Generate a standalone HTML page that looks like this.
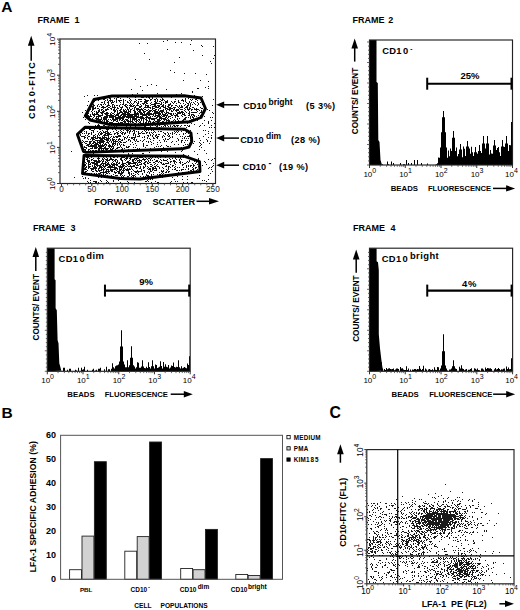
<!DOCTYPE html><html><head><meta charset="utf-8"><style>html,body{margin:0;padding:0;background:#fff;}svg{display:block;}</style></head><body>
<svg width="520" height="610" viewBox="0 0 520 610" font-family="&apos;Liberation Sans&apos;, sans-serif">
<rect width="520" height="610" fill="#fff"/>
<text x="1.3" y="12.4" font-size="15.5" font-weight="bold" text-anchor="start" fill="#000" >A</text>
<text x="1.4" y="418.1" font-size="15.5" font-weight="bold" text-anchor="start" fill="#000" >B</text>
<text x="329.6" y="418.4" font-size="15.8" font-weight="bold" text-anchor="start" fill="#000" >C</text>
<text x="37.6" y="23.2" font-size="9" font-weight="bold" text-anchor="start" fill="#000" >FRAME</text>
<text x="74.5" y="23.2" font-size="9" font-weight="bold" text-anchor="start" fill="#000" >1</text>
<path d="M167 40h1v1h-1zM191 40h1v1h-1zM163 41h1v1h-1zM175 42h1v1h-1zM181 42h1v1h-1zM139 43h1v1h-1zM147 43h1v1h-1zM190 44h1v1h-1zM201 45h1v1h-1zM202 46h1v1h-1zM213 46h1v1h-1zM167 49h1v1h-1zM193 50h1v1h-1zM144 53h1v1h-1zM202 55h1v1h-1zM214 55h1v1h-1zM179 57h1v1h-1zM213 58h1v1h-1zM149 59h1v1h-1zM210 61h1v1h-1zM174 62h1v1h-1zM211 63h1v1h-1zM170 70h1v1h-1zM174 72h1v1h-1zM184 73h1v1h-1zM195 73h1v1h-1zM206 74h1v1h-1zM135 79h1v1h-1zM183 80h1v1h-1zM200 80h1v1h-1zM208 81h1v1h-1zM151 84h1v1h-1zM147 85h1v1h-1zM156 85h1v1h-1zM140 86h1v1h-1zM208 86h1v1h-1zM205 87h1v1h-1zM197 88h1v1h-1zM198 88h1v1h-1zM208 88h1v1h-1zM131 89h1v1h-1zM166 89h1v1h-1zM142 90h1v1h-1zM192 91h1v1h-1zM192 92h1v1h-1zM137 93h1v1h-1zM157 93h1v1h-1zM181 93h1v1h-1zM132 94h1v1h-1zM176 94h1v1h-1zM87 95h1v1h-1zM94 95h1v1h-1zM97 95h1v1h-1zM108 95h1v1h-1zM153 95h1v1h-1zM177 95h1v1h-1zM179 95h1v1h-1zM186 95h1v1h-1zM194 95h1v1h-1zM84 96h1v1h-1zM119 96h1v1h-1zM131 96h1v1h-1zM139 96h1v1h-1zM141 96h1v1h-1zM142 96h1v1h-1zM145 96h1v1h-1zM147 96h1v1h-1zM149 96h1v1h-1zM150 96h1v1h-1zM153 96h1v1h-1zM158 96h1v1h-1zM170 96h1v1h-1zM171 96h1v1h-1zM172 96h1v1h-1zM179 96h1v1h-1zM182 96h1v1h-1zM184 96h1v1h-1zM185 96h1v1h-1zM188 96h1v1h-1zM193 96h1v1h-1zM202 96h1v1h-1zM117 97h1v1h-1zM118 97h1v1h-1zM127 97h1v1h-1zM135 97h1v1h-1zM141 97h1v1h-1zM142 97h1v1h-1zM143 97h1v1h-1zM146 97h1v1h-1zM148 97h1v1h-1zM149 97h1v1h-1zM152 97h1v1h-1zM161 97h1v1h-1zM171 97h1v1h-1zM189 97h1v1h-1zM194 97h1v1h-1zM201 97h1v1h-1zM94 98h1v1h-1zM105 98h1v1h-1zM109 98h1v1h-1zM110 98h1v1h-1zM114 98h1v1h-1zM116 98h1v1h-1zM120 98h1v1h-1zM129 98h1v1h-1zM149 98h1v1h-1zM152 98h1v1h-1zM156 98h1v1h-1zM162 98h1v1h-1zM185 98h1v1h-1zM188 98h1v1h-1zM196 98h1v1h-1zM200 98h1v1h-1zM97 99h1v1h-1zM103 99h1v1h-1zM104 99h1v1h-1zM107 99h1v1h-1zM110 99h1v1h-1zM116 99h1v1h-1zM123 99h1v1h-1zM130 99h1v1h-1zM135 99h1v1h-1zM138 99h1v1h-1zM139 99h1v1h-1zM140 99h1v1h-1zM141 99h1v1h-1zM144 99h1v1h-1zM145 99h1v1h-1zM150 99h1v1h-1zM151 99h1v1h-1zM154 99h1v1h-1zM155 99h1v1h-1zM157 99h1v1h-1zM160 99h1v1h-1zM162 99h1v1h-1zM163 99h1v1h-1zM175 99h1v1h-1zM182 99h1v1h-1zM185 99h1v1h-1zM190 99h1v1h-1zM192 99h1v1h-1zM195 99h1v1h-1zM196 99h1v1h-1zM213 99h1v1h-1zM95 100h1v1h-1zM98 100h1v1h-1zM105 100h1v1h-1zM107 100h1v1h-1zM109 100h1v1h-1zM110 100h1v1h-1zM111 100h1v1h-1zM112 100h1v1h-1zM116 100h1v1h-1zM118 100h1v1h-1zM119 100h1v1h-1zM120 100h1v1h-1zM121 100h1v1h-1zM123 100h1v1h-1zM125 100h1v1h-1zM129 100h1v1h-1zM131 100h1v1h-1zM136 100h1v1h-1zM145 100h1v1h-1zM146 100h1v1h-1zM147 100h1v1h-1zM148 100h1v1h-1zM150 100h1v1h-1zM155 100h1v1h-1zM157 100h1v1h-1zM161 100h1v1h-1zM162 100h1v1h-1zM164 100h1v1h-1zM167 100h1v1h-1zM178 100h1v1h-1zM181 100h1v1h-1zM182 100h1v1h-1zM183 100h1v1h-1zM185 100h1v1h-1zM191 100h1v1h-1zM197 100h1v1h-1zM88 101h1v1h-1zM94 101h1v1h-1zM104 101h1v1h-1zM108 101h1v1h-1zM110 101h1v1h-1zM112 101h1v1h-1zM114 101h1v1h-1zM116 101h1v1h-1zM119 101h1v1h-1zM123 101h1v1h-1zM127 101h1v1h-1zM130 101h1v1h-1zM134 101h1v1h-1zM135 101h1v1h-1zM138 101h1v1h-1zM140 101h1v1h-1zM141 101h1v1h-1zM144 101h1v1h-1zM145 101h1v1h-1zM146 101h1v1h-1zM147 101h1v1h-1zM154 101h1v1h-1zM155 101h1v1h-1zM157 101h1v1h-1zM159 101h1v1h-1zM160 101h1v1h-1zM165 101h1v1h-1zM166 101h1v1h-1zM167 101h1v1h-1zM171 101h1v1h-1zM174 101h1v1h-1zM175 101h1v1h-1zM178 101h1v1h-1zM183 101h1v1h-1zM185 101h1v1h-1zM189 101h1v1h-1zM195 101h1v1h-1zM101 102h1v1h-1zM102 102h1v1h-1zM104 102h1v1h-1zM107 102h1v1h-1zM108 102h1v1h-1zM111 102h1v1h-1zM112 102h1v1h-1zM113 102h1v1h-1zM116 102h1v1h-1zM120 102h1v1h-1zM123 102h1v1h-1zM127 102h1v1h-1zM128 102h1v1h-1zM130 102h1v1h-1zM134 102h1v1h-1zM136 102h1v1h-1zM138 102h1v1h-1zM144 102h1v1h-1zM145 102h1v1h-1zM146 102h1v1h-1zM151 102h1v1h-1zM155 102h1v1h-1zM156 102h1v1h-1zM161 102h1v1h-1zM163 102h1v1h-1zM165 102h1v1h-1zM166 102h1v1h-1zM167 102h1v1h-1zM172 102h1v1h-1zM174 102h1v1h-1zM178 102h1v1h-1zM179 102h1v1h-1zM186 102h1v1h-1zM189 102h1v1h-1zM191 102h1v1h-1zM193 102h1v1h-1zM197 102h1v1h-1zM200 102h1v1h-1zM202 102h1v1h-1zM92 103h1v1h-1zM104 103h1v1h-1zM108 103h1v1h-1zM111 103h1v1h-1zM123 103h1v1h-1zM129 103h1v1h-1zM131 103h1v1h-1zM133 103h1v1h-1zM137 103h1v1h-1zM138 103h1v1h-1zM142 103h1v1h-1zM143 103h1v1h-1zM144 103h1v1h-1zM146 103h1v1h-1zM147 103h1v1h-1zM150 103h1v1h-1zM154 103h1v1h-1zM155 103h1v1h-1zM156 103h1v1h-1zM157 103h1v1h-1zM158 103h1v1h-1zM159 103h1v1h-1zM161 103h1v1h-1zM165 103h1v1h-1zM170 103h1v1h-1zM173 103h1v1h-1zM176 103h1v1h-1zM180 103h1v1h-1zM183 103h1v1h-1zM187 103h1v1h-1zM188 103h1v1h-1zM190 103h1v1h-1zM194 103h1v1h-1zM198 103h1v1h-1zM93 104h1v1h-1zM98 104h1v1h-1zM100 104h1v1h-1zM101 104h1v1h-1zM103 104h1v1h-1zM105 104h1v1h-1zM108 104h1v1h-1zM112 104h1v1h-1zM113 104h1v1h-1zM120 104h1v1h-1zM122 104h1v1h-1zM123 104h1v1h-1zM125 104h1v1h-1zM126 104h1v1h-1zM130 104h1v1h-1zM132 104h1v1h-1zM137 104h1v1h-1zM140 104h1v1h-1zM143 104h1v1h-1zM145 104h1v1h-1zM151 104h1v1h-1zM152 104h1v1h-1zM153 104h1v1h-1zM154 104h1v1h-1zM155 104h1v1h-1zM160 104h1v1h-1zM161 104h1v1h-1zM163 104h1v1h-1zM168 104h1v1h-1zM169 104h1v1h-1zM170 104h1v1h-1zM185 104h1v1h-1zM188 104h1v1h-1zM190 104h1v1h-1zM192 104h1v1h-1zM195 104h1v1h-1zM198 104h1v1h-1zM202 104h1v1h-1zM203 104h1v1h-1zM87 105h1v1h-1zM91 105h1v1h-1zM93 105h1v1h-1zM94 105h1v1h-1zM97 105h1v1h-1zM101 105h1v1h-1zM107 105h1v1h-1zM108 105h1v1h-1zM109 105h1v1h-1zM112 105h1v1h-1zM114 105h1v1h-1zM116 105h1v1h-1zM117 105h1v1h-1zM119 105h1v1h-1zM124 105h1v1h-1zM125 105h1v1h-1zM127 105h1v1h-1zM129 105h1v1h-1zM130 105h1v1h-1zM131 105h1v1h-1zM133 105h1v1h-1zM134 105h1v1h-1zM136 105h1v1h-1zM137 105h1v1h-1zM138 105h1v1h-1zM141 105h1v1h-1zM145 105h1v1h-1zM146 105h1v1h-1zM147 105h1v1h-1zM148 105h1v1h-1zM150 105h1v1h-1zM154 105h1v1h-1zM155 105h1v1h-1zM157 105h1v1h-1zM158 105h1v1h-1zM159 105h1v1h-1zM162 105h1v1h-1zM163 105h1v1h-1zM165 105h1v1h-1zM168 105h1v1h-1zM169 105h1v1h-1zM171 105h1v1h-1zM172 105h1v1h-1zM175 105h1v1h-1zM176 105h1v1h-1zM179 105h1v1h-1zM181 105h1v1h-1zM184 105h1v1h-1zM187 105h1v1h-1zM188 105h1v1h-1zM190 105h1v1h-1zM197 105h1v1h-1zM212 105h1v1h-1zM91 106h1v1h-1zM92 106h1v1h-1zM93 106h1v1h-1zM97 106h1v1h-1zM99 106h1v1h-1zM102 106h1v1h-1zM103 106h1v1h-1zM106 106h1v1h-1zM107 106h1v1h-1zM110 106h1v1h-1zM112 106h1v1h-1zM114 106h1v1h-1zM119 106h1v1h-1zM122 106h1v1h-1zM125 106h1v1h-1zM126 106h1v1h-1zM130 106h1v1h-1zM131 106h1v1h-1zM132 106h1v1h-1zM133 106h1v1h-1zM135 106h1v1h-1zM139 106h1v1h-1zM140 106h1v1h-1zM141 106h1v1h-1zM145 106h1v1h-1zM147 106h1v1h-1zM148 106h1v1h-1zM152 106h1v1h-1zM153 106h1v1h-1zM154 106h1v1h-1zM155 106h1v1h-1zM156 106h1v1h-1zM158 106h1v1h-1zM159 106h1v1h-1zM161 106h1v1h-1zM162 106h1v1h-1zM163 106h1v1h-1zM165 106h1v1h-1zM167 106h1v1h-1zM168 106h1v1h-1zM171 106h1v1h-1zM177 106h1v1h-1zM179 106h1v1h-1zM181 106h1v1h-1zM182 106h1v1h-1zM186 106h1v1h-1zM187 106h1v1h-1zM190 106h1v1h-1zM90 107h1v1h-1zM92 107h1v1h-1zM93 107h1v1h-1zM95 107h1v1h-1zM101 107h1v1h-1zM102 107h1v1h-1zM103 107h1v1h-1zM104 107h1v1h-1zM105 107h1v1h-1zM108 107h1v1h-1zM109 107h1v1h-1zM112 107h1v1h-1zM113 107h1v1h-1zM114 107h1v1h-1zM115 107h1v1h-1zM117 107h1v1h-1zM120 107h1v1h-1zM121 107h1v1h-1zM122 107h1v1h-1zM126 107h1v1h-1zM127 107h1v1h-1zM129 107h1v1h-1zM134 107h1v1h-1zM135 107h1v1h-1zM139 107h1v1h-1zM140 107h1v1h-1zM144 107h1v1h-1zM145 107h1v1h-1zM146 107h1v1h-1zM147 107h1v1h-1zM148 107h1v1h-1zM149 107h1v1h-1zM150 107h1v1h-1zM152 107h1v1h-1zM155 107h1v1h-1zM156 107h1v1h-1zM157 107h1v1h-1zM158 107h1v1h-1zM160 107h1v1h-1zM163 107h1v1h-1zM164 107h1v1h-1zM165 107h1v1h-1zM168 107h1v1h-1zM169 107h1v1h-1zM170 107h1v1h-1zM173 107h1v1h-1zM174 107h1v1h-1zM175 107h1v1h-1zM178 107h1v1h-1zM180 107h1v1h-1zM181 107h1v1h-1zM182 107h1v1h-1zM185 107h1v1h-1zM186 107h1v1h-1zM187 107h1v1h-1zM189 107h1v1h-1zM192 107h1v1h-1zM193 107h1v1h-1zM200 107h1v1h-1zM204 107h1v1h-1zM92 108h1v1h-1zM93 108h1v1h-1zM94 108h1v1h-1zM95 108h1v1h-1zM97 108h1v1h-1zM98 108h1v1h-1zM103 108h1v1h-1zM107 108h1v1h-1zM110 108h1v1h-1zM111 108h1v1h-1zM114 108h1v1h-1zM117 108h1v1h-1zM118 108h1v1h-1zM121 108h1v1h-1zM127 108h1v1h-1zM129 108h1v1h-1zM132 108h1v1h-1zM134 108h1v1h-1zM136 108h1v1h-1zM137 108h1v1h-1zM138 108h1v1h-1zM141 108h1v1h-1zM143 108h1v1h-1zM150 108h1v1h-1zM152 108h1v1h-1zM153 108h1v1h-1zM154 108h1v1h-1zM159 108h1v1h-1zM160 108h1v1h-1zM165 108h1v1h-1zM166 108h1v1h-1zM167 108h1v1h-1zM169 108h1v1h-1zM170 108h1v1h-1zM171 108h1v1h-1zM172 108h1v1h-1zM174 108h1v1h-1zM179 108h1v1h-1zM184 108h1v1h-1zM187 108h1v1h-1zM189 108h1v1h-1zM190 108h1v1h-1zM194 108h1v1h-1zM196 108h1v1h-1zM201 108h1v1h-1zM202 108h1v1h-1zM90 109h1v1h-1zM92 109h1v1h-1zM93 109h1v1h-1zM99 109h1v1h-1zM101 109h1v1h-1zM102 109h1v1h-1zM105 109h1v1h-1zM106 109h1v1h-1zM107 109h1v1h-1zM108 109h1v1h-1zM111 109h1v1h-1zM113 109h1v1h-1zM114 109h1v1h-1zM116 109h1v1h-1zM120 109h1v1h-1zM121 109h1v1h-1zM123 109h1v1h-1zM125 109h1v1h-1zM127 109h1v1h-1zM128 109h1v1h-1zM130 109h1v1h-1zM131 109h1v1h-1zM134 109h1v1h-1zM136 109h1v1h-1zM137 109h1v1h-1zM138 109h1v1h-1zM139 109h1v1h-1zM140 109h1v1h-1zM141 109h1v1h-1zM142 109h1v1h-1zM144 109h1v1h-1zM145 109h1v1h-1zM148 109h1v1h-1zM152 109h1v1h-1zM155 109h1v1h-1zM156 109h1v1h-1zM158 109h1v1h-1zM163 109h1v1h-1zM165 109h1v1h-1zM167 109h1v1h-1zM168 109h1v1h-1zM169 109h1v1h-1zM170 109h1v1h-1zM173 109h1v1h-1zM174 109h1v1h-1zM176 109h1v1h-1zM177 109h1v1h-1zM178 109h1v1h-1zM180 109h1v1h-1zM181 109h1v1h-1zM182 109h1v1h-1zM185 109h1v1h-1zM187 109h1v1h-1zM188 109h1v1h-1zM189 109h1v1h-1zM191 109h1v1h-1zM192 109h1v1h-1zM194 109h1v1h-1zM195 109h1v1h-1zM196 109h1v1h-1zM197 109h1v1h-1zM198 109h1v1h-1zM207 109h1v1h-1zM85 110h1v1h-1zM92 110h1v1h-1zM98 110h1v1h-1zM99 110h1v1h-1zM101 110h1v1h-1zM103 110h1v1h-1zM105 110h1v1h-1zM106 110h1v1h-1zM113 110h1v1h-1zM114 110h1v1h-1zM115 110h1v1h-1zM117 110h1v1h-1zM119 110h1v1h-1zM120 110h1v1h-1zM123 110h1v1h-1zM124 110h1v1h-1zM126 110h1v1h-1zM128 110h1v1h-1zM130 110h1v1h-1zM133 110h1v1h-1zM134 110h1v1h-1zM137 110h1v1h-1zM139 110h1v1h-1zM140 110h1v1h-1zM142 110h1v1h-1zM143 110h1v1h-1zM146 110h1v1h-1zM147 110h1v1h-1zM149 110h1v1h-1zM150 110h1v1h-1zM151 110h1v1h-1zM153 110h1v1h-1zM154 110h1v1h-1zM155 110h1v1h-1zM158 110h1v1h-1zM160 110h1v1h-1zM161 110h1v1h-1zM162 110h1v1h-1zM163 110h1v1h-1zM166 110h1v1h-1zM169 110h1v1h-1zM171 110h1v1h-1zM173 110h1v1h-1zM175 110h1v1h-1zM176 110h1v1h-1zM177 110h1v1h-1zM178 110h1v1h-1zM184 110h1v1h-1zM188 110h1v1h-1zM191 110h1v1h-1zM196 110h1v1h-1zM199 110h1v1h-1zM201 110h1v1h-1zM209 110h1v1h-1zM91 111h1v1h-1zM94 111h1v1h-1zM96 111h1v1h-1zM98 111h1v1h-1zM99 111h1v1h-1zM102 111h1v1h-1zM103 111h1v1h-1zM104 111h1v1h-1zM114 111h1v1h-1zM115 111h1v1h-1zM117 111h1v1h-1zM120 111h1v1h-1zM121 111h1v1h-1zM123 111h1v1h-1zM124 111h1v1h-1zM125 111h1v1h-1zM126 111h1v1h-1zM128 111h1v1h-1zM129 111h1v1h-1zM130 111h1v1h-1zM134 111h1v1h-1zM135 111h1v1h-1zM138 111h1v1h-1zM139 111h1v1h-1zM140 111h1v1h-1zM143 111h1v1h-1zM144 111h1v1h-1zM145 111h1v1h-1zM148 111h1v1h-1zM149 111h1v1h-1zM150 111h1v1h-1zM152 111h1v1h-1zM154 111h1v1h-1zM155 111h1v1h-1zM156 111h1v1h-1zM157 111h1v1h-1zM159 111h1v1h-1zM160 111h1v1h-1zM161 111h1v1h-1zM162 111h1v1h-1zM163 111h1v1h-1zM166 111h1v1h-1zM171 111h1v1h-1zM172 111h1v1h-1zM176 111h1v1h-1zM179 111h1v1h-1zM181 111h1v1h-1zM182 111h1v1h-1zM185 111h1v1h-1zM189 111h1v1h-1zM197 111h1v1h-1zM201 111h1v1h-1zM203 111h1v1h-1zM82 112h1v1h-1zM87 112h1v1h-1zM92 112h1v1h-1zM96 112h1v1h-1zM97 112h1v1h-1zM98 112h1v1h-1zM100 112h1v1h-1zM101 112h1v1h-1zM102 112h1v1h-1zM103 112h1v1h-1zM106 112h1v1h-1zM107 112h1v1h-1zM111 112h1v1h-1zM114 112h1v1h-1zM117 112h1v1h-1zM119 112h1v1h-1zM120 112h1v1h-1zM121 112h1v1h-1zM122 112h1v1h-1zM124 112h1v1h-1zM125 112h1v1h-1zM126 112h1v1h-1zM127 112h1v1h-1zM128 112h1v1h-1zM130 112h1v1h-1zM134 112h1v1h-1zM135 112h1v1h-1zM137 112h1v1h-1zM139 112h1v1h-1zM140 112h1v1h-1zM141 112h1v1h-1zM143 112h1v1h-1zM144 112h1v1h-1zM147 112h1v1h-1zM148 112h1v1h-1zM149 112h1v1h-1zM154 112h1v1h-1zM155 112h1v1h-1zM156 112h1v1h-1zM157 112h1v1h-1zM158 112h1v1h-1zM159 112h1v1h-1zM161 112h1v1h-1zM162 112h1v1h-1zM164 112h1v1h-1zM166 112h1v1h-1zM167 112h1v1h-1zM168 112h1v1h-1zM177 112h1v1h-1zM178 112h1v1h-1zM179 112h1v1h-1zM180 112h1v1h-1zM181 112h1v1h-1zM182 112h1v1h-1zM183 112h1v1h-1zM186 112h1v1h-1zM189 112h1v1h-1zM191 112h1v1h-1zM192 112h1v1h-1zM193 112h1v1h-1zM194 112h1v1h-1zM195 112h1v1h-1zM196 112h1v1h-1zM200 112h1v1h-1zM201 112h1v1h-1zM212 112h1v1h-1zM87 113h1v1h-1zM88 113h1v1h-1zM92 113h1v1h-1zM94 113h1v1h-1zM96 113h1v1h-1zM97 113h1v1h-1zM101 113h1v1h-1zM102 113h1v1h-1zM104 113h1v1h-1zM105 113h1v1h-1zM106 113h1v1h-1zM107 113h1v1h-1zM108 113h1v1h-1zM110 113h1v1h-1zM112 113h1v1h-1zM113 113h1v1h-1zM117 113h1v1h-1zM118 113h1v1h-1zM119 113h1v1h-1zM122 113h1v1h-1zM123 113h1v1h-1zM124 113h1v1h-1zM125 113h1v1h-1zM127 113h1v1h-1zM128 113h1v1h-1zM129 113h1v1h-1zM134 113h1v1h-1zM135 113h1v1h-1zM136 113h1v1h-1zM137 113h1v1h-1zM138 113h1v1h-1zM140 113h1v1h-1zM141 113h1v1h-1zM142 113h1v1h-1zM144 113h1v1h-1zM146 113h1v1h-1zM147 113h1v1h-1zM148 113h1v1h-1zM149 113h1v1h-1zM150 113h1v1h-1zM151 113h1v1h-1zM153 113h1v1h-1zM154 113h1v1h-1zM155 113h1v1h-1zM156 113h1v1h-1zM157 113h1v1h-1zM158 113h1v1h-1zM159 113h1v1h-1zM160 113h1v1h-1zM162 113h1v1h-1zM165 113h1v1h-1zM166 113h1v1h-1zM168 113h1v1h-1zM169 113h1v1h-1zM170 113h1v1h-1zM171 113h1v1h-1zM173 113h1v1h-1zM175 113h1v1h-1zM177 113h1v1h-1zM178 113h1v1h-1zM179 113h1v1h-1zM180 113h1v1h-1zM182 113h1v1h-1zM184 113h1v1h-1zM188 113h1v1h-1zM189 113h1v1h-1zM199 113h1v1h-1zM213 113h1v1h-1zM87 114h1v1h-1zM90 114h1v1h-1zM92 114h1v1h-1zM93 114h1v1h-1zM94 114h1v1h-1zM95 114h1v1h-1zM96 114h1v1h-1zM97 114h1v1h-1zM98 114h1v1h-1zM102 114h1v1h-1zM105 114h1v1h-1zM106 114h1v1h-1zM107 114h1v1h-1zM110 114h1v1h-1zM111 114h1v1h-1zM114 114h1v1h-1zM116 114h1v1h-1zM117 114h1v1h-1zM118 114h1v1h-1zM121 114h1v1h-1zM122 114h1v1h-1zM123 114h1v1h-1zM124 114h1v1h-1zM125 114h1v1h-1zM126 114h1v1h-1zM127 114h1v1h-1zM128 114h1v1h-1zM129 114h1v1h-1zM130 114h1v1h-1zM131 114h1v1h-1zM132 114h1v1h-1zM133 114h1v1h-1zM134 114h1v1h-1zM135 114h1v1h-1zM136 114h1v1h-1zM137 114h1v1h-1zM138 114h1v1h-1zM140 114h1v1h-1zM141 114h1v1h-1zM142 114h1v1h-1zM143 114h1v1h-1zM144 114h1v1h-1zM145 114h1v1h-1zM146 114h1v1h-1zM147 114h1v1h-1zM148 114h1v1h-1zM149 114h1v1h-1zM150 114h1v1h-1zM151 114h1v1h-1zM152 114h1v1h-1zM153 114h1v1h-1zM155 114h1v1h-1zM158 114h1v1h-1zM159 114h1v1h-1zM160 114h1v1h-1zM162 114h1v1h-1zM163 114h1v1h-1zM164 114h1v1h-1zM165 114h1v1h-1zM167 114h1v1h-1zM170 114h1v1h-1zM171 114h1v1h-1zM173 114h1v1h-1zM176 114h1v1h-1zM177 114h1v1h-1zM182 114h1v1h-1zM183 114h1v1h-1zM184 114h1v1h-1zM189 114h1v1h-1zM191 114h1v1h-1zM192 114h1v1h-1zM193 114h1v1h-1zM86 115h1v1h-1zM87 115h1v1h-1zM88 115h1v1h-1zM90 115h1v1h-1zM93 115h1v1h-1zM94 115h1v1h-1zM98 115h1v1h-1zM99 115h1v1h-1zM100 115h1v1h-1zM101 115h1v1h-1zM102 115h1v1h-1zM106 115h1v1h-1zM107 115h1v1h-1zM108 115h1v1h-1zM109 115h1v1h-1zM110 115h1v1h-1zM111 115h1v1h-1zM112 115h1v1h-1zM113 115h1v1h-1zM115 115h1v1h-1zM116 115h1v1h-1zM117 115h1v1h-1zM118 115h1v1h-1zM120 115h1v1h-1zM121 115h1v1h-1zM123 115h1v1h-1zM124 115h1v1h-1zM125 115h1v1h-1zM127 115h1v1h-1zM128 115h1v1h-1zM129 115h1v1h-1zM130 115h1v1h-1zM131 115h1v1h-1zM132 115h1v1h-1zM134 115h1v1h-1zM135 115h1v1h-1zM136 115h1v1h-1zM138 115h1v1h-1zM142 115h1v1h-1zM143 115h1v1h-1zM144 115h1v1h-1zM145 115h1v1h-1zM146 115h1v1h-1zM148 115h1v1h-1zM149 115h1v1h-1zM153 115h1v1h-1zM155 115h1v1h-1zM156 115h1v1h-1zM157 115h1v1h-1zM158 115h1v1h-1zM159 115h1v1h-1zM161 115h1v1h-1zM163 115h1v1h-1zM164 115h1v1h-1zM165 115h1v1h-1zM166 115h1v1h-1zM167 115h1v1h-1zM171 115h1v1h-1zM172 115h1v1h-1zM174 115h1v1h-1zM175 115h1v1h-1zM176 115h1v1h-1zM177 115h1v1h-1zM181 115h1v1h-1zM184 115h1v1h-1zM185 115h1v1h-1zM188 115h1v1h-1zM189 115h1v1h-1zM191 115h1v1h-1zM193 115h1v1h-1zM194 115h1v1h-1zM198 115h1v1h-1zM200 115h1v1h-1zM87 116h1v1h-1zM88 116h1v1h-1zM89 116h1v1h-1zM90 116h1v1h-1zM91 116h1v1h-1zM94 116h1v1h-1zM96 116h1v1h-1zM97 116h1v1h-1zM98 116h1v1h-1zM99 116h1v1h-1zM100 116h1v1h-1zM104 116h1v1h-1zM105 116h1v1h-1zM106 116h1v1h-1zM107 116h1v1h-1zM109 116h1v1h-1zM110 116h1v1h-1zM111 116h1v1h-1zM112 116h1v1h-1zM113 116h1v1h-1zM114 116h1v1h-1zM115 116h1v1h-1zM118 116h1v1h-1zM119 116h1v1h-1zM120 116h1v1h-1zM122 116h1v1h-1zM123 116h1v1h-1zM124 116h1v1h-1zM125 116h1v1h-1zM126 116h1v1h-1zM127 116h1v1h-1zM128 116h1v1h-1zM129 116h1v1h-1zM130 116h1v1h-1zM131 116h1v1h-1zM132 116h1v1h-1zM133 116h1v1h-1zM134 116h1v1h-1zM135 116h1v1h-1zM136 116h1v1h-1zM137 116h1v1h-1zM138 116h1v1h-1zM140 116h1v1h-1zM141 116h1v1h-1zM142 116h1v1h-1zM146 116h1v1h-1zM147 116h1v1h-1zM150 116h1v1h-1zM152 116h1v1h-1zM154 116h1v1h-1zM155 116h1v1h-1zM157 116h1v1h-1zM158 116h1v1h-1zM159 116h1v1h-1zM160 116h1v1h-1zM162 116h1v1h-1zM163 116h1v1h-1zM164 116h1v1h-1zM166 116h1v1h-1zM168 116h1v1h-1zM169 116h1v1h-1zM170 116h1v1h-1zM175 116h1v1h-1zM177 116h1v1h-1zM178 116h1v1h-1zM182 116h1v1h-1zM190 116h1v1h-1zM192 116h1v1h-1zM194 116h1v1h-1zM196 116h1v1h-1zM204 116h1v1h-1zM83 117h1v1h-1zM87 117h1v1h-1zM89 117h1v1h-1zM93 117h1v1h-1zM96 117h1v1h-1zM98 117h1v1h-1zM101 117h1v1h-1zM103 117h1v1h-1zM104 117h1v1h-1zM105 117h1v1h-1zM106 117h1v1h-1zM107 117h1v1h-1zM109 117h1v1h-1zM110 117h1v1h-1zM111 117h1v1h-1zM112 117h1v1h-1zM113 117h1v1h-1zM115 117h1v1h-1zM116 117h1v1h-1zM117 117h1v1h-1zM118 117h1v1h-1zM119 117h1v1h-1zM120 117h1v1h-1zM121 117h1v1h-1zM122 117h1v1h-1zM123 117h1v1h-1zM124 117h1v1h-1zM126 117h1v1h-1zM127 117h1v1h-1zM128 117h1v1h-1zM129 117h1v1h-1zM130 117h1v1h-1zM131 117h1v1h-1zM132 117h1v1h-1zM133 117h1v1h-1zM134 117h1v1h-1zM136 117h1v1h-1zM137 117h1v1h-1zM138 117h1v1h-1zM139 117h1v1h-1zM140 117h1v1h-1zM141 117h1v1h-1zM142 117h1v1h-1zM143 117h1v1h-1zM145 117h1v1h-1zM146 117h1v1h-1zM147 117h1v1h-1zM148 117h1v1h-1zM149 117h1v1h-1zM150 117h1v1h-1zM156 117h1v1h-1zM157 117h1v1h-1zM159 117h1v1h-1zM160 117h1v1h-1zM161 117h1v1h-1zM165 117h1v1h-1zM166 117h1v1h-1zM168 117h1v1h-1zM172 117h1v1h-1zM175 117h1v1h-1zM185 117h1v1h-1zM186 117h1v1h-1zM188 117h1v1h-1zM190 117h1v1h-1zM192 117h1v1h-1zM193 117h1v1h-1zM198 117h1v1h-1zM200 117h1v1h-1zM210 117h1v1h-1zM212 117h1v1h-1zM90 118h1v1h-1zM92 118h1v1h-1zM95 118h1v1h-1zM96 118h1v1h-1zM97 118h1v1h-1zM98 118h1v1h-1zM101 118h1v1h-1zM103 118h1v1h-1zM104 118h1v1h-1zM105 118h1v1h-1zM106 118h1v1h-1zM112 118h1v1h-1zM113 118h1v1h-1zM115 118h1v1h-1zM116 118h1v1h-1zM117 118h1v1h-1zM118 118h1v1h-1zM119 118h1v1h-1zM120 118h1v1h-1zM121 118h1v1h-1zM122 118h1v1h-1zM123 118h1v1h-1zM128 118h1v1h-1zM130 118h1v1h-1zM132 118h1v1h-1zM133 118h1v1h-1zM134 118h1v1h-1zM135 118h1v1h-1zM136 118h1v1h-1zM140 118h1v1h-1zM141 118h1v1h-1zM142 118h1v1h-1zM143 118h1v1h-1zM144 118h1v1h-1zM146 118h1v1h-1zM148 118h1v1h-1zM149 118h1v1h-1zM150 118h1v1h-1zM151 118h1v1h-1zM152 118h1v1h-1zM153 118h1v1h-1zM154 118h1v1h-1zM155 118h1v1h-1zM156 118h1v1h-1zM159 118h1v1h-1zM160 118h1v1h-1zM161 118h1v1h-1zM162 118h1v1h-1zM163 118h1v1h-1zM164 118h1v1h-1zM165 118h1v1h-1zM167 118h1v1h-1zM170 118h1v1h-1zM177 118h1v1h-1zM179 118h1v1h-1zM184 118h1v1h-1zM185 118h1v1h-1zM190 118h1v1h-1zM193 118h1v1h-1zM199 118h1v1h-1zM85 119h1v1h-1zM89 119h1v1h-1zM91 119h1v1h-1zM96 119h1v1h-1zM97 119h1v1h-1zM98 119h1v1h-1zM99 119h1v1h-1zM100 119h1v1h-1zM101 119h1v1h-1zM103 119h1v1h-1zM104 119h1v1h-1zM105 119h1v1h-1zM106 119h1v1h-1zM108 119h1v1h-1zM110 119h1v1h-1zM112 119h1v1h-1zM113 119h1v1h-1zM114 119h1v1h-1zM115 119h1v1h-1zM116 119h1v1h-1zM117 119h1v1h-1zM119 119h1v1h-1zM120 119h1v1h-1zM122 119h1v1h-1zM123 119h1v1h-1zM125 119h1v1h-1zM126 119h1v1h-1zM127 119h1v1h-1zM130 119h1v1h-1zM132 119h1v1h-1zM133 119h1v1h-1zM134 119h1v1h-1zM135 119h1v1h-1zM136 119h1v1h-1zM138 119h1v1h-1zM139 119h1v1h-1zM141 119h1v1h-1zM143 119h1v1h-1zM145 119h1v1h-1zM146 119h1v1h-1zM149 119h1v1h-1zM151 119h1v1h-1zM152 119h1v1h-1zM153 119h1v1h-1zM154 119h1v1h-1zM157 119h1v1h-1zM158 119h1v1h-1zM159 119h1v1h-1zM161 119h1v1h-1zM163 119h1v1h-1zM164 119h1v1h-1zM165 119h1v1h-1zM166 119h1v1h-1zM168 119h1v1h-1zM174 119h1v1h-1zM177 119h1v1h-1zM183 119h1v1h-1zM184 119h1v1h-1zM185 119h1v1h-1zM191 119h1v1h-1zM192 119h1v1h-1zM93 120h1v1h-1zM95 120h1v1h-1zM98 120h1v1h-1zM99 120h1v1h-1zM100 120h1v1h-1zM102 120h1v1h-1zM104 120h1v1h-1zM106 120h1v1h-1zM107 120h1v1h-1zM111 120h1v1h-1zM113 120h1v1h-1zM114 120h1v1h-1zM115 120h1v1h-1zM117 120h1v1h-1zM119 120h1v1h-1zM121 120h1v1h-1zM122 120h1v1h-1zM124 120h1v1h-1zM126 120h1v1h-1zM127 120h1v1h-1zM128 120h1v1h-1zM130 120h1v1h-1zM132 120h1v1h-1zM134 120h1v1h-1zM136 120h1v1h-1zM137 120h1v1h-1zM139 120h1v1h-1zM141 120h1v1h-1zM143 120h1v1h-1zM146 120h1v1h-1zM147 120h1v1h-1zM149 120h1v1h-1zM154 120h1v1h-1zM157 120h1v1h-1zM158 120h1v1h-1zM159 120h1v1h-1zM160 120h1v1h-1zM164 120h1v1h-1zM166 120h1v1h-1zM167 120h1v1h-1zM168 120h1v1h-1zM169 120h1v1h-1zM173 120h1v1h-1zM175 120h1v1h-1zM178 120h1v1h-1zM182 120h1v1h-1zM183 120h1v1h-1zM189 120h1v1h-1zM191 120h1v1h-1zM197 120h1v1h-1zM204 120h1v1h-1zM211 120h1v1h-1zM97 121h1v1h-1zM98 121h1v1h-1zM99 121h1v1h-1zM100 121h1v1h-1zM101 121h1v1h-1zM104 121h1v1h-1zM106 121h1v1h-1zM107 121h1v1h-1zM108 121h1v1h-1zM113 121h1v1h-1zM116 121h1v1h-1zM117 121h1v1h-1zM123 121h1v1h-1zM124 121h1v1h-1zM125 121h1v1h-1zM127 121h1v1h-1zM128 121h1v1h-1zM129 121h1v1h-1zM130 121h1v1h-1zM131 121h1v1h-1zM132 121h1v1h-1zM135 121h1v1h-1zM136 121h1v1h-1zM138 121h1v1h-1zM140 121h1v1h-1zM143 121h1v1h-1zM146 121h1v1h-1zM148 121h1v1h-1zM149 121h1v1h-1zM150 121h1v1h-1zM153 121h1v1h-1zM155 121h1v1h-1zM156 121h1v1h-1zM157 121h1v1h-1zM158 121h1v1h-1zM159 121h1v1h-1zM162 121h1v1h-1zM163 121h1v1h-1zM166 121h1v1h-1zM168 121h1v1h-1zM169 121h1v1h-1zM171 121h1v1h-1zM172 121h1v1h-1zM175 121h1v1h-1zM177 121h1v1h-1zM178 121h1v1h-1zM179 121h1v1h-1zM180 121h1v1h-1zM183 121h1v1h-1zM184 121h1v1h-1zM185 121h1v1h-1zM187 121h1v1h-1zM188 121h1v1h-1zM190 121h1v1h-1zM208 121h1v1h-1zM88 122h1v1h-1zM101 122h1v1h-1zM103 122h1v1h-1zM104 122h1v1h-1zM105 122h1v1h-1zM106 122h1v1h-1zM107 122h1v1h-1zM109 122h1v1h-1zM110 122h1v1h-1zM111 122h1v1h-1zM112 122h1v1h-1zM118 122h1v1h-1zM120 122h1v1h-1zM121 122h1v1h-1zM122 122h1v1h-1zM124 122h1v1h-1zM125 122h1v1h-1zM128 122h1v1h-1zM130 122h1v1h-1zM132 122h1v1h-1zM133 122h1v1h-1zM136 122h1v1h-1zM139 122h1v1h-1zM140 122h1v1h-1zM143 122h1v1h-1zM145 122h1v1h-1zM146 122h1v1h-1zM148 122h1v1h-1zM150 122h1v1h-1zM152 122h1v1h-1zM153 122h1v1h-1zM154 122h1v1h-1zM157 122h1v1h-1zM158 122h1v1h-1zM160 122h1v1h-1zM161 122h1v1h-1zM162 122h1v1h-1zM169 122h1v1h-1zM175 122h1v1h-1zM176 122h1v1h-1zM182 122h1v1h-1zM208 122h1v1h-1zM89 123h1v1h-1zM101 123h1v1h-1zM105 123h1v1h-1zM106 123h1v1h-1zM108 123h1v1h-1zM115 123h1v1h-1zM117 123h1v1h-1zM119 123h1v1h-1zM122 123h1v1h-1zM126 123h1v1h-1zM127 123h1v1h-1zM128 123h1v1h-1zM134 123h1v1h-1zM135 123h1v1h-1zM138 123h1v1h-1zM140 123h1v1h-1zM141 123h1v1h-1zM142 123h1v1h-1zM143 123h1v1h-1zM145 123h1v1h-1zM147 123h1v1h-1zM149 123h1v1h-1zM151 123h1v1h-1zM152 123h1v1h-1zM154 123h1v1h-1zM157 123h1v1h-1zM160 123h1v1h-1zM161 123h1v1h-1zM164 123h1v1h-1zM187 123h1v1h-1zM191 123h1v1h-1zM202 123h1v1h-1zM208 123h1v1h-1zM214 123h1v1h-1zM98 124h1v1h-1zM122 124h1v1h-1zM128 124h1v1h-1zM130 124h1v1h-1zM132 124h1v1h-1zM134 124h1v1h-1zM135 124h1v1h-1zM136 124h1v1h-1zM138 124h1v1h-1zM139 124h1v1h-1zM141 124h1v1h-1zM143 124h1v1h-1zM144 124h1v1h-1zM147 124h1v1h-1zM150 124h1v1h-1zM161 124h1v1h-1zM194 124h1v1h-1zM95 125h1v1h-1zM97 125h1v1h-1zM98 125h1v1h-1zM99 125h1v1h-1zM103 125h1v1h-1zM104 125h1v1h-1zM109 125h1v1h-1zM111 125h1v1h-1zM113 125h1v1h-1zM116 125h1v1h-1zM128 125h1v1h-1zM129 125h1v1h-1zM135 125h1v1h-1zM136 125h1v1h-1zM138 125h1v1h-1zM139 125h1v1h-1zM147 125h1v1h-1zM148 125h1v1h-1zM152 125h1v1h-1zM155 125h1v1h-1zM157 125h1v1h-1zM159 125h1v1h-1zM164 125h1v1h-1zM165 125h1v1h-1zM167 125h1v1h-1zM170 125h1v1h-1zM173 125h1v1h-1zM174 125h1v1h-1zM176 125h1v1h-1zM177 125h1v1h-1zM178 125h1v1h-1zM181 125h1v1h-1zM184 125h1v1h-1zM185 125h1v1h-1zM187 125h1v1h-1zM189 125h1v1h-1zM200 125h1v1h-1zM204 125h1v1h-1zM211 125h1v1h-1zM96 126h1v1h-1zM97 126h1v1h-1zM98 126h1v1h-1zM99 126h1v1h-1zM101 126h1v1h-1zM105 126h1v1h-1zM108 126h1v1h-1zM114 126h1v1h-1zM116 126h1v1h-1zM126 126h1v1h-1zM130 126h1v1h-1zM135 126h1v1h-1zM144 126h1v1h-1zM145 126h1v1h-1zM150 126h1v1h-1zM156 126h1v1h-1zM157 126h1v1h-1zM161 126h1v1h-1zM163 126h1v1h-1zM165 126h1v1h-1zM168 126h1v1h-1zM170 126h1v1h-1zM172 126h1v1h-1zM174 126h1v1h-1zM175 126h1v1h-1zM177 126h1v1h-1zM180 126h1v1h-1zM188 126h1v1h-1zM189 126h1v1h-1zM199 126h1v1h-1zM84 127h1v1h-1zM90 127h1v1h-1zM92 127h1v1h-1zM93 127h1v1h-1zM95 127h1v1h-1zM100 127h1v1h-1zM118 127h1v1h-1zM120 127h1v1h-1zM128 127h1v1h-1zM148 127h1v1h-1zM159 127h1v1h-1zM186 127h1v1h-1zM209 127h1v1h-1zM211 127h1v1h-1zM214 127h1v1h-1zM82 128h1v1h-1zM83 128h1v1h-1zM85 128h1v1h-1zM91 128h1v1h-1zM94 128h1v1h-1zM98 128h1v1h-1zM104 128h1v1h-1zM105 128h1v1h-1zM123 128h1v1h-1zM127 128h1v1h-1zM129 128h1v1h-1zM141 128h1v1h-1zM142 128h1v1h-1zM156 128h1v1h-1zM178 128h1v1h-1zM181 128h1v1h-1zM82 129h1v1h-1zM83 129h1v1h-1zM84 129h1v1h-1zM89 129h1v1h-1zM90 129h1v1h-1zM94 129h1v1h-1zM99 129h1v1h-1zM100 129h1v1h-1zM106 129h1v1h-1zM107 129h1v1h-1zM108 129h1v1h-1zM112 129h1v1h-1zM115 129h1v1h-1zM121 129h1v1h-1zM125 129h1v1h-1zM127 129h1v1h-1zM129 129h1v1h-1zM138 129h1v1h-1zM145 129h1v1h-1zM149 129h1v1h-1zM150 129h1v1h-1zM154 129h1v1h-1zM155 129h1v1h-1zM158 129h1v1h-1zM162 129h1v1h-1zM163 129h1v1h-1zM172 129h1v1h-1zM180 129h1v1h-1zM183 129h1v1h-1zM184 129h1v1h-1zM186 129h1v1h-1zM82 130h1v1h-1zM91 130h1v1h-1zM92 130h1v1h-1zM93 130h1v1h-1zM102 130h1v1h-1zM107 130h1v1h-1zM116 130h1v1h-1zM120 130h1v1h-1zM123 130h1v1h-1zM126 130h1v1h-1zM127 130h1v1h-1zM128 130h1v1h-1zM130 130h1v1h-1zM133 130h1v1h-1zM134 130h1v1h-1zM144 130h1v1h-1zM146 130h1v1h-1zM148 130h1v1h-1zM151 130h1v1h-1zM153 130h1v1h-1zM177 130h1v1h-1zM183 130h1v1h-1zM186 130h1v1h-1zM190 130h1v1h-1zM203 130h1v1h-1zM205 130h1v1h-1zM84 131h1v1h-1zM86 131h1v1h-1zM93 131h1v1h-1zM97 131h1v1h-1zM100 131h1v1h-1zM103 131h1v1h-1zM105 131h1v1h-1zM106 131h1v1h-1zM107 131h1v1h-1zM113 131h1v1h-1zM118 131h1v1h-1zM121 131h1v1h-1zM127 131h1v1h-1zM129 131h1v1h-1zM130 131h1v1h-1zM132 131h1v1h-1zM134 131h1v1h-1zM136 131h1v1h-1zM138 131h1v1h-1zM142 131h1v1h-1zM145 131h1v1h-1zM154 131h1v1h-1zM158 131h1v1h-1zM160 131h1v1h-1zM161 131h1v1h-1zM174 131h1v1h-1zM176 131h1v1h-1zM178 131h1v1h-1zM181 131h1v1h-1zM208 131h1v1h-1zM81 132h1v1h-1zM86 132h1v1h-1zM91 132h1v1h-1zM93 132h1v1h-1zM99 132h1v1h-1zM101 132h1v1h-1zM103 132h1v1h-1zM104 132h1v1h-1zM105 132h1v1h-1zM107 132h1v1h-1zM108 132h1v1h-1zM110 132h1v1h-1zM116 132h1v1h-1zM117 132h1v1h-1zM120 132h1v1h-1zM122 132h1v1h-1zM123 132h1v1h-1zM125 132h1v1h-1zM127 132h1v1h-1zM129 132h1v1h-1zM134 132h1v1h-1zM138 132h1v1h-1zM141 132h1v1h-1zM146 132h1v1h-1zM147 132h1v1h-1zM149 132h1v1h-1zM151 132h1v1h-1zM153 132h1v1h-1zM155 132h1v1h-1zM163 132h1v1h-1zM167 132h1v1h-1zM172 132h1v1h-1zM175 132h1v1h-1zM177 132h1v1h-1zM186 132h1v1h-1zM212 132h1v1h-1zM82 133h1v1h-1zM84 133h1v1h-1zM86 133h1v1h-1zM88 133h1v1h-1zM89 133h1v1h-1zM91 133h1v1h-1zM98 133h1v1h-1zM100 133h1v1h-1zM101 133h1v1h-1zM102 133h1v1h-1zM105 133h1v1h-1zM106 133h1v1h-1zM107 133h1v1h-1zM108 133h1v1h-1zM109 133h1v1h-1zM114 133h1v1h-1zM115 133h1v1h-1zM117 133h1v1h-1zM118 133h1v1h-1zM121 133h1v1h-1zM122 133h1v1h-1zM124 133h1v1h-1zM125 133h1v1h-1zM129 133h1v1h-1zM133 133h1v1h-1zM134 133h1v1h-1zM138 133h1v1h-1zM139 133h1v1h-1zM140 133h1v1h-1zM142 133h1v1h-1zM143 133h1v1h-1zM144 133h1v1h-1zM146 133h1v1h-1zM149 133h1v1h-1zM152 133h1v1h-1zM164 133h1v1h-1zM165 133h1v1h-1zM168 133h1v1h-1zM170 133h1v1h-1zM172 133h1v1h-1zM174 133h1v1h-1zM183 133h1v1h-1zM185 133h1v1h-1zM188 133h1v1h-1zM197 133h1v1h-1zM208 133h1v1h-1zM77 134h1v1h-1zM80 134h1v1h-1zM88 134h1v1h-1zM91 134h1v1h-1zM95 134h1v1h-1zM98 134h1v1h-1zM100 134h1v1h-1zM101 134h1v1h-1zM104 134h1v1h-1zM105 134h1v1h-1zM107 134h1v1h-1zM108 134h1v1h-1zM109 134h1v1h-1zM110 134h1v1h-1zM111 134h1v1h-1zM114 134h1v1h-1zM117 134h1v1h-1zM122 134h1v1h-1zM124 134h1v1h-1zM133 134h1v1h-1zM135 134h1v1h-1zM138 134h1v1h-1zM150 134h1v1h-1zM153 134h1v1h-1zM156 134h1v1h-1zM158 134h1v1h-1zM159 134h1v1h-1zM165 134h1v1h-1zM168 134h1v1h-1zM172 134h1v1h-1zM176 134h1v1h-1zM179 134h1v1h-1zM183 134h1v1h-1zM205 134h1v1h-1zM80 135h1v1h-1zM85 135h1v1h-1zM87 135h1v1h-1zM93 135h1v1h-1zM94 135h1v1h-1zM97 135h1v1h-1zM99 135h1v1h-1zM103 135h1v1h-1zM104 135h1v1h-1zM105 135h1v1h-1zM106 135h1v1h-1zM107 135h1v1h-1zM108 135h1v1h-1zM118 135h1v1h-1zM119 135h1v1h-1zM120 135h1v1h-1zM128 135h1v1h-1zM133 135h1v1h-1zM135 135h1v1h-1zM139 135h1v1h-1zM147 135h1v1h-1zM148 135h1v1h-1zM150 135h1v1h-1zM152 135h1v1h-1zM155 135h1v1h-1zM156 135h1v1h-1zM163 135h1v1h-1zM167 135h1v1h-1zM169 135h1v1h-1zM189 135h1v1h-1zM190 135h1v1h-1zM211 135h1v1h-1zM81 136h1v1h-1zM82 136h1v1h-1zM83 136h1v1h-1zM84 136h1v1h-1zM88 136h1v1h-1zM89 136h1v1h-1zM93 136h1v1h-1zM95 136h1v1h-1zM97 136h1v1h-1zM102 136h1v1h-1zM104 136h1v1h-1zM108 136h1v1h-1zM111 136h1v1h-1zM113 136h1v1h-1zM115 136h1v1h-1zM116 136h1v1h-1zM117 136h1v1h-1zM118 136h1v1h-1zM119 136h1v1h-1zM120 136h1v1h-1zM123 136h1v1h-1zM127 136h1v1h-1zM135 136h1v1h-1zM137 136h1v1h-1zM138 136h1v1h-1zM139 136h1v1h-1zM144 136h1v1h-1zM148 136h1v1h-1zM152 136h1v1h-1zM155 136h1v1h-1zM157 136h1v1h-1zM158 136h1v1h-1zM162 136h1v1h-1zM164 136h1v1h-1zM168 136h1v1h-1zM169 136h1v1h-1zM172 136h1v1h-1zM180 136h1v1h-1zM182 136h1v1h-1zM185 136h1v1h-1zM187 136h1v1h-1zM188 136h1v1h-1zM189 136h1v1h-1zM203 136h1v1h-1zM84 137h1v1h-1zM85 137h1v1h-1zM87 137h1v1h-1zM91 137h1v1h-1zM92 137h1v1h-1zM93 137h1v1h-1zM94 137h1v1h-1zM95 137h1v1h-1zM97 137h1v1h-1zM98 137h1v1h-1zM99 137h1v1h-1zM100 137h1v1h-1zM102 137h1v1h-1zM103 137h1v1h-1zM104 137h1v1h-1zM105 137h1v1h-1zM106 137h1v1h-1zM108 137h1v1h-1zM110 137h1v1h-1zM113 137h1v1h-1zM114 137h1v1h-1zM116 137h1v1h-1zM117 137h1v1h-1zM124 137h1v1h-1zM125 137h1v1h-1zM127 137h1v1h-1zM129 137h1v1h-1zM131 137h1v1h-1zM132 137h1v1h-1zM133 137h1v1h-1zM134 137h1v1h-1zM135 137h1v1h-1zM142 137h1v1h-1zM144 137h1v1h-1zM147 137h1v1h-1zM153 137h1v1h-1zM156 137h1v1h-1zM157 137h1v1h-1zM162 137h1v1h-1zM170 137h1v1h-1zM172 137h1v1h-1zM184 137h1v1h-1zM192 137h1v1h-1zM208 137h1v1h-1zM211 137h1v1h-1zM84 138h1v1h-1zM87 138h1v1h-1zM91 138h1v1h-1zM92 138h1v1h-1zM93 138h1v1h-1zM95 138h1v1h-1zM96 138h1v1h-1zM97 138h1v1h-1zM99 138h1v1h-1zM100 138h1v1h-1zM101 138h1v1h-1zM102 138h1v1h-1zM103 138h1v1h-1zM104 138h1v1h-1zM106 138h1v1h-1zM107 138h1v1h-1zM108 138h1v1h-1zM109 138h1v1h-1zM112 138h1v1h-1zM119 138h1v1h-1zM124 138h1v1h-1zM126 138h1v1h-1zM131 138h1v1h-1zM132 138h1v1h-1zM134 138h1v1h-1zM147 138h1v1h-1zM149 138h1v1h-1zM153 138h1v1h-1zM154 138h1v1h-1zM157 138h1v1h-1zM165 138h1v1h-1zM169 138h1v1h-1zM177 138h1v1h-1zM182 138h1v1h-1zM184 138h1v1h-1zM186 138h1v1h-1zM188 138h1v1h-1zM199 138h1v1h-1zM211 138h1v1h-1zM79 139h1v1h-1zM88 139h1v1h-1zM90 139h1v1h-1zM92 139h1v1h-1zM93 139h1v1h-1zM94 139h1v1h-1zM100 139h1v1h-1zM101 139h1v1h-1zM102 139h1v1h-1zM104 139h1v1h-1zM105 139h1v1h-1zM106 139h1v1h-1zM107 139h1v1h-1zM108 139h1v1h-1zM110 139h1v1h-1zM112 139h1v1h-1zM113 139h1v1h-1zM114 139h1v1h-1zM116 139h1v1h-1zM118 139h1v1h-1zM119 139h1v1h-1zM120 139h1v1h-1zM122 139h1v1h-1zM124 139h1v1h-1zM128 139h1v1h-1zM129 139h1v1h-1zM133 139h1v1h-1zM134 139h1v1h-1zM136 139h1v1h-1zM144 139h1v1h-1zM150 139h1v1h-1zM163 139h1v1h-1zM165 139h1v1h-1zM167 139h1v1h-1zM168 139h1v1h-1zM178 139h1v1h-1zM206 139h1v1h-1zM80 140h1v1h-1zM82 140h1v1h-1zM92 140h1v1h-1zM95 140h1v1h-1zM96 140h1v1h-1zM97 140h1v1h-1zM98 140h1v1h-1zM99 140h1v1h-1zM100 140h1v1h-1zM101 140h1v1h-1zM102 140h1v1h-1zM103 140h1v1h-1zM106 140h1v1h-1zM107 140h1v1h-1zM108 140h1v1h-1zM110 140h1v1h-1zM112 140h1v1h-1zM113 140h1v1h-1zM115 140h1v1h-1zM118 140h1v1h-1zM121 140h1v1h-1zM122 140h1v1h-1zM128 140h1v1h-1zM130 140h1v1h-1zM134 140h1v1h-1zM136 140h1v1h-1zM140 140h1v1h-1zM143 140h1v1h-1zM153 140h1v1h-1zM159 140h1v1h-1zM164 140h1v1h-1zM178 140h1v1h-1zM181 140h1v1h-1zM182 140h1v1h-1zM185 140h1v1h-1zM187 140h1v1h-1zM190 140h1v1h-1zM200 140h1v1h-1zM207 140h1v1h-1zM83 141h1v1h-1zM85 141h1v1h-1zM86 141h1v1h-1zM87 141h1v1h-1zM89 141h1v1h-1zM90 141h1v1h-1zM91 141h1v1h-1zM93 141h1v1h-1zM94 141h1v1h-1zM97 141h1v1h-1zM99 141h1v1h-1zM100 141h1v1h-1zM101 141h1v1h-1zM102 141h1v1h-1zM103 141h1v1h-1zM104 141h1v1h-1zM107 141h1v1h-1zM109 141h1v1h-1zM111 141h1v1h-1zM113 141h1v1h-1zM114 141h1v1h-1zM115 141h1v1h-1zM116 141h1v1h-1zM117 141h1v1h-1zM119 141h1v1h-1zM120 141h1v1h-1zM126 141h1v1h-1zM130 141h1v1h-1zM135 141h1v1h-1zM137 141h1v1h-1zM138 141h1v1h-1zM142 141h1v1h-1zM146 141h1v1h-1zM148 141h1v1h-1zM150 141h1v1h-1zM164 141h1v1h-1zM166 141h1v1h-1zM172 141h1v1h-1zM176 141h1v1h-1zM181 141h1v1h-1zM194 141h1v1h-1zM207 141h1v1h-1zM210 141h1v1h-1zM82 142h1v1h-1zM84 142h1v1h-1zM89 142h1v1h-1zM90 142h1v1h-1zM93 142h1v1h-1zM94 142h1v1h-1zM95 142h1v1h-1zM97 142h1v1h-1zM98 142h1v1h-1zM99 142h1v1h-1zM100 142h1v1h-1zM101 142h1v1h-1zM102 142h1v1h-1zM103 142h1v1h-1zM106 142h1v1h-1zM107 142h1v1h-1zM108 142h1v1h-1zM111 142h1v1h-1zM113 142h1v1h-1zM115 142h1v1h-1zM118 142h1v1h-1zM120 142h1v1h-1zM121 142h1v1h-1zM123 142h1v1h-1zM124 142h1v1h-1zM125 142h1v1h-1zM132 142h1v1h-1zM148 142h1v1h-1zM151 142h1v1h-1zM157 142h1v1h-1zM160 142h1v1h-1zM171 142h1v1h-1zM181 142h1v1h-1zM184 142h1v1h-1zM199 142h1v1h-1zM203 142h1v1h-1zM85 143h1v1h-1zM86 143h1v1h-1zM89 143h1v1h-1zM90 143h1v1h-1zM92 143h1v1h-1zM93 143h1v1h-1zM95 143h1v1h-1zM96 143h1v1h-1zM97 143h1v1h-1zM99 143h1v1h-1zM100 143h1v1h-1zM103 143h1v1h-1zM105 143h1v1h-1zM108 143h1v1h-1zM112 143h1v1h-1zM113 143h1v1h-1zM114 143h1v1h-1zM115 143h1v1h-1zM117 143h1v1h-1zM119 143h1v1h-1zM135 143h1v1h-1zM143 143h1v1h-1zM153 143h1v1h-1zM189 143h1v1h-1zM193 143h1v1h-1zM200 143h1v1h-1zM209 143h1v1h-1zM81 144h1v1h-1zM82 144h1v1h-1zM87 144h1v1h-1zM88 144h1v1h-1zM89 144h1v1h-1zM91 144h1v1h-1zM94 144h1v1h-1zM95 144h1v1h-1zM96 144h1v1h-1zM97 144h1v1h-1zM98 144h1v1h-1zM100 144h1v1h-1zM102 144h1v1h-1zM104 144h1v1h-1zM105 144h1v1h-1zM106 144h1v1h-1zM109 144h1v1h-1zM112 144h1v1h-1zM113 144h1v1h-1zM115 144h1v1h-1zM117 144h1v1h-1zM119 144h1v1h-1zM121 144h1v1h-1zM123 144h1v1h-1zM130 144h1v1h-1zM133 144h1v1h-1zM143 144h1v1h-1zM151 144h1v1h-1zM157 144h1v1h-1zM174 144h1v1h-1zM178 144h1v1h-1zM185 144h1v1h-1zM187 144h1v1h-1zM201 144h1v1h-1zM81 145h1v1h-1zM86 145h1v1h-1zM87 145h1v1h-1zM88 145h1v1h-1zM90 145h1v1h-1zM91 145h1v1h-1zM92 145h1v1h-1zM93 145h1v1h-1zM94 145h1v1h-1zM95 145h1v1h-1zM96 145h1v1h-1zM98 145h1v1h-1zM99 145h1v1h-1zM100 145h1v1h-1zM101 145h1v1h-1zM102 145h1v1h-1zM103 145h1v1h-1zM104 145h1v1h-1zM106 145h1v1h-1zM108 145h1v1h-1zM109 145h1v1h-1zM110 145h1v1h-1zM112 145h1v1h-1zM114 145h1v1h-1zM117 145h1v1h-1zM120 145h1v1h-1zM123 145h1v1h-1zM124 145h1v1h-1zM136 145h1v1h-1zM143 145h1v1h-1zM146 145h1v1h-1zM147 145h1v1h-1zM161 145h1v1h-1zM166 145h1v1h-1zM183 145h1v1h-1zM200 145h1v1h-1zM84 146h1v1h-1zM88 146h1v1h-1zM89 146h1v1h-1zM90 146h1v1h-1zM91 146h1v1h-1zM92 146h1v1h-1zM93 146h1v1h-1zM94 146h1v1h-1zM95 146h1v1h-1zM96 146h1v1h-1zM98 146h1v1h-1zM99 146h1v1h-1zM100 146h1v1h-1zM101 146h1v1h-1zM102 146h1v1h-1zM103 146h1v1h-1zM105 146h1v1h-1zM108 146h1v1h-1zM109 146h1v1h-1zM110 146h1v1h-1zM111 146h1v1h-1zM112 146h1v1h-1zM113 146h1v1h-1zM120 146h1v1h-1zM126 146h1v1h-1zM128 146h1v1h-1zM129 146h1v1h-1zM143 146h1v1h-1zM156 146h1v1h-1zM158 146h1v1h-1zM160 146h1v1h-1zM167 146h1v1h-1zM168 146h1v1h-1zM170 146h1v1h-1zM187 146h1v1h-1zM188 146h1v1h-1zM199 146h1v1h-1zM84 147h1v1h-1zM85 147h1v1h-1zM86 147h1v1h-1zM92 147h1v1h-1zM94 147h1v1h-1zM95 147h1v1h-1zM96 147h1v1h-1zM97 147h1v1h-1zM99 147h1v1h-1zM100 147h1v1h-1zM101 147h1v1h-1zM104 147h1v1h-1zM105 147h1v1h-1zM109 147h1v1h-1zM111 147h1v1h-1zM113 147h1v1h-1zM117 147h1v1h-1zM118 147h1v1h-1zM119 147h1v1h-1zM121 147h1v1h-1zM126 147h1v1h-1zM127 147h1v1h-1zM128 147h1v1h-1zM133 147h1v1h-1zM135 147h1v1h-1zM145 147h1v1h-1zM154 147h1v1h-1zM163 147h1v1h-1zM181 147h1v1h-1zM184 147h1v1h-1zM186 147h1v1h-1zM201 147h1v1h-1zM83 148h1v1h-1zM86 148h1v1h-1zM90 148h1v1h-1zM91 148h1v1h-1zM92 148h1v1h-1zM94 148h1v1h-1zM95 148h1v1h-1zM96 148h1v1h-1zM98 148h1v1h-1zM99 148h1v1h-1zM100 148h1v1h-1zM101 148h1v1h-1zM102 148h1v1h-1zM103 148h1v1h-1zM104 148h1v1h-1zM105 148h1v1h-1zM106 148h1v1h-1zM107 148h1v1h-1zM108 148h1v1h-1zM110 148h1v1h-1zM112 148h1v1h-1zM113 148h1v1h-1zM116 148h1v1h-1zM117 148h1v1h-1zM122 148h1v1h-1zM124 148h1v1h-1zM137 148h1v1h-1zM139 148h1v1h-1zM150 148h1v1h-1zM164 148h1v1h-1zM168 148h1v1h-1zM171 148h1v1h-1zM178 148h1v1h-1zM84 149h1v1h-1zM85 149h1v1h-1zM88 149h1v1h-1zM89 149h1v1h-1zM98 149h1v1h-1zM99 149h1v1h-1zM101 149h1v1h-1zM103 149h1v1h-1zM105 149h1v1h-1zM106 149h1v1h-1zM107 149h1v1h-1zM110 149h1v1h-1zM111 149h1v1h-1zM112 149h1v1h-1zM115 149h1v1h-1zM121 149h1v1h-1zM122 149h1v1h-1zM128 149h1v1h-1zM133 149h1v1h-1zM149 149h1v1h-1zM150 149h1v1h-1zM153 149h1v1h-1zM168 149h1v1h-1zM170 149h1v1h-1zM199 149h1v1h-1zM85 150h1v1h-1zM88 150h1v1h-1zM90 150h1v1h-1zM92 150h1v1h-1zM93 150h1v1h-1zM95 150h1v1h-1zM96 150h1v1h-1zM98 150h1v1h-1zM99 150h1v1h-1zM101 150h1v1h-1zM102 150h1v1h-1zM103 150h1v1h-1zM106 150h1v1h-1zM109 150h1v1h-1zM111 150h1v1h-1zM116 150h1v1h-1zM117 150h1v1h-1zM123 150h1v1h-1zM143 150h1v1h-1zM144 150h1v1h-1zM154 150h1v1h-1zM164 150h1v1h-1zM182 150h1v1h-1zM204 150h1v1h-1zM71 151h1v1h-1zM83 151h1v1h-1zM86 151h1v1h-1zM93 151h1v1h-1zM94 151h1v1h-1zM95 151h1v1h-1zM99 151h1v1h-1zM101 151h1v1h-1zM105 151h1v1h-1zM109 151h1v1h-1zM129 151h1v1h-1zM133 151h1v1h-1zM161 151h1v1h-1zM167 151h1v1h-1zM181 151h1v1h-1zM194 151h1v1h-1zM83 152h1v1h-1zM90 152h1v1h-1zM95 152h1v1h-1zM97 152h1v1h-1zM123 152h1v1h-1zM149 152h1v1h-1zM175 152h1v1h-1zM93 153h1v1h-1zM128 153h1v1h-1zM132 153h1v1h-1zM142 153h1v1h-1zM143 153h1v1h-1zM206 153h1v1h-1zM128 154h1v1h-1zM183 154h1v1h-1zM197 154h1v1h-1zM163 155h1v1h-1zM166 155h1v1h-1zM182 155h1v1h-1zM188 155h1v1h-1zM84 156h1v1h-1zM85 156h1v1h-1zM86 156h1v1h-1zM94 156h1v1h-1zM96 156h1v1h-1zM98 156h1v1h-1zM100 156h1v1h-1zM104 156h1v1h-1zM107 156h1v1h-1zM108 156h1v1h-1zM109 156h1v1h-1zM110 156h1v1h-1zM111 156h1v1h-1zM115 156h1v1h-1zM116 156h1v1h-1zM118 156h1v1h-1zM119 156h1v1h-1zM128 156h1v1h-1zM132 156h1v1h-1zM136 156h1v1h-1zM138 156h1v1h-1zM139 156h1v1h-1zM144 156h1v1h-1zM145 156h1v1h-1zM155 156h1v1h-1zM161 156h1v1h-1zM170 156h1v1h-1zM174 156h1v1h-1zM178 156h1v1h-1zM179 156h1v1h-1zM181 156h1v1h-1zM186 156h1v1h-1zM84 157h1v1h-1zM86 157h1v1h-1zM87 157h1v1h-1zM88 157h1v1h-1zM91 157h1v1h-1zM98 157h1v1h-1zM103 157h1v1h-1zM106 157h1v1h-1zM110 157h1v1h-1zM113 157h1v1h-1zM114 157h1v1h-1zM117 157h1v1h-1zM121 157h1v1h-1zM122 157h1v1h-1zM123 157h1v1h-1zM124 157h1v1h-1zM126 157h1v1h-1zM127 157h1v1h-1zM130 157h1v1h-1zM131 157h1v1h-1zM137 157h1v1h-1zM139 157h1v1h-1zM140 157h1v1h-1zM141 157h1v1h-1zM142 157h1v1h-1zM145 157h1v1h-1zM150 157h1v1h-1zM152 157h1v1h-1zM155 157h1v1h-1zM157 157h1v1h-1zM160 157h1v1h-1zM165 157h1v1h-1zM175 157h1v1h-1zM178 157h1v1h-1zM180 157h1v1h-1zM183 157h1v1h-1zM84 158h1v1h-1zM87 158h1v1h-1zM89 158h1v1h-1zM93 158h1v1h-1zM97 158h1v1h-1zM98 158h1v1h-1zM99 158h1v1h-1zM102 158h1v1h-1zM104 158h1v1h-1zM107 158h1v1h-1zM110 158h1v1h-1zM111 158h1v1h-1zM120 158h1v1h-1zM121 158h1v1h-1zM125 158h1v1h-1zM126 158h1v1h-1zM127 158h1v1h-1zM129 158h1v1h-1zM130 158h1v1h-1zM134 158h1v1h-1zM135 158h1v1h-1zM136 158h1v1h-1zM137 158h1v1h-1zM138 158h1v1h-1zM143 158h1v1h-1zM146 158h1v1h-1zM148 158h1v1h-1zM149 158h1v1h-1zM151 158h1v1h-1zM158 158h1v1h-1zM169 158h1v1h-1zM172 158h1v1h-1zM175 158h1v1h-1zM180 158h1v1h-1zM198 158h1v1h-1zM214 158h1v1h-1zM86 159h1v1h-1zM87 159h1v1h-1zM91 159h1v1h-1zM92 159h1v1h-1zM98 159h1v1h-1zM102 159h1v1h-1zM103 159h1v1h-1zM105 159h1v1h-1zM106 159h1v1h-1zM107 159h1v1h-1zM109 159h1v1h-1zM110 159h1v1h-1zM111 159h1v1h-1zM112 159h1v1h-1zM113 159h1v1h-1zM115 159h1v1h-1zM116 159h1v1h-1zM120 159h1v1h-1zM121 159h1v1h-1zM124 159h1v1h-1zM126 159h1v1h-1zM130 159h1v1h-1zM132 159h1v1h-1zM133 159h1v1h-1zM134 159h1v1h-1zM136 159h1v1h-1zM139 159h1v1h-1zM142 159h1v1h-1zM143 159h1v1h-1zM144 159h1v1h-1zM145 159h1v1h-1zM147 159h1v1h-1zM150 159h1v1h-1zM154 159h1v1h-1zM160 159h1v1h-1zM163 159h1v1h-1zM167 159h1v1h-1zM170 159h1v1h-1zM176 159h1v1h-1zM179 159h1v1h-1zM181 159h1v1h-1zM198 159h1v1h-1zM208 159h1v1h-1zM212 159h1v1h-1zM84 160h1v1h-1zM87 160h1v1h-1zM88 160h1v1h-1zM89 160h1v1h-1zM91 160h1v1h-1zM93 160h1v1h-1zM94 160h1v1h-1zM95 160h1v1h-1zM96 160h1v1h-1zM98 160h1v1h-1zM99 160h1v1h-1zM101 160h1v1h-1zM103 160h1v1h-1zM106 160h1v1h-1zM107 160h1v1h-1zM108 160h1v1h-1zM109 160h1v1h-1zM112 160h1v1h-1zM114 160h1v1h-1zM115 160h1v1h-1zM117 160h1v1h-1zM121 160h1v1h-1zM122 160h1v1h-1zM125 160h1v1h-1zM129 160h1v1h-1zM132 160h1v1h-1zM133 160h1v1h-1zM135 160h1v1h-1zM137 160h1v1h-1zM138 160h1v1h-1zM139 160h1v1h-1zM140 160h1v1h-1zM141 160h1v1h-1zM144 160h1v1h-1zM148 160h1v1h-1zM150 160h1v1h-1zM152 160h1v1h-1zM156 160h1v1h-1zM157 160h1v1h-1zM161 160h1v1h-1zM163 160h1v1h-1zM164 160h1v1h-1zM165 160h1v1h-1zM166 160h1v1h-1zM173 160h1v1h-1zM174 160h1v1h-1zM179 160h1v1h-1zM189 160h1v1h-1zM211 160h1v1h-1zM84 161h1v1h-1zM87 161h1v1h-1zM88 161h1v1h-1zM89 161h1v1h-1zM94 161h1v1h-1zM95 161h1v1h-1zM96 161h1v1h-1zM97 161h1v1h-1zM98 161h1v1h-1zM99 161h1v1h-1zM100 161h1v1h-1zM102 161h1v1h-1zM103 161h1v1h-1zM105 161h1v1h-1zM107 161h1v1h-1zM113 161h1v1h-1zM115 161h1v1h-1zM117 161h1v1h-1zM122 161h1v1h-1zM127 161h1v1h-1zM128 161h1v1h-1zM132 161h1v1h-1zM133 161h1v1h-1zM137 161h1v1h-1zM139 161h1v1h-1zM141 161h1v1h-1zM145 161h1v1h-1zM146 161h1v1h-1zM148 161h1v1h-1zM155 161h1v1h-1zM156 161h1v1h-1zM157 161h1v1h-1zM159 161h1v1h-1zM167 161h1v1h-1zM170 161h1v1h-1zM171 161h1v1h-1zM173 161h1v1h-1zM174 161h1v1h-1zM175 161h1v1h-1zM180 161h1v1h-1zM187 161h1v1h-1zM189 161h1v1h-1zM194 161h1v1h-1zM196 161h1v1h-1zM204 161h1v1h-1zM83 162h1v1h-1zM85 162h1v1h-1zM88 162h1v1h-1zM89 162h1v1h-1zM91 162h1v1h-1zM92 162h1v1h-1zM93 162h1v1h-1zM94 162h1v1h-1zM96 162h1v1h-1zM97 162h1v1h-1zM98 162h1v1h-1zM99 162h1v1h-1zM102 162h1v1h-1zM105 162h1v1h-1zM106 162h1v1h-1zM108 162h1v1h-1zM112 162h1v1h-1zM116 162h1v1h-1zM117 162h1v1h-1zM119 162h1v1h-1zM122 162h1v1h-1zM126 162h1v1h-1zM127 162h1v1h-1zM128 162h1v1h-1zM129 162h1v1h-1zM130 162h1v1h-1zM133 162h1v1h-1zM134 162h1v1h-1zM135 162h1v1h-1zM136 162h1v1h-1zM138 162h1v1h-1zM139 162h1v1h-1zM140 162h1v1h-1zM144 162h1v1h-1zM145 162h1v1h-1zM147 162h1v1h-1zM149 162h1v1h-1zM150 162h1v1h-1zM153 162h1v1h-1zM154 162h1v1h-1zM158 162h1v1h-1zM160 162h1v1h-1zM161 162h1v1h-1zM168 162h1v1h-1zM170 162h1v1h-1zM174 162h1v1h-1zM176 162h1v1h-1zM179 162h1v1h-1zM180 162h1v1h-1zM182 162h1v1h-1zM186 162h1v1h-1zM188 162h1v1h-1zM196 162h1v1h-1zM205 162h1v1h-1zM83 163h1v1h-1zM86 163h1v1h-1zM88 163h1v1h-1zM90 163h1v1h-1zM92 163h1v1h-1zM93 163h1v1h-1zM94 163h1v1h-1zM95 163h1v1h-1zM96 163h1v1h-1zM97 163h1v1h-1zM101 163h1v1h-1zM102 163h1v1h-1zM103 163h1v1h-1zM104 163h1v1h-1zM105 163h1v1h-1zM107 163h1v1h-1zM108 163h1v1h-1zM111 163h1v1h-1zM113 163h1v1h-1zM114 163h1v1h-1zM116 163h1v1h-1zM118 163h1v1h-1zM119 163h1v1h-1zM122 163h1v1h-1zM123 163h1v1h-1zM124 163h1v1h-1zM125 163h1v1h-1zM128 163h1v1h-1zM129 163h1v1h-1zM130 163h1v1h-1zM131 163h1v1h-1zM132 163h1v1h-1zM133 163h1v1h-1zM134 163h1v1h-1zM135 163h1v1h-1zM137 163h1v1h-1zM141 163h1v1h-1zM143 163h1v1h-1zM144 163h1v1h-1zM147 163h1v1h-1zM148 163h1v1h-1zM155 163h1v1h-1zM161 163h1v1h-1zM163 163h1v1h-1zM165 163h1v1h-1zM166 163h1v1h-1zM167 163h1v1h-1zM168 163h1v1h-1zM174 163h1v1h-1zM180 163h1v1h-1zM184 163h1v1h-1zM185 163h1v1h-1zM192 163h1v1h-1zM195 163h1v1h-1zM213 163h1v1h-1zM82 164h1v1h-1zM84 164h1v1h-1zM85 164h1v1h-1zM88 164h1v1h-1zM89 164h1v1h-1zM90 164h1v1h-1zM94 164h1v1h-1zM95 164h1v1h-1zM96 164h1v1h-1zM97 164h1v1h-1zM100 164h1v1h-1zM101 164h1v1h-1zM103 164h1v1h-1zM105 164h1v1h-1zM106 164h1v1h-1zM107 164h1v1h-1zM108 164h1v1h-1zM109 164h1v1h-1zM111 164h1v1h-1zM112 164h1v1h-1zM113 164h1v1h-1zM114 164h1v1h-1zM115 164h1v1h-1zM116 164h1v1h-1zM117 164h1v1h-1zM121 164h1v1h-1zM122 164h1v1h-1zM123 164h1v1h-1zM126 164h1v1h-1zM128 164h1v1h-1zM129 164h1v1h-1zM135 164h1v1h-1zM137 164h1v1h-1zM139 164h1v1h-1zM140 164h1v1h-1zM141 164h1v1h-1zM144 164h1v1h-1zM145 164h1v1h-1zM150 164h1v1h-1zM151 164h1v1h-1zM154 164h1v1h-1zM157 164h1v1h-1zM162 164h1v1h-1zM163 164h1v1h-1zM164 164h1v1h-1zM170 164h1v1h-1zM175 164h1v1h-1zM182 164h1v1h-1zM183 164h1v1h-1zM193 164h1v1h-1zM197 164h1v1h-1zM199 164h1v1h-1zM206 164h1v1h-1zM84 165h1v1h-1zM85 165h1v1h-1zM88 165h1v1h-1zM92 165h1v1h-1zM94 165h1v1h-1zM96 165h1v1h-1zM97 165h1v1h-1zM98 165h1v1h-1zM99 165h1v1h-1zM100 165h1v1h-1zM102 165h1v1h-1zM103 165h1v1h-1zM105 165h1v1h-1zM106 165h1v1h-1zM107 165h1v1h-1zM109 165h1v1h-1zM110 165h1v1h-1zM112 165h1v1h-1zM113 165h1v1h-1zM114 165h1v1h-1zM116 165h1v1h-1zM117 165h1v1h-1zM120 165h1v1h-1zM122 165h1v1h-1zM123 165h1v1h-1zM124 165h1v1h-1zM127 165h1v1h-1zM130 165h1v1h-1zM133 165h1v1h-1zM134 165h1v1h-1zM136 165h1v1h-1zM137 165h1v1h-1zM138 165h1v1h-1zM145 165h1v1h-1zM152 165h1v1h-1zM156 165h1v1h-1zM166 165h1v1h-1zM172 165h1v1h-1zM173 165h1v1h-1zM182 165h1v1h-1zM186 165h1v1h-1zM188 165h1v1h-1zM190 165h1v1h-1zM191 165h1v1h-1zM193 165h1v1h-1zM194 165h1v1h-1zM202 165h1v1h-1zM213 165h1v1h-1zM84 166h1v1h-1zM86 166h1v1h-1zM88 166h1v1h-1zM89 166h1v1h-1zM90 166h1v1h-1zM92 166h1v1h-1zM94 166h1v1h-1zM95 166h1v1h-1zM97 166h1v1h-1zM99 166h1v1h-1zM100 166h1v1h-1zM101 166h1v1h-1zM103 166h1v1h-1zM104 166h1v1h-1zM105 166h1v1h-1zM108 166h1v1h-1zM109 166h1v1h-1zM110 166h1v1h-1zM111 166h1v1h-1zM112 166h1v1h-1zM114 166h1v1h-1zM118 166h1v1h-1zM119 166h1v1h-1zM120 166h1v1h-1zM121 166h1v1h-1zM122 166h1v1h-1zM123 166h1v1h-1zM125 166h1v1h-1zM126 166h1v1h-1zM128 166h1v1h-1zM129 166h1v1h-1zM130 166h1v1h-1zM131 166h1v1h-1zM132 166h1v1h-1zM133 166h1v1h-1zM134 166h1v1h-1zM140 166h1v1h-1zM143 166h1v1h-1zM145 166h1v1h-1zM147 166h1v1h-1zM150 166h1v1h-1zM151 166h1v1h-1zM154 166h1v1h-1zM155 166h1v1h-1zM157 166h1v1h-1zM158 166h1v1h-1zM165 166h1v1h-1zM166 166h1v1h-1zM168 166h1v1h-1zM169 166h1v1h-1zM172 166h1v1h-1zM175 166h1v1h-1zM186 166h1v1h-1zM188 166h1v1h-1zM190 166h1v1h-1zM193 166h1v1h-1zM198 166h1v1h-1zM199 166h1v1h-1zM212 166h1v1h-1zM83 167h1v1h-1zM85 167h1v1h-1zM86 167h1v1h-1zM88 167h1v1h-1zM89 167h1v1h-1zM93 167h1v1h-1zM94 167h1v1h-1zM95 167h1v1h-1zM96 167h1v1h-1zM99 167h1v1h-1zM100 167h1v1h-1zM101 167h1v1h-1zM102 167h1v1h-1zM104 167h1v1h-1zM107 167h1v1h-1zM108 167h1v1h-1zM109 167h1v1h-1zM110 167h1v1h-1zM111 167h1v1h-1zM112 167h1v1h-1zM113 167h1v1h-1zM114 167h1v1h-1zM115 167h1v1h-1zM116 167h1v1h-1zM119 167h1v1h-1zM120 167h1v1h-1zM121 167h1v1h-1zM122 167h1v1h-1zM124 167h1v1h-1zM131 167h1v1h-1zM135 167h1v1h-1zM136 167h1v1h-1zM137 167h1v1h-1zM140 167h1v1h-1zM143 167h1v1h-1zM144 167h1v1h-1zM148 167h1v1h-1zM152 167h1v1h-1zM153 167h1v1h-1zM155 167h1v1h-1zM159 167h1v1h-1zM162 167h1v1h-1zM168 167h1v1h-1zM170 167h1v1h-1zM174 167h1v1h-1zM177 167h1v1h-1zM179 167h1v1h-1zM183 167h1v1h-1zM186 167h1v1h-1zM192 167h1v1h-1zM195 167h1v1h-1zM196 167h1v1h-1zM199 167h1v1h-1zM209 167h1v1h-1zM211 167h1v1h-1zM83 168h1v1h-1zM84 168h1v1h-1zM85 168h1v1h-1zM88 168h1v1h-1zM90 168h1v1h-1zM91 168h1v1h-1zM92 168h1v1h-1zM93 168h1v1h-1zM94 168h1v1h-1zM95 168h1v1h-1zM96 168h1v1h-1zM98 168h1v1h-1zM99 168h1v1h-1zM101 168h1v1h-1zM103 168h1v1h-1zM105 168h1v1h-1zM110 168h1v1h-1zM114 168h1v1h-1zM115 168h1v1h-1zM116 168h1v1h-1zM117 168h1v1h-1zM119 168h1v1h-1zM121 168h1v1h-1zM123 168h1v1h-1zM124 168h1v1h-1zM127 168h1v1h-1zM129 168h1v1h-1zM131 168h1v1h-1zM136 168h1v1h-1zM139 168h1v1h-1zM140 168h1v1h-1zM143 168h1v1h-1zM147 168h1v1h-1zM149 168h1v1h-1zM150 168h1v1h-1zM152 168h1v1h-1zM153 168h1v1h-1zM154 168h1v1h-1zM155 168h1v1h-1zM156 168h1v1h-1zM159 168h1v1h-1zM163 168h1v1h-1zM168 168h1v1h-1zM175 168h1v1h-1zM188 168h1v1h-1zM193 168h1v1h-1zM195 168h1v1h-1zM208 168h1v1h-1zM84 169h1v1h-1zM85 169h1v1h-1zM86 169h1v1h-1zM91 169h1v1h-1zM92 169h1v1h-1zM93 169h1v1h-1zM95 169h1v1h-1zM98 169h1v1h-1zM101 169h1v1h-1zM102 169h1v1h-1zM103 169h1v1h-1zM104 169h1v1h-1zM106 169h1v1h-1zM107 169h1v1h-1zM108 169h1v1h-1zM110 169h1v1h-1zM111 169h1v1h-1zM112 169h1v1h-1zM113 169h1v1h-1zM114 169h1v1h-1zM115 169h1v1h-1zM117 169h1v1h-1zM119 169h1v1h-1zM120 169h1v1h-1zM121 169h1v1h-1zM123 169h1v1h-1zM125 169h1v1h-1zM126 169h1v1h-1zM127 169h1v1h-1zM128 169h1v1h-1zM129 169h1v1h-1zM130 169h1v1h-1zM132 169h1v1h-1zM141 169h1v1h-1zM148 169h1v1h-1zM149 169h1v1h-1zM150 169h1v1h-1zM152 169h1v1h-1zM153 169h1v1h-1zM156 169h1v1h-1zM166 169h1v1h-1zM168 169h1v1h-1zM172 169h1v1h-1zM174 169h1v1h-1zM175 169h1v1h-1zM181 169h1v1h-1zM182 169h1v1h-1zM183 169h1v1h-1zM185 169h1v1h-1zM188 169h1v1h-1zM192 169h1v1h-1zM193 169h1v1h-1zM197 169h1v1h-1zM199 169h1v1h-1zM211 169h1v1h-1zM87 170h1v1h-1zM91 170h1v1h-1zM95 170h1v1h-1zM96 170h1v1h-1zM98 170h1v1h-1zM99 170h1v1h-1zM100 170h1v1h-1zM101 170h1v1h-1zM103 170h1v1h-1zM106 170h1v1h-1zM108 170h1v1h-1zM110 170h1v1h-1zM111 170h1v1h-1zM112 170h1v1h-1zM116 170h1v1h-1zM119 170h1v1h-1zM120 170h1v1h-1zM122 170h1v1h-1zM123 170h1v1h-1zM124 170h1v1h-1zM126 170h1v1h-1zM127 170h1v1h-1zM128 170h1v1h-1zM133 170h1v1h-1zM137 170h1v1h-1zM141 170h1v1h-1zM143 170h1v1h-1zM144 170h1v1h-1zM150 170h1v1h-1zM152 170h1v1h-1zM154 170h1v1h-1zM155 170h1v1h-1zM156 170h1v1h-1zM161 170h1v1h-1zM163 170h1v1h-1zM167 170h1v1h-1zM176 170h1v1h-1zM177 170h1v1h-1zM179 170h1v1h-1zM181 170h1v1h-1zM190 170h1v1h-1zM191 170h1v1h-1zM193 170h1v1h-1zM196 170h1v1h-1zM85 171h1v1h-1zM86 171h1v1h-1zM92 171h1v1h-1zM93 171h1v1h-1zM96 171h1v1h-1zM97 171h1v1h-1zM99 171h1v1h-1zM103 171h1v1h-1zM105 171h1v1h-1zM106 171h1v1h-1zM107 171h1v1h-1zM108 171h1v1h-1zM109 171h1v1h-1zM111 171h1v1h-1zM112 171h1v1h-1zM114 171h1v1h-1zM117 171h1v1h-1zM118 171h1v1h-1zM119 171h1v1h-1zM121 171h1v1h-1zM123 171h1v1h-1zM128 171h1v1h-1zM131 171h1v1h-1zM134 171h1v1h-1zM135 171h1v1h-1zM136 171h1v1h-1zM137 171h1v1h-1zM138 171h1v1h-1zM139 171h1v1h-1zM140 171h1v1h-1zM141 171h1v1h-1zM144 171h1v1h-1zM148 171h1v1h-1zM150 171h1v1h-1zM151 171h1v1h-1zM161 171h1v1h-1zM162 171h1v1h-1zM163 171h1v1h-1zM166 171h1v1h-1zM168 171h1v1h-1zM169 171h1v1h-1zM188 171h1v1h-1zM194 171h1v1h-1zM195 171h1v1h-1zM199 171h1v1h-1zM212 171h1v1h-1zM84 172h1v1h-1zM85 172h1v1h-1zM100 172h1v1h-1zM101 172h1v1h-1zM102 172h1v1h-1zM103 172h1v1h-1zM104 172h1v1h-1zM105 172h1v1h-1zM106 172h1v1h-1zM108 172h1v1h-1zM114 172h1v1h-1zM115 172h1v1h-1zM116 172h1v1h-1zM118 172h1v1h-1zM119 172h1v1h-1zM121 172h1v1h-1zM122 172h1v1h-1zM123 172h1v1h-1zM128 172h1v1h-1zM129 172h1v1h-1zM135 172h1v1h-1zM136 172h1v1h-1zM138 172h1v1h-1zM144 172h1v1h-1zM147 172h1v1h-1zM149 172h1v1h-1zM153 172h1v1h-1zM159 172h1v1h-1zM162 172h1v1h-1zM165 172h1v1h-1zM166 172h1v1h-1zM168 172h1v1h-1zM178 172h1v1h-1zM182 172h1v1h-1zM189 172h1v1h-1zM85 173h1v1h-1zM86 173h1v1h-1zM88 173h1v1h-1zM89 173h1v1h-1zM91 173h1v1h-1zM94 173h1v1h-1zM96 173h1v1h-1zM98 173h1v1h-1zM99 173h1v1h-1zM100 173h1v1h-1zM103 173h1v1h-1zM106 173h1v1h-1zM107 173h1v1h-1zM109 173h1v1h-1zM115 173h1v1h-1zM118 173h1v1h-1zM119 173h1v1h-1zM120 173h1v1h-1zM121 173h1v1h-1zM122 173h1v1h-1zM128 173h1v1h-1zM129 173h1v1h-1zM131 173h1v1h-1zM133 173h1v1h-1zM137 173h1v1h-1zM142 173h1v1h-1zM149 173h1v1h-1zM161 173h1v1h-1zM163 173h1v1h-1zM175 173h1v1h-1zM178 173h1v1h-1zM181 173h1v1h-1zM210 173h1v1h-1zM90 174h1v1h-1zM91 174h1v1h-1zM95 174h1v1h-1zM96 174h1v1h-1zM97 174h1v1h-1zM99 174h1v1h-1zM101 174h1v1h-1zM103 174h1v1h-1zM105 174h1v1h-1zM113 174h1v1h-1zM120 174h1v1h-1zM121 174h1v1h-1zM129 174h1v1h-1zM131 174h1v1h-1zM135 174h1v1h-1zM138 174h1v1h-1zM142 174h1v1h-1zM146 174h1v1h-1zM151 174h1v1h-1zM153 174h1v1h-1zM157 174h1v1h-1zM159 174h1v1h-1zM160 174h1v1h-1zM162 174h1v1h-1zM165 174h1v1h-1zM173 174h1v1h-1zM183 174h1v1h-1zM97 175h1v1h-1zM99 175h1v1h-1zM107 175h1v1h-1zM111 175h1v1h-1zM115 175h1v1h-1zM116 175h1v1h-1zM117 175h1v1h-1zM120 175h1v1h-1zM122 175h1v1h-1zM124 175h1v1h-1zM129 175h1v1h-1zM132 175h1v1h-1zM133 175h1v1h-1zM134 175h1v1h-1zM146 175h1v1h-1zM147 175h1v1h-1zM148 175h1v1h-1zM151 175h1v1h-1zM159 175h1v1h-1zM162 175h1v1h-1zM166 175h1v1h-1zM167 175h1v1h-1zM176 175h1v1h-1zM199 175h1v1h-1zM208 175h1v1h-1zM82 176h1v1h-1zM100 176h1v1h-1zM106 176h1v1h-1zM107 176h1v1h-1zM109 176h1v1h-1zM113 176h1v1h-1zM121 176h1v1h-1zM123 176h1v1h-1zM127 176h1v1h-1zM128 176h1v1h-1zM131 176h1v1h-1zM133 176h1v1h-1zM135 176h1v1h-1zM140 176h1v1h-1zM143 176h1v1h-1zM145 176h1v1h-1zM147 176h1v1h-1zM148 176h1v1h-1zM149 176h1v1h-1zM156 176h1v1h-1zM159 176h1v1h-1zM177 176h1v1h-1zM182 176h1v1h-1zM187 176h1v1h-1zM74 177h1v1h-1zM85 177h1v1h-1zM98 177h1v1h-1zM101 177h1v1h-1zM104 177h1v1h-1zM110 177h1v1h-1zM113 177h1v1h-1zM116 177h1v1h-1zM121 177h1v1h-1zM122 177h1v1h-1zM123 177h1v1h-1zM132 177h1v1h-1zM133 177h1v1h-1zM149 177h1v1h-1zM162 177h1v1h-1zM172 177h1v1h-1zM83 178h1v1h-1zM85 178h1v1h-1zM88 178h1v1h-1zM113 178h1v1h-1zM128 178h1v1h-1zM134 178h1v1h-1zM135 178h1v1h-1zM147 178h1v1h-1zM149 178h1v1h-1zM197 178h1v1h-1zM199 178h1v1h-1zM124 179h1v1h-1zM128 179h1v1h-1zM148 179h1v1h-1zM150 179h1v1h-1zM152 179h1v1h-1zM174 179h1v1h-1zM182 179h1v1h-1zM187 179h1v1h-1zM208 179h1v1h-1zM90 180h1v1h-1zM100 180h1v1h-1zM106 180h1v1h-1zM113 180h1v1h-1zM118 180h1v1h-1zM147 180h1v1h-1zM202 180h1v1h-1zM204 180h1v1h-1zM87 181h1v1h-1zM93 181h1v1h-1zM94 181h1v1h-1zM95 181h1v1h-1zM96 181h1v1h-1zM101 181h1v1h-1zM107 181h1v1h-1zM113 181h1v1h-1zM127 181h1v1h-1zM145 181h1v1h-1zM146 181h1v1h-1zM148 181h1v1h-1zM155 181h1v1h-1zM171 181h1v1h-1zM175 181h1v1h-1zM177 181h1v1h-1zM206 181h1v1h-1zM88 182h1v1h-1zM90 182h1v1h-1zM95 182h1v1h-1zM96 182h1v1h-1zM98 182h1v1h-1zM106 182h1v1h-1zM108 182h1v1h-1zM120 182h1v1h-1zM128 182h1v1h-1zM134 182h1v1h-1zM151 182h1v1h-1zM157 182h1v1h-1zM158 182h1v1h-1zM170 182h1v1h-1zM183 182h1v1h-1zM187 182h1v1h-1zM191 182h1v1h-1zM192 182h1v1h-1z" fill="#111"/>
<polygon points="85.3,116 94,99.5 112,96 184,95.8 201,98 205.5,108.5 201,117.5 190,121.7 140,125 108,124.2 90,120" fill="none" stroke="#000" stroke-width="2.9" stroke-linejoin="round"/>
<polygon points="77.4,134.4 85,127.2 184.5,129.2 191,133 191.8,141.5 189,147 182,148.8 86,152.4 83.5,151.5" fill="none" stroke="#000" stroke-width="2.9" stroke-linejoin="round"/>
<polygon points="84,155.5 184.6,156.3 199.5,161.5 200,171.5 140,179 120,178.5 82.5,173.6" fill="none" stroke="#000" stroke-width="2.9" stroke-linejoin="round"/>
<rect x="60" y="39" width="155.5" height="144.5" fill="none" stroke="#222" stroke-width="1.15"/>
<line x1="57" y1="183.5" x2="60" y2="183.5" stroke="#333" stroke-width="1"/>
<line x1="58" y1="172.63281715653028" x2="60" y2="172.63281715653028" stroke="#444" stroke-width="0.8"/>
<line x1="58" y1="166.2759227046202" x2="60" y2="166.2759227046202" stroke="#444" stroke-width="0.8"/>
<line x1="58" y1="161.76563431306056" x2="60" y2="161.76563431306056" stroke="#444" stroke-width="0.8"/>
<line x1="58" y1="158.26718284346973" x2="60" y2="158.26718284346973" stroke="#444" stroke-width="0.8"/>
<line x1="58" y1="155.40873986115048" x2="60" y2="155.40873986115048" stroke="#444" stroke-width="0.8"/>
<line x1="58" y1="152.99196075548534" x2="60" y2="152.99196075548534" stroke="#444" stroke-width="0.8"/>
<line x1="58" y1="150.89845146959084" x2="60" y2="150.89845146959084" stroke="#444" stroke-width="0.8"/>
<line x1="58" y1="149.05184540924037" x2="60" y2="149.05184540924037" stroke="#444" stroke-width="0.8"/>
<text transform="translate(55.3,183.7) rotate(-90)" font-size="8" font-weight="normal" text-anchor="middle">10<tspan font-size="7" dy="-3.8">0</tspan></text>
<line x1="57" y1="147.4" x2="60" y2="147.4" stroke="#333" stroke-width="1"/>
<line x1="58" y1="136.53281715653029" x2="60" y2="136.53281715653029" stroke="#444" stroke-width="0.8"/>
<line x1="58" y1="130.17592270462018" x2="60" y2="130.17592270462018" stroke="#444" stroke-width="0.8"/>
<line x1="58" y1="125.66563431306056" x2="60" y2="125.66563431306056" stroke="#444" stroke-width="0.8"/>
<line x1="58" y1="122.16718284346973" x2="60" y2="122.16718284346973" stroke="#444" stroke-width="0.8"/>
<line x1="58" y1="119.30873986115047" x2="60" y2="119.30873986115047" stroke="#444" stroke-width="0.8"/>
<line x1="58" y1="116.89196075548533" x2="60" y2="116.89196075548533" stroke="#444" stroke-width="0.8"/>
<line x1="58" y1="114.79845146959084" x2="60" y2="114.79845146959084" stroke="#444" stroke-width="0.8"/>
<line x1="58" y1="112.95184540924038" x2="60" y2="112.95184540924038" stroke="#444" stroke-width="0.8"/>
<text transform="translate(55.3,147.6) rotate(-90)" font-size="8" font-weight="normal" text-anchor="middle">10<tspan font-size="7" dy="-3.8">1</tspan></text>
<line x1="57" y1="111.3" x2="60" y2="111.3" stroke="#333" stroke-width="1"/>
<line x1="58" y1="100.43281715653028" x2="60" y2="100.43281715653028" stroke="#444" stroke-width="0.8"/>
<line x1="58" y1="94.07592270462018" x2="60" y2="94.07592270462018" stroke="#444" stroke-width="0.8"/>
<line x1="58" y1="89.56563431306056" x2="60" y2="89.56563431306056" stroke="#444" stroke-width="0.8"/>
<line x1="58" y1="86.06718284346971" x2="60" y2="86.06718284346971" stroke="#444" stroke-width="0.8"/>
<line x1="58" y1="83.20873986115046" x2="60" y2="83.20873986115046" stroke="#444" stroke-width="0.8"/>
<line x1="58" y1="80.79196075548532" x2="60" y2="80.79196075548532" stroke="#444" stroke-width="0.8"/>
<line x1="58" y1="78.69845146959084" x2="60" y2="78.69845146959084" stroke="#444" stroke-width="0.8"/>
<line x1="58" y1="76.85184540924037" x2="60" y2="76.85184540924037" stroke="#444" stroke-width="0.8"/>
<text transform="translate(55.3,111.5) rotate(-90)" font-size="8" font-weight="normal" text-anchor="middle">10<tspan font-size="7" dy="-3.8">2</tspan></text>
<line x1="57" y1="75.19999999999999" x2="60" y2="75.19999999999999" stroke="#333" stroke-width="1"/>
<line x1="58" y1="64.33281715653027" x2="60" y2="64.33281715653027" stroke="#444" stroke-width="0.8"/>
<line x1="58" y1="57.975922704620174" x2="60" y2="57.975922704620174" stroke="#444" stroke-width="0.8"/>
<line x1="58" y1="53.46563431306055" x2="60" y2="53.46563431306055" stroke="#444" stroke-width="0.8"/>
<line x1="58" y1="49.96718284346971" x2="60" y2="49.96718284346971" stroke="#444" stroke-width="0.8"/>
<line x1="58" y1="47.108739861150454" x2="60" y2="47.108739861150454" stroke="#444" stroke-width="0.8"/>
<line x1="58" y1="44.69196075548531" x2="60" y2="44.69196075548531" stroke="#444" stroke-width="0.8"/>
<line x1="58" y1="42.59845146959083" x2="60" y2="42.59845146959083" stroke="#444" stroke-width="0.8"/>
<line x1="58" y1="40.75184540924036" x2="60" y2="40.75184540924036" stroke="#444" stroke-width="0.8"/>
<text transform="translate(55.3,75.39999999999999) rotate(-90)" font-size="8" font-weight="normal" text-anchor="middle">10<tspan font-size="7" dy="-3.8">3</tspan></text>
<line x1="57" y1="39.099999999999994" x2="60" y2="39.099999999999994" stroke="#333" stroke-width="1"/>
<text transform="translate(55.3,39.3) rotate(-90)" font-size="8" font-weight="normal" text-anchor="middle">10<tspan font-size="7" dy="-3.8">4</tspan></text>
<line x1="61.5" y1="183.5" x2="61.5" y2="186.0" stroke="#333" stroke-width="1"/>
<text x="61.5" y="192.4" font-size="8.2" font-weight="normal" text-anchor="middle" fill="#222" >0</text>
<line x1="91.775" y1="183.5" x2="91.775" y2="186.0" stroke="#333" stroke-width="1"/>
<text x="91.775" y="192.4" font-size="8.2" font-weight="normal" text-anchor="middle" fill="#222" >50</text>
<line x1="122.05000000000001" y1="183.5" x2="122.05000000000001" y2="186.0" stroke="#333" stroke-width="1"/>
<text x="122.05000000000001" y="192.4" font-size="8.2" font-weight="normal" text-anchor="middle" fill="#222" >100</text>
<line x1="152.325" y1="183.5" x2="152.325" y2="186.0" stroke="#333" stroke-width="1"/>
<text x="152.325" y="192.4" font-size="8.2" font-weight="normal" text-anchor="middle" fill="#222" >150</text>
<line x1="182.60000000000002" y1="183.5" x2="182.60000000000002" y2="186.0" stroke="#333" stroke-width="1"/>
<text x="182.60000000000002" y="192.4" font-size="8.2" font-weight="normal" text-anchor="middle" fill="#222" >200</text>
<line x1="212.875" y1="183.5" x2="212.875" y2="186.0" stroke="#333" stroke-width="1"/>
<text x="212.875" y="192.4" font-size="8.2" font-weight="normal" text-anchor="middle" fill="#222" >250</text>
<line x1="61.5" y1="183.5" x2="61.5" y2="185.3" stroke="#444" stroke-width="0.8"/>
<line x1="67.555" y1="183.5" x2="67.555" y2="185.3" stroke="#444" stroke-width="0.8"/>
<line x1="73.61" y1="183.5" x2="73.61" y2="185.3" stroke="#444" stroke-width="0.8"/>
<line x1="79.665" y1="183.5" x2="79.665" y2="185.3" stroke="#444" stroke-width="0.8"/>
<line x1="85.72" y1="183.5" x2="85.72" y2="185.3" stroke="#444" stroke-width="0.8"/>
<line x1="91.775" y1="183.5" x2="91.775" y2="185.3" stroke="#444" stroke-width="0.8"/>
<line x1="97.83000000000001" y1="183.5" x2="97.83000000000001" y2="185.3" stroke="#444" stroke-width="0.8"/>
<line x1="103.885" y1="183.5" x2="103.885" y2="185.3" stroke="#444" stroke-width="0.8"/>
<line x1="109.94" y1="183.5" x2="109.94" y2="185.3" stroke="#444" stroke-width="0.8"/>
<line x1="115.995" y1="183.5" x2="115.995" y2="185.3" stroke="#444" stroke-width="0.8"/>
<line x1="122.05000000000001" y1="183.5" x2="122.05000000000001" y2="185.3" stroke="#444" stroke-width="0.8"/>
<line x1="128.10500000000002" y1="183.5" x2="128.10500000000002" y2="185.3" stroke="#444" stroke-width="0.8"/>
<line x1="134.16000000000003" y1="183.5" x2="134.16000000000003" y2="185.3" stroke="#444" stroke-width="0.8"/>
<line x1="140.215" y1="183.5" x2="140.215" y2="185.3" stroke="#444" stroke-width="0.8"/>
<line x1="146.27" y1="183.5" x2="146.27" y2="185.3" stroke="#444" stroke-width="0.8"/>
<line x1="152.325" y1="183.5" x2="152.325" y2="185.3" stroke="#444" stroke-width="0.8"/>
<line x1="158.38" y1="183.5" x2="158.38" y2="185.3" stroke="#444" stroke-width="0.8"/>
<line x1="164.435" y1="183.5" x2="164.435" y2="185.3" stroke="#444" stroke-width="0.8"/>
<line x1="170.49" y1="183.5" x2="170.49" y2="185.3" stroke="#444" stroke-width="0.8"/>
<line x1="176.54500000000002" y1="183.5" x2="176.54500000000002" y2="185.3" stroke="#444" stroke-width="0.8"/>
<line x1="182.60000000000002" y1="183.5" x2="182.60000000000002" y2="185.3" stroke="#444" stroke-width="0.8"/>
<line x1="188.655" y1="183.5" x2="188.655" y2="185.3" stroke="#444" stroke-width="0.8"/>
<line x1="194.71" y1="183.5" x2="194.71" y2="185.3" stroke="#444" stroke-width="0.8"/>
<line x1="200.76500000000001" y1="183.5" x2="200.76500000000001" y2="185.3" stroke="#444" stroke-width="0.8"/>
<line x1="206.82000000000002" y1="183.5" x2="206.82000000000002" y2="185.3" stroke="#444" stroke-width="0.8"/>
<line x1="212.875" y1="183.5" x2="212.875" y2="185.3" stroke="#444" stroke-width="0.8"/>
<text x="94.3" y="205" font-size="9.2" font-weight="bold" text-anchor="start" fill="#000" >FORWARD</text>
<text x="152.4" y="205" font-size="9.2" font-weight="bold" text-anchor="start" fill="#000" >SCATTER</text>
<line x1="196.5" y1="201.3" x2="210" y2="201.3" stroke="#000" stroke-width="1.5"/>
<path d="M219,201.3 L209,198.0 L209,204.60000000000002 Z" fill="#000"/>
<text transform="translate(34.6,119) rotate(-90)" font-size="9" font-weight="bold" text-anchor="start" letter-spacing="1.2">CD1<tspan dx="1.2">0</tspan>-FITC</text>
<line x1="31.2" y1="44.7" x2="31.2" y2="60.8" stroke="#000" stroke-width="1.5"/>
<path d="M31.2,35.7 L27.9,45.7 L34.5,45.7 Z" fill="#000"/>
<line x1="223.2" y1="104.8" x2="239" y2="104.8" stroke="#000" stroke-width="1.5"/>
<path d="M216.2,104.8 L224.2,101.39999999999999 L224.2,108.2 Z" fill="#000"/>
<text x="243.2" y="109.2" font-size="9.2" font-weight="bold" text-anchor="start" fill="#000" >CD10</text>
<text x="268.5" y="105.4" font-size="8.5" font-weight="bold" text-anchor="start" fill="#000" >bright</text>
<text x="306" y="109.2" font-size="9.2" font-weight="bold" text-anchor="start" fill="#000" letter-spacing="0.4">(5 3%)</text>
<line x1="223.2" y1="138.1" x2="239" y2="138.1" stroke="#000" stroke-width="1.5"/>
<path d="M216.2,138.1 L224.2,134.7 L224.2,141.5 Z" fill="#000"/>
<text x="240.2" y="142.5" font-size="9.2" font-weight="bold" text-anchor="start" fill="#000" >CD10</text>
<text x="266" y="139.3" font-size="8.5" font-weight="bold" text-anchor="start" fill="#000" >dim</text>
<text x="291" y="142.5" font-size="9.2" font-weight="bold" text-anchor="start" fill="#000" letter-spacing="0.4">(28 %)</text>
<line x1="223.2" y1="165.2" x2="239" y2="165.2" stroke="#000" stroke-width="1.5"/>
<path d="M216.2,165.2 L224.2,161.79999999999998 L224.2,168.6 Z" fill="#000"/>
<text x="242.6" y="169.6" font-size="9.2" font-weight="bold" text-anchor="start" fill="#000" >CD10</text>
<text x="268.5" y="166" font-size="8.5" font-weight="bold" text-anchor="start" fill="#000" >-</text>
<text x="279" y="169.6" font-size="9.2" font-weight="bold" text-anchor="start" fill="#000" letter-spacing="0.4">(19 %)</text>
<text x="352.5" y="22.7" font-size="9" font-weight="bold" text-anchor="start" fill="#000" >FRAME</text>
<text x="388.3" y="22.7" font-size="9" font-weight="bold" text-anchor="start" fill="#000" >2</text>
<path d="M380.0 161.5h1V165h-1zM382.0 164.2h1V165h-1zM387.0 161.5h1V165h-1zM388.0 164.2h1V165h-1zM391.0 161.5h1V165h-1zM393.0 163.0h1V165h-1zM400.0 163.0h1V165h-1zM403.0 164.2h1V165h-1zM404.0 164.2h1V165h-1zM406.0 160.0h1V165h-1zM408.0 163.0h1V165h-1zM411.0 163.0h1V165h-1zM414.0 160.0h1V165h-1zM417.0 160.0h1V165h-1zM421.0 163.0h1V165h-1zM427.0 163.5h1V165h-1zM435.0 164.7h1V165h-1zM436.0 164.2h1V165h-1zM437.0 163.2h1V165h-1zM438.0 157.4h1V165h-1zM439.0 157.7h1V165h-1zM440.0 147.5h1V165h-1zM441.0 132.2h1V165h-1zM442.0 117.3h1V165h-1zM443.0 111.0h1V165h-1zM444.0 117.3h1V165h-1zM445.0 132.2h1V165h-1zM446.0 147.5h1V165h-1zM447.0 157.7h1V165h-1zM448.0 150.4h1V165h-1zM449.0 156.3h1V165h-1zM450.0 148.6h1V165h-1zM451.0 151.0h1V165h-1zM452.0 137.8h1V165h-1zM453.0 131.0h1V165h-1zM454.0 137.8h1V165h-1zM455.0 151.0h1V165h-1zM456.0 147.6h1V165h-1zM457.0 156.3h1V165h-1zM458.0 153.9h1V165h-1zM459.0 149.4h1V165h-1zM460.0 144.0h1V165h-1zM461.0 149.4h1V165h-1zM462.0 157.2h1V165h-1zM463.0 146.6h1V165h-1zM464.0 148.7h1V165h-1zM465.0 156.1h1V165h-1zM466.0 146.4h1V165h-1zM467.0 141.0h1V165h-1zM468.0 146.4h1V165h-1zM469.0 148.6h1V165h-1zM470.0 153.7h1V165h-1zM471.0 146.8h1V165h-1zM472.0 152.2h1V165h-1zM473.0 156.1h1V165h-1zM474.0 152.3h1V165h-1zM475.0 147.0h1V165h-1zM476.0 152.3h1V165h-1zM477.0 153.8h1V165h-1zM478.0 150.9h1V165h-1zM479.0 145.0h1V165h-1zM480.0 150.9h1V165h-1zM481.0 153.1h1V165h-1zM482.0 143.4h1V165h-1zM483.0 136.0h1V165h-1zM484.0 143.4h1V165h-1zM485.0 148.4h1V165h-1zM486.0 143.4h1V165h-1zM487.0 136.0h1V165h-1zM488.0 143.4h1V165h-1zM489.0 154.4h1V165h-1zM490.0 150.0h1V165h-1zM491.0 153.4h1V165h-1zM492.0 153.8h1V165h-1zM493.0 145.6h1V165h-1zM494.0 140.0h1V165h-1zM495.0 145.6h1V165h-1zM496.0 150.1h1V165h-1zM497.0 148.1h1V165h-1zM498.0 147.0h1V165h-1zM499.0 152.3h1V165h-1zM500.0 156.0h1V165h-1zM501.0 146.4h1V165h-1zM502.0 140.0h1V165h-1zM503.0 146.4h1V165h-1zM504.0 146.9h1V165h-1zM505.0 143.4h1V165h-1zM506.0 136.0h1V165h-1zM507.0 143.4h1V165h-1zM508.0 150.9h1V165h-1zM509.0 145.0h1V165h-1zM510.0 145.3h1V165h-1zM511.0 122.0h1V165h-1z" fill="#000"/>
<polygon points="369.5,40.0 376.5,40.0 376.5,82.0 377.8,83.0 378.3,140.0 379.5,142.0 380.5,160.0 382.0,165.0 369.5,165.0" fill="#000"/>
<rect x="369.5" y="40" width="143.0" height="125" fill="none" stroke="#222" stroke-width="1.15"/>
<line x1="367.0" y1="165" x2="369.5" y2="165" stroke="#444" stroke-width="0.8"/>
<line x1="368.0" y1="160.9" x2="369.5" y2="160.9" stroke="#444" stroke-width="0.8"/>
<line x1="368.0" y1="156.8" x2="369.5" y2="156.8" stroke="#444" stroke-width="0.8"/>
<line x1="368.0" y1="152.70000000000002" x2="369.5" y2="152.70000000000002" stroke="#444" stroke-width="0.8"/>
<line x1="368.0" y1="148.60000000000002" x2="369.5" y2="148.60000000000002" stroke="#444" stroke-width="0.8"/>
<line x1="367.0" y1="144.50000000000003" x2="369.5" y2="144.50000000000003" stroke="#444" stroke-width="0.8"/>
<line x1="368.0" y1="140.40000000000003" x2="369.5" y2="140.40000000000003" stroke="#444" stroke-width="0.8"/>
<line x1="368.0" y1="136.30000000000004" x2="369.5" y2="136.30000000000004" stroke="#444" stroke-width="0.8"/>
<line x1="368.0" y1="132.20000000000005" x2="369.5" y2="132.20000000000005" stroke="#444" stroke-width="0.8"/>
<line x1="368.0" y1="128.10000000000005" x2="369.5" y2="128.10000000000005" stroke="#444" stroke-width="0.8"/>
<line x1="367.0" y1="124.00000000000006" x2="369.5" y2="124.00000000000006" stroke="#444" stroke-width="0.8"/>
<line x1="368.0" y1="119.90000000000006" x2="369.5" y2="119.90000000000006" stroke="#444" stroke-width="0.8"/>
<line x1="368.0" y1="115.80000000000007" x2="369.5" y2="115.80000000000007" stroke="#444" stroke-width="0.8"/>
<line x1="368.0" y1="111.70000000000007" x2="369.5" y2="111.70000000000007" stroke="#444" stroke-width="0.8"/>
<line x1="368.0" y1="107.60000000000008" x2="369.5" y2="107.60000000000008" stroke="#444" stroke-width="0.8"/>
<line x1="367.0" y1="103.50000000000009" x2="369.5" y2="103.50000000000009" stroke="#444" stroke-width="0.8"/>
<line x1="368.0" y1="99.40000000000009" x2="369.5" y2="99.40000000000009" stroke="#444" stroke-width="0.8"/>
<line x1="368.0" y1="95.3000000000001" x2="369.5" y2="95.3000000000001" stroke="#444" stroke-width="0.8"/>
<line x1="368.0" y1="91.2000000000001" x2="369.5" y2="91.2000000000001" stroke="#444" stroke-width="0.8"/>
<line x1="368.0" y1="87.10000000000011" x2="369.5" y2="87.10000000000011" stroke="#444" stroke-width="0.8"/>
<line x1="367.0" y1="83.00000000000011" x2="369.5" y2="83.00000000000011" stroke="#444" stroke-width="0.8"/>
<line x1="368.0" y1="78.90000000000012" x2="369.5" y2="78.90000000000012" stroke="#444" stroke-width="0.8"/>
<line x1="368.0" y1="74.80000000000013" x2="369.5" y2="74.80000000000013" stroke="#444" stroke-width="0.8"/>
<line x1="368.0" y1="70.70000000000013" x2="369.5" y2="70.70000000000013" stroke="#444" stroke-width="0.8"/>
<line x1="368.0" y1="66.60000000000014" x2="369.5" y2="66.60000000000014" stroke="#444" stroke-width="0.8"/>
<line x1="367.0" y1="62.500000000000135" x2="369.5" y2="62.500000000000135" stroke="#444" stroke-width="0.8"/>
<line x1="368.0" y1="58.400000000000134" x2="369.5" y2="58.400000000000134" stroke="#444" stroke-width="0.8"/>
<line x1="368.0" y1="54.30000000000013" x2="369.5" y2="54.30000000000013" stroke="#444" stroke-width="0.8"/>
<line x1="368.0" y1="50.20000000000013" x2="369.5" y2="50.20000000000013" stroke="#444" stroke-width="0.8"/>
<line x1="368.0" y1="46.10000000000013" x2="369.5" y2="46.10000000000013" stroke="#444" stroke-width="0.8"/>
<line x1="367.0" y1="42.00000000000013" x2="369.5" y2="42.00000000000013" stroke="#444" stroke-width="0.8"/>
<line x1="369.5" y1="165" x2="369.5" y2="168" stroke="#333" stroke-width="1"/>
<text x="369.8" y="176.8" font-size="8" font-weight="normal" text-anchor="middle">10<tspan font-size="7" dy="-4">0</tspan></text>
<line x1="380.2618223449873" y1="165" x2="380.2618223449873" y2="166.8" stroke="#444" stroke-width="0.8"/>
<line x1="386.5570848562279" y1="165" x2="386.5570848562279" y2="166.8" stroke="#444" stroke-width="0.8"/>
<line x1="391.0236446899747" y1="165" x2="391.0236446899747" y2="166.8" stroke="#444" stroke-width="0.8"/>
<line x1="394.4881776550127" y1="165" x2="394.4881776550127" y2="166.8" stroke="#444" stroke-width="0.8"/>
<line x1="397.31890720121527" y1="165" x2="397.31890720121527" y2="166.8" stroke="#444" stroke-width="0.8"/>
<line x1="399.7122549305097" y1="165" x2="399.7122549305097" y2="166.8" stroke="#444" stroke-width="0.8"/>
<line x1="401.785467034962" y1="165" x2="401.785467034962" y2="166.8" stroke="#444" stroke-width="0.8"/>
<line x1="403.61416971245586" y1="165" x2="403.61416971245586" y2="166.8" stroke="#444" stroke-width="0.8"/>
<line x1="405.25" y1="165" x2="405.25" y2="168" stroke="#333" stroke-width="1"/>
<text x="405.55" y="176.8" font-size="8" font-weight="normal" text-anchor="middle">10<tspan font-size="7" dy="-4">1</tspan></text>
<line x1="416.0118223449873" y1="165" x2="416.0118223449873" y2="166.8" stroke="#444" stroke-width="0.8"/>
<line x1="422.3070848562279" y1="165" x2="422.3070848562279" y2="166.8" stroke="#444" stroke-width="0.8"/>
<line x1="426.7736446899747" y1="165" x2="426.7736446899747" y2="166.8" stroke="#444" stroke-width="0.8"/>
<line x1="430.2381776550127" y1="165" x2="430.2381776550127" y2="166.8" stroke="#444" stroke-width="0.8"/>
<line x1="433.06890720121527" y1="165" x2="433.06890720121527" y2="166.8" stroke="#444" stroke-width="0.8"/>
<line x1="435.4622549305097" y1="165" x2="435.4622549305097" y2="166.8" stroke="#444" stroke-width="0.8"/>
<line x1="437.535467034962" y1="165" x2="437.535467034962" y2="166.8" stroke="#444" stroke-width="0.8"/>
<line x1="439.36416971245586" y1="165" x2="439.36416971245586" y2="166.8" stroke="#444" stroke-width="0.8"/>
<line x1="441.0" y1="165" x2="441.0" y2="168" stroke="#333" stroke-width="1"/>
<text x="441.3" y="176.8" font-size="8" font-weight="normal" text-anchor="middle">10<tspan font-size="7" dy="-4">2</tspan></text>
<line x1="451.7618223449873" y1="165" x2="451.7618223449873" y2="166.8" stroke="#444" stroke-width="0.8"/>
<line x1="458.0570848562279" y1="165" x2="458.0570848562279" y2="166.8" stroke="#444" stroke-width="0.8"/>
<line x1="462.5236446899747" y1="165" x2="462.5236446899747" y2="166.8" stroke="#444" stroke-width="0.8"/>
<line x1="465.9881776550127" y1="165" x2="465.9881776550127" y2="166.8" stroke="#444" stroke-width="0.8"/>
<line x1="468.81890720121527" y1="165" x2="468.81890720121527" y2="166.8" stroke="#444" stroke-width="0.8"/>
<line x1="471.2122549305097" y1="165" x2="471.2122549305097" y2="166.8" stroke="#444" stroke-width="0.8"/>
<line x1="473.285467034962" y1="165" x2="473.285467034962" y2="166.8" stroke="#444" stroke-width="0.8"/>
<line x1="475.11416971245586" y1="165" x2="475.11416971245586" y2="166.8" stroke="#444" stroke-width="0.8"/>
<line x1="476.75" y1="165" x2="476.75" y2="168" stroke="#333" stroke-width="1"/>
<text x="477.05" y="176.8" font-size="8" font-weight="normal" text-anchor="middle">10<tspan font-size="7" dy="-4">3</tspan></text>
<line x1="487.5118223449873" y1="165" x2="487.5118223449873" y2="166.8" stroke="#444" stroke-width="0.8"/>
<line x1="493.8070848562279" y1="165" x2="493.8070848562279" y2="166.8" stroke="#444" stroke-width="0.8"/>
<line x1="498.2736446899747" y1="165" x2="498.2736446899747" y2="166.8" stroke="#444" stroke-width="0.8"/>
<line x1="501.7381776550127" y1="165" x2="501.7381776550127" y2="166.8" stroke="#444" stroke-width="0.8"/>
<line x1="504.56890720121527" y1="165" x2="504.56890720121527" y2="166.8" stroke="#444" stroke-width="0.8"/>
<line x1="506.9622549305097" y1="165" x2="506.9622549305097" y2="166.8" stroke="#444" stroke-width="0.8"/>
<line x1="509.035467034962" y1="165" x2="509.035467034962" y2="166.8" stroke="#444" stroke-width="0.8"/>
<line x1="510.86416971245586" y1="165" x2="510.86416971245586" y2="166.8" stroke="#444" stroke-width="0.8"/>
<line x1="512.5" y1="165" x2="512.5" y2="168" stroke="#333" stroke-width="1"/>
<text x="511.49999999999994" y="176.8" font-size="8" font-weight="normal" text-anchor="middle">10<tspan font-size="7" dy="-4">4</tspan></text>
<text x="382.2" y="54.1" font-size="9.4" font-weight="bold" text-anchor="start" fill="#000" letter-spacing="0.3">CD1<tspan dx="1.2">0</tspan></text>
<text x="410.3" y="50.7" font-size="6.5" font-weight="bold" text-anchor="start" fill="#000" >-</text>
<line x1="427.2" y1="83.7" x2="511.5" y2="83.7" stroke="#000" stroke-width="2.1"/>
<line x1="427.2" y1="77.7" x2="427.2" y2="89.7" stroke="#000" stroke-width="2"/>
<line x1="511.5" y1="77.7" x2="511.5" y2="89.7" stroke="#000" stroke-width="2"/>
<text x="470" y="78.8" font-size="9.5" font-weight="bold" text-anchor="middle" fill="#000" letter-spacing="0">25%</text>
<text transform="translate(357.5,134.2) rotate(-90)" font-size="8.2" font-weight="bold" text-anchor="start" >COUNTS/&#160;EVENT</text>
<line x1="354.7" y1="47.6" x2="354.7" y2="61.6" stroke="#000" stroke-width="1.5"/>
<path d="M354.7,38.6 L351.4,48.6 L358.0,48.6 Z" fill="#000"/>
<text x="390.7" y="191.4" font-size="7.8" font-weight="bold" text-anchor="start" fill="#000" >BEADS</text>
<text x="427.9" y="191.4" font-size="7.65" font-weight="bold" text-anchor="start" fill="#000" >FLUORESCENCE</text>
<line x1="493.0" y1="188.4" x2="507.1" y2="188.4" stroke="#000" stroke-width="1.5"/>
<path d="M515.1,188.4 L506.1,185.20000000000002 L506.1,191.6 Z" fill="#000"/>
<text x="33.1" y="230.9" font-size="9" font-weight="bold" text-anchor="start" fill="#000" >FRAME</text>
<text x="70.6" y="230.9" font-size="9" font-weight="bold" text-anchor="start" fill="#000" >3</text>
<path d="M63.0 367.8h1V371.3h-1zM64.0 367.8h1V371.3h-1zM67.0 369.8h1V371.3h-1zM69.0 368.8h1V371.3h-1zM70.0 368.8h1V371.3h-1zM75.0 369.8h1V371.3h-1zM76.0 370.5h1V371.3h-1zM78.0 367.8h1V371.3h-1zM81.0 367.8h1V371.3h-1zM82.0 369.8h1V371.3h-1zM83.0 369.3h1V371.3h-1zM84.0 366.8h1V371.3h-1zM87.0 369.8h1V371.3h-1zM92.0 369.8h1V371.3h-1zM93.0 368.8h1V371.3h-1zM95.0 370.5h1V371.3h-1zM96.0 369.8h1V371.3h-1zM98.0 368.8h1V371.3h-1zM99.0 368.8h1V371.3h-1zM100.0 367.8h1V371.3h-1zM104.0 369.3h1V371.3h-1zM106.0 366.8h1V371.3h-1zM108.0 369.3h1V371.3h-1zM109.0 369.3h1V371.3h-1zM111.0 368.8h1V371.3h-1zM112.0 363.3h1V371.3h-1zM113.0 367.2h1V371.3h-1zM114.0 368.5h1V371.3h-1zM115.0 366.2h1V371.3h-1zM116.0 365.6h1V371.3h-1zM117.0 365.2h1V371.3h-1zM118.0 364.6h1V371.3h-1zM119.0 361.6h1V371.3h-1zM120.0 346.4h1V371.3h-1zM121.0 330.3h1V371.3h-1zM122.0 346.4h1V371.3h-1zM123.0 361.6h1V371.3h-1zM124.0 364.6h1V371.3h-1zM125.0 367.3h1V371.3h-1zM126.0 367.3h1V371.3h-1zM127.0 360.3h1V371.3h-1zM128.0 367.3h1V371.3h-1zM129.0 365.2h1V371.3h-1zM130.0 357.8h1V371.3h-1zM131.0 346.3h1V371.3h-1zM132.0 357.8h1V371.3h-1zM133.0 365.2h1V371.3h-1zM134.0 366.5h1V371.3h-1zM135.0 368.4h1V371.3h-1zM136.0 367.3h1V371.3h-1zM137.0 362.3h1V371.3h-1zM138.0 362.8h1V371.3h-1zM139.0 367.7h1V371.3h-1zM140.0 367.7h1V371.3h-1zM141.0 366.4h1V371.3h-1zM142.0 360.3h1V371.3h-1zM143.0 366.4h1V371.3h-1zM144.0 368.1h1V371.3h-1zM145.0 368.2h1V371.3h-1zM146.0 366.8h1V371.3h-1zM147.0 368.1h1V371.3h-1zM148.0 362.3h1V371.3h-1zM149.0 367.1h1V371.3h-1zM150.0 368.6h1V371.3h-1zM151.0 366.3h1V371.3h-1zM152.0 360.3h1V371.3h-1zM153.0 366.3h1V371.3h-1zM154.0 368.5h1V371.3h-1zM155.0 364.4h1V371.3h-1zM156.0 365.0h1V371.3h-1zM157.0 368.0h1V371.3h-1zM158.0 367.5h1V371.3h-1zM159.0 366.7h1V371.3h-1zM160.0 361.3h1V371.3h-1zM161.0 365.9h1V371.3h-1zM162.0 368.5h1V371.3h-1zM163.0 361.9h1V371.3h-1zM164.0 366.7h1V371.3h-1zM165.0 364.3h1V371.3h-1zM166.0 366.7h1V371.3h-1zM167.0 367.2h1V371.3h-1zM168.0 364.9h1V371.3h-1zM169.0 368.6h1V371.3h-1zM170.0 367.4h1V371.3h-1zM171.0 365.4h1V371.3h-1zM172.0 366.1h1V371.3h-1zM173.0 362.6h1V371.3h-1zM174.0 367.1h1V371.3h-1zM175.0 367.5h1V371.3h-1zM176.0 366.7h1V371.3h-1zM177.0 367.1h1V371.3h-1zM178.0 360.3h1V371.3h-1zM179.0 367.3h1V371.3h-1zM180.0 368.5h1V371.3h-1zM181.0 366.3h1V371.3h-1zM182.0 368.3h1V371.3h-1zM183.0 367.7h1V371.3h-1zM184.0 367.1h1V371.3h-1zM185.0 367.7h1V371.3h-1zM186.0 368.2h1V371.3h-1zM187.0 363.4h1V371.3h-1zM188.0 365.0h1V371.3h-1zM189.0 356.3h1V371.3h-1z" fill="#000"/>
<polygon points="47.3,248.2 54.6,248.2 54.6,279.2 55.6,280.2 55.6,308.2 56.8,310.2 57.6,340.2 58.5,343.2 59.3,363.2 60.3,366.7 61.3,370.7 47.3,371.3" fill="#000"/>
<rect x="47.3" y="248.2" width="142.89999999999998" height="123.10000000000002" fill="none" stroke="#222" stroke-width="1.15"/>
<line x1="44.8" y1="371.3" x2="47.3" y2="371.3" stroke="#444" stroke-width="0.8"/>
<line x1="45.8" y1="367.2" x2="47.3" y2="367.2" stroke="#444" stroke-width="0.8"/>
<line x1="45.8" y1="363.09999999999997" x2="47.3" y2="363.09999999999997" stroke="#444" stroke-width="0.8"/>
<line x1="45.8" y1="358.99999999999994" x2="47.3" y2="358.99999999999994" stroke="#444" stroke-width="0.8"/>
<line x1="45.8" y1="354.8999999999999" x2="47.3" y2="354.8999999999999" stroke="#444" stroke-width="0.8"/>
<line x1="44.8" y1="350.7999999999999" x2="47.3" y2="350.7999999999999" stroke="#444" stroke-width="0.8"/>
<line x1="45.8" y1="346.6999999999999" x2="47.3" y2="346.6999999999999" stroke="#444" stroke-width="0.8"/>
<line x1="45.8" y1="342.59999999999985" x2="47.3" y2="342.59999999999985" stroke="#444" stroke-width="0.8"/>
<line x1="45.8" y1="338.49999999999983" x2="47.3" y2="338.49999999999983" stroke="#444" stroke-width="0.8"/>
<line x1="45.8" y1="334.3999999999998" x2="47.3" y2="334.3999999999998" stroke="#444" stroke-width="0.8"/>
<line x1="44.8" y1="330.2999999999998" x2="47.3" y2="330.2999999999998" stroke="#444" stroke-width="0.8"/>
<line x1="45.8" y1="326.19999999999976" x2="47.3" y2="326.19999999999976" stroke="#444" stroke-width="0.8"/>
<line x1="45.8" y1="322.09999999999974" x2="47.3" y2="322.09999999999974" stroke="#444" stroke-width="0.8"/>
<line x1="45.8" y1="317.9999999999997" x2="47.3" y2="317.9999999999997" stroke="#444" stroke-width="0.8"/>
<line x1="45.8" y1="313.8999999999997" x2="47.3" y2="313.8999999999997" stroke="#444" stroke-width="0.8"/>
<line x1="44.8" y1="309.79999999999967" x2="47.3" y2="309.79999999999967" stroke="#444" stroke-width="0.8"/>
<line x1="45.8" y1="305.69999999999965" x2="47.3" y2="305.69999999999965" stroke="#444" stroke-width="0.8"/>
<line x1="45.8" y1="301.5999999999996" x2="47.3" y2="301.5999999999996" stroke="#444" stroke-width="0.8"/>
<line x1="45.8" y1="297.4999999999996" x2="47.3" y2="297.4999999999996" stroke="#444" stroke-width="0.8"/>
<line x1="45.8" y1="293.3999999999996" x2="47.3" y2="293.3999999999996" stroke="#444" stroke-width="0.8"/>
<line x1="44.8" y1="289.29999999999956" x2="47.3" y2="289.29999999999956" stroke="#444" stroke-width="0.8"/>
<line x1="45.8" y1="285.19999999999953" x2="47.3" y2="285.19999999999953" stroke="#444" stroke-width="0.8"/>
<line x1="45.8" y1="281.0999999999995" x2="47.3" y2="281.0999999999995" stroke="#444" stroke-width="0.8"/>
<line x1="45.8" y1="276.9999999999995" x2="47.3" y2="276.9999999999995" stroke="#444" stroke-width="0.8"/>
<line x1="45.8" y1="272.89999999999947" x2="47.3" y2="272.89999999999947" stroke="#444" stroke-width="0.8"/>
<line x1="44.8" y1="268.79999999999944" x2="47.3" y2="268.79999999999944" stroke="#444" stroke-width="0.8"/>
<line x1="45.8" y1="264.6999999999994" x2="47.3" y2="264.6999999999994" stroke="#444" stroke-width="0.8"/>
<line x1="45.8" y1="260.5999999999994" x2="47.3" y2="260.5999999999994" stroke="#444" stroke-width="0.8"/>
<line x1="45.8" y1="256.4999999999994" x2="47.3" y2="256.4999999999994" stroke="#444" stroke-width="0.8"/>
<line x1="45.8" y1="252.39999999999938" x2="47.3" y2="252.39999999999938" stroke="#444" stroke-width="0.8"/>
<line x1="47.3" y1="371.3" x2="47.3" y2="374.3" stroke="#333" stroke-width="1"/>
<text x="47.599999999999994" y="383.1" font-size="8" font-weight="normal" text-anchor="middle">10<tspan font-size="7" dy="-4">0</tspan></text>
<line x1="58.05429659509572" y1="371.3" x2="58.05429659509572" y2="373.1" stroke="#444" stroke-width="0.8"/>
<line x1="64.34515682485994" y1="371.3" x2="64.34515682485994" y2="373.1" stroke="#444" stroke-width="0.8"/>
<line x1="68.80859319019146" y1="371.3" x2="68.80859319019146" y2="373.1" stroke="#444" stroke-width="0.8"/>
<line x1="72.27070340490427" y1="371.3" x2="72.27070340490427" y2="373.1" stroke="#444" stroke-width="0.8"/>
<line x1="75.09945341995567" y1="371.3" x2="75.09945341995567" y2="373.1" stroke="#444" stroke-width="0.8"/>
<line x1="77.49112747950932" y1="371.3" x2="77.49112747950932" y2="373.1" stroke="#444" stroke-width="0.8"/>
<line x1="79.56288978528718" y1="371.3" x2="79.56288978528718" y2="373.1" stroke="#444" stroke-width="0.8"/>
<line x1="81.39031364971987" y1="371.3" x2="81.39031364971987" y2="373.1" stroke="#444" stroke-width="0.8"/>
<line x1="83.02499999999999" y1="371.3" x2="83.02499999999999" y2="374.3" stroke="#333" stroke-width="1"/>
<text x="83.32499999999999" y="383.1" font-size="8" font-weight="normal" text-anchor="middle">10<tspan font-size="7" dy="-4">1</tspan></text>
<line x1="93.77929659509572" y1="371.3" x2="93.77929659509572" y2="373.1" stroke="#444" stroke-width="0.8"/>
<line x1="100.07015682485994" y1="371.3" x2="100.07015682485994" y2="373.1" stroke="#444" stroke-width="0.8"/>
<line x1="104.53359319019145" y1="371.3" x2="104.53359319019145" y2="373.1" stroke="#444" stroke-width="0.8"/>
<line x1="107.99570340490426" y1="371.3" x2="107.99570340490426" y2="373.1" stroke="#444" stroke-width="0.8"/>
<line x1="110.82445341995566" y1="371.3" x2="110.82445341995566" y2="373.1" stroke="#444" stroke-width="0.8"/>
<line x1="113.21612747950931" y1="371.3" x2="113.21612747950931" y2="373.1" stroke="#444" stroke-width="0.8"/>
<line x1="115.28788978528718" y1="371.3" x2="115.28788978528718" y2="373.1" stroke="#444" stroke-width="0.8"/>
<line x1="117.11531364971987" y1="371.3" x2="117.11531364971987" y2="373.1" stroke="#444" stroke-width="0.8"/>
<line x1="118.74999999999999" y1="371.3" x2="118.74999999999999" y2="374.3" stroke="#333" stroke-width="1"/>
<text x="119.04999999999998" y="383.1" font-size="8" font-weight="normal" text-anchor="middle">10<tspan font-size="7" dy="-4">2</tspan></text>
<line x1="129.50429659509572" y1="371.3" x2="129.50429659509572" y2="373.1" stroke="#444" stroke-width="0.8"/>
<line x1="135.79515682485993" y1="371.3" x2="135.79515682485993" y2="373.1" stroke="#444" stroke-width="0.8"/>
<line x1="140.25859319019145" y1="371.3" x2="140.25859319019145" y2="373.1" stroke="#444" stroke-width="0.8"/>
<line x1="143.72070340490427" y1="371.3" x2="143.72070340490427" y2="373.1" stroke="#444" stroke-width="0.8"/>
<line x1="146.54945341995565" y1="371.3" x2="146.54945341995565" y2="373.1" stroke="#444" stroke-width="0.8"/>
<line x1="148.9411274795093" y1="371.3" x2="148.9411274795093" y2="373.1" stroke="#444" stroke-width="0.8"/>
<line x1="151.01288978528717" y1="371.3" x2="151.01288978528717" y2="373.1" stroke="#444" stroke-width="0.8"/>
<line x1="152.84031364971986" y1="371.3" x2="152.84031364971986" y2="373.1" stroke="#444" stroke-width="0.8"/>
<line x1="154.47499999999997" y1="371.3" x2="154.47499999999997" y2="374.3" stroke="#333" stroke-width="1"/>
<text x="154.77499999999998" y="383.1" font-size="8" font-weight="normal" text-anchor="middle">10<tspan font-size="7" dy="-4">3</tspan></text>
<line x1="165.2292965950957" y1="371.3" x2="165.2292965950957" y2="373.1" stroke="#444" stroke-width="0.8"/>
<line x1="171.5201568248599" y1="371.3" x2="171.5201568248599" y2="373.1" stroke="#444" stroke-width="0.8"/>
<line x1="175.9835931901914" y1="371.3" x2="175.9835931901914" y2="373.1" stroke="#444" stroke-width="0.8"/>
<line x1="179.44570340490424" y1="371.3" x2="179.44570340490424" y2="373.1" stroke="#444" stroke-width="0.8"/>
<line x1="182.27445341995562" y1="371.3" x2="182.27445341995562" y2="373.1" stroke="#444" stroke-width="0.8"/>
<line x1="184.66612747950927" y1="371.3" x2="184.66612747950927" y2="373.1" stroke="#444" stroke-width="0.8"/>
<line x1="186.73788978528714" y1="371.3" x2="186.73788978528714" y2="373.1" stroke="#444" stroke-width="0.8"/>
<line x1="188.56531364971983" y1="371.3" x2="188.56531364971983" y2="373.1" stroke="#444" stroke-width="0.8"/>
<line x1="190.2" y1="371.3" x2="190.2" y2="374.3" stroke="#333" stroke-width="1"/>
<text x="189.2" y="383.1" font-size="8" font-weight="normal" text-anchor="middle">10<tspan font-size="7" dy="-4">4</tspan></text>
<text x="58.6" y="262.3" font-size="9.4" font-weight="bold" text-anchor="start" fill="#000" letter-spacing="0.3">CD1<tspan dx="1.2">0</tspan></text>
<text x="86.3" y="258.9" font-size="9.4" font-weight="bold" text-anchor="start" fill="#000" letter-spacing="0.45">dim</text>
<line x1="104.96" y1="290.59999999999997" x2="189.2" y2="290.59999999999997" stroke="#000" stroke-width="2.1"/>
<line x1="104.96" y1="284.59999999999997" x2="104.96" y2="296.59999999999997" stroke="#000" stroke-width="2"/>
<line x1="189.2" y1="284.59999999999997" x2="189.2" y2="296.59999999999997" stroke="#000" stroke-width="2"/>
<text x="146" y="284.59999999999997" font-size="9.5" font-weight="bold" text-anchor="middle" fill="#000" letter-spacing="0">9%</text>
<text transform="translate(39.4,340.5) rotate(-90)" font-size="8.2" font-weight="bold" text-anchor="start" >COUNTS/&#160;EVENT</text>
<line x1="35.8" y1="255.89999999999998" x2="35.8" y2="271" stroke="#000" stroke-width="1.5"/>
<path d="M35.8,246.9 L32.5,256.9 L39.099999999999994,256.9 Z" fill="#000"/>
<text x="67.3" y="397.2" font-size="7.8" font-weight="bold" text-anchor="start" fill="#000" >BEADS</text>
<text x="104.69999999999999" y="397.2" font-size="7.65" font-weight="bold" text-anchor="start" fill="#000" >FLUORESCENCE</text>
<line x1="170.7" y1="394.2" x2="184.79999999999998" y2="394.2" stroke="#000" stroke-width="1.5"/>
<path d="M192.79999999999998,394.2 L183.79999999999998,391.0 L183.79999999999998,397.4 Z" fill="#000"/>
<text x="353.1" y="230.9" font-size="9" font-weight="bold" text-anchor="start" fill="#000" >FRAME</text>
<text x="390.6" y="230.9" font-size="9" font-weight="bold" text-anchor="start" fill="#000" >4</text>
<path d="M381.0 362.3h1V371.3h-1zM382.0 369.1h1V371.3h-1zM384.0 369.0h1V371.3h-1zM385.0 369.9h1V371.3h-1zM386.0 368.1h1V371.3h-1zM387.0 369.2h1V371.3h-1zM388.0 368.6h1V371.3h-1zM389.0 368.2h1V371.3h-1zM390.0 369.0h1V371.3h-1zM391.0 369.3h1V371.3h-1zM392.0 368.9h1V371.3h-1zM393.0 368.5h1V371.3h-1zM394.0 370.2h1V371.3h-1zM395.0 369.6h1V371.3h-1zM396.0 368.6h1V371.3h-1zM397.0 368.6h1V371.3h-1zM398.0 369.1h1V371.3h-1zM400.0 366.9h1V371.3h-1zM401.0 368.5h1V371.3h-1zM402.0 368.2h1V371.3h-1zM403.0 369.5h1V371.3h-1zM404.0 370.1h1V371.3h-1zM405.0 370.1h1V371.3h-1zM406.0 366.3h1V371.3h-1zM407.0 370.1h1V371.3h-1zM408.0 368.5h1V371.3h-1zM410.0 369.5h1V371.3h-1zM412.0 369.4h1V371.3h-1zM413.0 369.8h1V371.3h-1zM414.0 369.1h1V371.3h-1zM415.0 368.9h1V371.3h-1zM416.0 369.8h1V371.3h-1zM417.0 369.1h1V371.3h-1zM418.0 369.3h1V371.3h-1zM419.0 366.0h1V371.3h-1zM420.0 368.8h1V371.3h-1zM421.0 370.1h1V371.3h-1zM422.0 369.1h1V371.3h-1zM423.0 365.7h1V371.3h-1zM425.0 368.6h1V371.3h-1zM426.0 369.6h1V371.3h-1zM428.0 369.4h1V371.3h-1zM429.0 369.1h1V371.3h-1zM430.0 369.8h1V371.3h-1zM431.0 370.1h1V371.3h-1zM432.0 369.3h1V371.3h-1zM433.0 370.3h1V371.3h-1zM434.0 367.3h1V371.3h-1zM435.0 369.7h1V371.3h-1zM436.0 370.1h1V371.3h-1zM437.0 366.9h1V371.3h-1zM438.0 367.3h1V371.3h-1zM439.0 370.3h1V371.3h-1zM440.0 368.6h1V371.3h-1zM441.0 365.4h1V371.3h-1zM442.0 351.3h1V371.3h-1zM443.0 334.3h1V371.3h-1zM444.0 351.3h1V371.3h-1zM445.0 365.4h1V371.3h-1zM446.0 368.6h1V371.3h-1zM447.0 370.4h1V371.3h-1zM449.0 369.5h1V371.3h-1zM450.0 369.4h1V371.3h-1zM451.0 368.6h1V371.3h-1zM452.0 366.3h1V371.3h-1zM453.0 360.3h1V371.3h-1zM454.0 366.3h1V371.3h-1zM455.0 368.6h1V371.3h-1zM456.0 368.9h1V371.3h-1zM457.0 370.9h1V371.3h-1zM459.0 366.8h1V371.3h-1zM460.0 368.6h1V371.3h-1zM461.0 365.3h1V371.3h-1zM462.0 368.6h1V371.3h-1zM463.0 369.0h1V371.3h-1zM464.0 370.2h1V371.3h-1zM465.0 369.6h1V371.3h-1zM466.0 369.1h1V371.3h-1zM468.0 369.7h1V371.3h-1zM469.0 369.7h1V371.3h-1zM470.0 369.0h1V371.3h-1zM471.0 368.2h1V371.3h-1zM474.0 368.2h1V371.3h-1zM475.0 368.7h1V371.3h-1zM476.0 369.7h1V371.3h-1zM477.0 368.4h1V371.3h-1zM478.0 370.1h1V371.3h-1zM479.0 370.2h1V371.3h-1zM481.0 368.5h1V371.3h-1zM482.0 368.5h1V371.3h-1zM483.0 369.5h1V371.3h-1zM485.0 367.4h1V371.3h-1zM486.0 369.0h1V371.3h-1zM487.0 368.1h1V371.3h-1zM488.0 368.2h1V371.3h-1zM489.0 368.5h1V371.3h-1zM490.0 368.2h1V371.3h-1zM491.0 369.0h1V371.3h-1zM494.0 369.2h1V371.3h-1zM495.0 368.1h1V371.3h-1zM496.0 369.5h1V371.3h-1zM497.0 369.1h1V371.3h-1zM498.0 368.1h1V371.3h-1zM499.0 369.1h1V371.3h-1zM500.0 370.2h1V371.3h-1zM501.0 369.3h1V371.3h-1zM502.0 369.4h1V371.3h-1zM503.0 368.8h1V371.3h-1zM504.0 368.4h1V371.3h-1zM506.0 366.6h1V371.3h-1zM507.0 368.9h1V371.3h-1zM508.0 367.4h1V371.3h-1zM509.0 369.2h1V371.3h-1zM510.0 368.9h1V371.3h-1zM511.0 358.3h1V371.3h-1z" fill="#000"/>
<polygon points="369.5,248.2 376.6,248.2 376.6,261.2 378.0,262.2 378.8,270.2 378.8,334.2 380.0,348.2 381.3,359.2 382.4,367.2 383.5,370.7 369.5,371.3" fill="#000"/>
<rect x="369.5" y="248.2" width="143.10000000000002" height="123.10000000000002" fill="none" stroke="#222" stroke-width="1.15"/>
<line x1="367.0" y1="371.3" x2="369.5" y2="371.3" stroke="#444" stroke-width="0.8"/>
<line x1="368.0" y1="367.2" x2="369.5" y2="367.2" stroke="#444" stroke-width="0.8"/>
<line x1="368.0" y1="363.09999999999997" x2="369.5" y2="363.09999999999997" stroke="#444" stroke-width="0.8"/>
<line x1="368.0" y1="358.99999999999994" x2="369.5" y2="358.99999999999994" stroke="#444" stroke-width="0.8"/>
<line x1="368.0" y1="354.8999999999999" x2="369.5" y2="354.8999999999999" stroke="#444" stroke-width="0.8"/>
<line x1="367.0" y1="350.7999999999999" x2="369.5" y2="350.7999999999999" stroke="#444" stroke-width="0.8"/>
<line x1="368.0" y1="346.6999999999999" x2="369.5" y2="346.6999999999999" stroke="#444" stroke-width="0.8"/>
<line x1="368.0" y1="342.59999999999985" x2="369.5" y2="342.59999999999985" stroke="#444" stroke-width="0.8"/>
<line x1="368.0" y1="338.49999999999983" x2="369.5" y2="338.49999999999983" stroke="#444" stroke-width="0.8"/>
<line x1="368.0" y1="334.3999999999998" x2="369.5" y2="334.3999999999998" stroke="#444" stroke-width="0.8"/>
<line x1="367.0" y1="330.2999999999998" x2="369.5" y2="330.2999999999998" stroke="#444" stroke-width="0.8"/>
<line x1="368.0" y1="326.19999999999976" x2="369.5" y2="326.19999999999976" stroke="#444" stroke-width="0.8"/>
<line x1="368.0" y1="322.09999999999974" x2="369.5" y2="322.09999999999974" stroke="#444" stroke-width="0.8"/>
<line x1="368.0" y1="317.9999999999997" x2="369.5" y2="317.9999999999997" stroke="#444" stroke-width="0.8"/>
<line x1="368.0" y1="313.8999999999997" x2="369.5" y2="313.8999999999997" stroke="#444" stroke-width="0.8"/>
<line x1="367.0" y1="309.79999999999967" x2="369.5" y2="309.79999999999967" stroke="#444" stroke-width="0.8"/>
<line x1="368.0" y1="305.69999999999965" x2="369.5" y2="305.69999999999965" stroke="#444" stroke-width="0.8"/>
<line x1="368.0" y1="301.5999999999996" x2="369.5" y2="301.5999999999996" stroke="#444" stroke-width="0.8"/>
<line x1="368.0" y1="297.4999999999996" x2="369.5" y2="297.4999999999996" stroke="#444" stroke-width="0.8"/>
<line x1="368.0" y1="293.3999999999996" x2="369.5" y2="293.3999999999996" stroke="#444" stroke-width="0.8"/>
<line x1="367.0" y1="289.29999999999956" x2="369.5" y2="289.29999999999956" stroke="#444" stroke-width="0.8"/>
<line x1="368.0" y1="285.19999999999953" x2="369.5" y2="285.19999999999953" stroke="#444" stroke-width="0.8"/>
<line x1="368.0" y1="281.0999999999995" x2="369.5" y2="281.0999999999995" stroke="#444" stroke-width="0.8"/>
<line x1="368.0" y1="276.9999999999995" x2="369.5" y2="276.9999999999995" stroke="#444" stroke-width="0.8"/>
<line x1="368.0" y1="272.89999999999947" x2="369.5" y2="272.89999999999947" stroke="#444" stroke-width="0.8"/>
<line x1="367.0" y1="268.79999999999944" x2="369.5" y2="268.79999999999944" stroke="#444" stroke-width="0.8"/>
<line x1="368.0" y1="264.6999999999994" x2="369.5" y2="264.6999999999994" stroke="#444" stroke-width="0.8"/>
<line x1="368.0" y1="260.5999999999994" x2="369.5" y2="260.5999999999994" stroke="#444" stroke-width="0.8"/>
<line x1="368.0" y1="256.4999999999994" x2="369.5" y2="256.4999999999994" stroke="#444" stroke-width="0.8"/>
<line x1="368.0" y1="252.39999999999938" x2="369.5" y2="252.39999999999938" stroke="#444" stroke-width="0.8"/>
<line x1="369.5" y1="371.3" x2="369.5" y2="374.3" stroke="#333" stroke-width="1"/>
<text x="369.8" y="383.1" font-size="8" font-weight="normal" text-anchor="middle">10<tspan font-size="7" dy="-4">0</tspan></text>
<line x1="380.2693480948789" y1="371.3" x2="380.2693480948789" y2="373.1" stroke="#444" stroke-width="0.8"/>
<line x1="386.56901288759593" y1="371.3" x2="386.56901288759593" y2="373.1" stroke="#444" stroke-width="0.8"/>
<line x1="391.03869618975784" y1="371.3" x2="391.03869618975784" y2="373.1" stroke="#444" stroke-width="0.8"/>
<line x1="394.50565190512106" y1="371.3" x2="394.50565190512106" y2="373.1" stroke="#444" stroke-width="0.8"/>
<line x1="397.33836098247485" y1="371.3" x2="397.33836098247485" y2="373.1" stroke="#444" stroke-width="0.8"/>
<line x1="399.73338238151007" y1="371.3" x2="399.73338238151007" y2="373.1" stroke="#444" stroke-width="0.8"/>
<line x1="401.80804428463676" y1="371.3" x2="401.80804428463676" y2="373.1" stroke="#444" stroke-width="0.8"/>
<line x1="403.63802577519186" y1="371.3" x2="403.63802577519186" y2="373.1" stroke="#444" stroke-width="0.8"/>
<line x1="405.275" y1="371.3" x2="405.275" y2="374.3" stroke="#333" stroke-width="1"/>
<text x="405.575" y="383.1" font-size="8" font-weight="normal" text-anchor="middle">10<tspan font-size="7" dy="-4">1</tspan></text>
<line x1="416.0443480948789" y1="371.3" x2="416.0443480948789" y2="373.1" stroke="#444" stroke-width="0.8"/>
<line x1="422.3440128875959" y1="371.3" x2="422.3440128875959" y2="373.1" stroke="#444" stroke-width="0.8"/>
<line x1="426.8136961897578" y1="371.3" x2="426.8136961897578" y2="373.1" stroke="#444" stroke-width="0.8"/>
<line x1="430.28065190512103" y1="371.3" x2="430.28065190512103" y2="373.1" stroke="#444" stroke-width="0.8"/>
<line x1="433.11336098247483" y1="371.3" x2="433.11336098247483" y2="373.1" stroke="#444" stroke-width="0.8"/>
<line x1="435.50838238151005" y1="371.3" x2="435.50838238151005" y2="373.1" stroke="#444" stroke-width="0.8"/>
<line x1="437.58304428463674" y1="371.3" x2="437.58304428463674" y2="373.1" stroke="#444" stroke-width="0.8"/>
<line x1="439.41302577519184" y1="371.3" x2="439.41302577519184" y2="373.1" stroke="#444" stroke-width="0.8"/>
<line x1="441.05" y1="371.3" x2="441.05" y2="374.3" stroke="#333" stroke-width="1"/>
<text x="441.35" y="383.1" font-size="8" font-weight="normal" text-anchor="middle">10<tspan font-size="7" dy="-4">2</tspan></text>
<line x1="451.81934809487893" y1="371.3" x2="451.81934809487893" y2="373.1" stroke="#444" stroke-width="0.8"/>
<line x1="458.11901288759594" y1="371.3" x2="458.11901288759594" y2="373.1" stroke="#444" stroke-width="0.8"/>
<line x1="462.58869618975785" y1="371.3" x2="462.58869618975785" y2="373.1" stroke="#444" stroke-width="0.8"/>
<line x1="466.05565190512107" y1="371.3" x2="466.05565190512107" y2="373.1" stroke="#444" stroke-width="0.8"/>
<line x1="468.88836098247486" y1="371.3" x2="468.88836098247486" y2="373.1" stroke="#444" stroke-width="0.8"/>
<line x1="471.2833823815101" y1="371.3" x2="471.2833823815101" y2="373.1" stroke="#444" stroke-width="0.8"/>
<line x1="473.3580442846368" y1="371.3" x2="473.3580442846368" y2="373.1" stroke="#444" stroke-width="0.8"/>
<line x1="475.1880257751919" y1="371.3" x2="475.1880257751919" y2="373.1" stroke="#444" stroke-width="0.8"/>
<line x1="476.82500000000005" y1="371.3" x2="476.82500000000005" y2="374.3" stroke="#333" stroke-width="1"/>
<text x="477.12500000000006" y="383.1" font-size="8" font-weight="normal" text-anchor="middle">10<tspan font-size="7" dy="-4">3</tspan></text>
<line x1="487.59434809487897" y1="371.3" x2="487.59434809487897" y2="373.1" stroke="#444" stroke-width="0.8"/>
<line x1="493.894012887596" y1="371.3" x2="493.894012887596" y2="373.1" stroke="#444" stroke-width="0.8"/>
<line x1="498.3636961897579" y1="371.3" x2="498.3636961897579" y2="373.1" stroke="#444" stroke-width="0.8"/>
<line x1="501.8306519051211" y1="371.3" x2="501.8306519051211" y2="373.1" stroke="#444" stroke-width="0.8"/>
<line x1="504.6633609824749" y1="371.3" x2="504.6633609824749" y2="373.1" stroke="#444" stroke-width="0.8"/>
<line x1="507.0583823815101" y1="371.3" x2="507.0583823815101" y2="373.1" stroke="#444" stroke-width="0.8"/>
<line x1="509.1330442846368" y1="371.3" x2="509.1330442846368" y2="373.1" stroke="#444" stroke-width="0.8"/>
<line x1="510.9630257751919" y1="371.3" x2="510.9630257751919" y2="373.1" stroke="#444" stroke-width="0.8"/>
<line x1="512.6" y1="371.3" x2="512.6" y2="374.3" stroke="#333" stroke-width="1"/>
<text x="511.59999999999997" y="383.1" font-size="8" font-weight="normal" text-anchor="middle">10<tspan font-size="7" dy="-4">4</tspan></text>
<text x="381.75" y="262.3" font-size="9.4" font-weight="bold" text-anchor="start" fill="#000" letter-spacing="0.3">CD1<tspan dx="1.2">0</tspan></text>
<text x="409.9" y="258.9" font-size="9.4" font-weight="bold" text-anchor="start" fill="#000" letter-spacing="0.45">bright</text>
<line x1="427.24" y1="290.59999999999997" x2="511.6" y2="290.59999999999997" stroke="#000" stroke-width="2.1"/>
<line x1="427.24" y1="284.59999999999997" x2="427.24" y2="296.59999999999997" stroke="#000" stroke-width="2"/>
<line x1="511.6" y1="284.59999999999997" x2="511.6" y2="296.59999999999997" stroke="#000" stroke-width="2"/>
<text x="469.5" y="287.0" font-size="9.5" font-weight="bold" text-anchor="middle" fill="#000" letter-spacing="0.7">4%</text>
<text transform="translate(359.4,341.8) rotate(-90)" font-size="8.2" font-weight="bold" text-anchor="start" >COUNTS/&#160;EVENT</text>
<line x1="356.2" y1="258.5" x2="356.2" y2="272.7" stroke="#000" stroke-width="1.5"/>
<path d="M356.2,249.5 L352.9,259.5 L359.5,259.5 Z" fill="#000"/>
<text x="391.5" y="397.2" font-size="7.8" font-weight="bold" text-anchor="start" fill="#000" >BEADS</text>
<text x="429.2" y="397.2" font-size="7.65" font-weight="bold" text-anchor="start" fill="#000" >FLUORESCENCE</text>
<line x1="493.1" y1="394.2" x2="507.20000000000005" y2="394.2" stroke="#000" stroke-width="1.5"/>
<path d="M515.2,394.2 L506.20000000000005,391.0 L506.20000000000005,397.4 Z" fill="#000"/>
<text x="56" y="582.3" font-size="9" font-weight="bold" text-anchor="end" fill="#000" >0</text>
<text x="56" y="558.3" font-size="9" font-weight="bold" text-anchor="end" fill="#000" >10</text>
<text x="56" y="534.3" font-size="9" font-weight="bold" text-anchor="end" fill="#000" >20</text>
<text x="56" y="510.29999999999995" font-size="9" font-weight="bold" text-anchor="end" fill="#000" >30</text>
<text x="56" y="486.29999999999995" font-size="9" font-weight="bold" text-anchor="end" fill="#000" >40</text>
<text x="56" y="462.3" font-size="9" font-weight="bold" text-anchor="end" fill="#000" >50</text>
<text x="56" y="438.3" font-size="9" font-weight="bold" text-anchor="end" fill="#000" >60</text>
<rect x="69.6" y="569.7" width="11.9" height="9.6" fill="#fff" stroke="#222" stroke-width="0.9"/>
<rect x="82.0" y="536.1" width="11.9" height="43.2" fill="#d2d2d2" stroke="#222" stroke-width="0.9"/>
<rect x="94.4" y="461.7" width="11.9" height="117.6" fill="#000" stroke="#222" stroke-width="0.9"/>
<rect x="124.8" y="551.2" width="11.9" height="28.1" fill="#fff" stroke="#222" stroke-width="0.9"/>
<rect x="137.2" y="536.6" width="11.9" height="42.7" fill="#d2d2d2" stroke="#222" stroke-width="0.9"/>
<rect x="149.6" y="442.0" width="11.9" height="137.3" fill="#000" stroke="#222" stroke-width="0.9"/>
<rect x="180.7" y="568.5" width="11.9" height="10.8" fill="#fff" stroke="#222" stroke-width="0.9"/>
<rect x="193.1" y="569.7" width="11.9" height="9.6" fill="#d2d2d2" stroke="#222" stroke-width="0.9"/>
<rect x="205.5" y="529.4" width="11.9" height="49.9" fill="#000" stroke="#222" stroke-width="0.9"/>
<rect x="235.8" y="574.5" width="11.9" height="4.8" fill="#fff" stroke="#222" stroke-width="0.9"/>
<rect x="248.2" y="575.5" width="11.9" height="3.8" fill="#d2d2d2" stroke="#222" stroke-width="0.9"/>
<rect x="260.6" y="458.6" width="11.9" height="120.7" fill="#000" stroke="#222" stroke-width="0.9"/>
<rect x="60.6" y="435.3" width="221.9" height="143.99999999999994" fill="none" stroke="#555" stroke-width="1"/>
<text x="80" y="591.5" font-size="6.2" font-weight="bold" text-anchor="start" fill="#000" letter-spacing="-0.1">PBL</text>
<text x="130.6" y="591.8" font-size="6.5" font-weight="bold" text-anchor="start" fill="#000" >CD10<tspan font-size="6" dy="-3.2" dx="0.8">-</tspan></text>
<text x="179.8" y="591.8" font-size="6.5" font-weight="bold" text-anchor="start" fill="#000" >CD10<tspan font-size="6.5" dy="-3.2" dx="1.2">dim</tspan></text>
<text x="230.8" y="591.8" font-size="6.5" font-weight="bold" text-anchor="start" fill="#000" >CD10<tspan font-size="6.6" dy="-3.2" dx="0.5">bright</tspan></text>
<text x="134.3" y="607.9" font-size="6.6" font-weight="bold" text-anchor="start" fill="#000" >CELL</text>
<text x="160.5" y="607.9" font-size="6.6" font-weight="bold" text-anchor="start" fill="#000" >POPULATIONS</text>
<text transform="translate(35.8,572.3) rotate(-90)" font-size="8.6" font-weight="bold" text-anchor="start" letter-spacing="0.08">LFA-1 SPECIFIC ADHESION (%)</text>
<rect x="286.9" y="435.5" width="3.3" height="3.3" fill="#fff" stroke="#000" stroke-width="0.8"/>
<text x="293.8" y="439.6" font-size="6.3" font-weight="bold" text-anchor="start" fill="#000" letter-spacing="0.22">MEDIUM</text>
<rect x="286.9" y="446.7" width="3.3" height="3.3" fill="#d2d2d2" stroke="#000" stroke-width="0.8"/>
<text x="293.8" y="450.8" font-size="6.3" font-weight="bold" text-anchor="start" fill="#000" letter-spacing="0.22">PMA</text>
<rect x="286.9" y="457.9" width="3.3" height="3.3" fill="#000" stroke="#000" stroke-width="0.8"/>
<text x="293.8" y="462.0" font-size="6.3" font-weight="bold" text-anchor="start" fill="#000" letter-spacing="0.22">KIM1<tspan dx="0.8">8</tspan><tspan dx="0.8">5</tspan></text>
<path d="M445 484h1v1h-1zM450 491h1v1h-1zM462 492h1v1h-1zM435 493h1v1h-1zM428 494h1v1h-1zM441 495h1v1h-1zM402 496h1v1h-1zM438 496h1v1h-1zM432 497h1v1h-1zM434 497h1v1h-1zM448 497h1v1h-1zM457 497h1v1h-1zM459 497h1v1h-1zM414 498h1v1h-1zM435 498h1v1h-1zM443 498h1v1h-1zM447 498h1v1h-1zM396 499h1v1h-1zM419 499h1v1h-1zM421 499h1v1h-1zM455 499h1v1h-1zM462 499h1v1h-1zM469 499h1v1h-1zM474 499h1v1h-1zM412 500h1v1h-1zM445 500h1v1h-1zM451 500h1v1h-1zM453 500h1v1h-1zM458 500h1v1h-1zM468 500h1v1h-1zM472 500h1v1h-1zM415 501h1v1h-1zM425 501h1v1h-1zM438 501h1v1h-1zM443 501h1v1h-1zM445 501h1v1h-1zM457 501h1v1h-1zM460 501h1v1h-1zM472 501h1v1h-1zM380 502h1v1h-1zM401 502h1v1h-1zM405 502h1v1h-1zM408 502h1v1h-1zM412 502h1v1h-1zM423 502h1v1h-1zM434 502h1v1h-1zM443 502h1v1h-1zM448 502h1v1h-1zM452 502h1v1h-1zM478 502h1v1h-1zM367 503h1v1h-1zM371 503h1v1h-1zM373 503h1v1h-1zM374 503h1v1h-1zM377 503h1v1h-1zM385 503h1v1h-1zM386 503h1v1h-1zM391 503h1v1h-1zM394 503h1v1h-1zM406 503h1v1h-1zM414 503h1v1h-1zM424 503h1v1h-1zM425 503h1v1h-1zM426 503h1v1h-1zM428 503h1v1h-1zM437 503h1v1h-1zM452 503h1v1h-1zM459 503h1v1h-1zM460 503h1v1h-1zM491 503h1v1h-1zM377 504h1v1h-1zM395 504h1v1h-1zM401 504h1v1h-1zM403 504h1v1h-1zM409 504h1v1h-1zM412 504h1v1h-1zM415 504h1v1h-1zM427 504h1v1h-1zM431 504h1v1h-1zM437 504h1v1h-1zM442 504h1v1h-1zM443 504h1v1h-1zM446 504h1v1h-1zM454 504h1v1h-1zM457 504h1v1h-1zM458 504h1v1h-1zM459 504h1v1h-1zM478 504h1v1h-1zM368 505h1v1h-1zM372 505h1v1h-1zM375 505h1v1h-1zM389 505h1v1h-1zM391 505h1v1h-1zM392 505h1v1h-1zM393 505h1v1h-1zM411 505h1v1h-1zM419 505h1v1h-1zM422 505h1v1h-1zM424 505h1v1h-1zM429 505h1v1h-1zM432 505h1v1h-1zM433 505h1v1h-1zM438 505h1v1h-1zM441 505h1v1h-1zM447 505h1v1h-1zM451 505h1v1h-1zM455 505h1v1h-1zM457 505h1v1h-1zM465 505h1v1h-1zM469 505h1v1h-1zM472 505h1v1h-1zM473 505h1v1h-1zM371 506h1v1h-1zM379 506h1v1h-1zM386 506h1v1h-1zM392 506h1v1h-1zM397 506h1v1h-1zM410 506h1v1h-1zM412 506h1v1h-1zM418 506h1v1h-1zM419 506h1v1h-1zM420 506h1v1h-1zM423 506h1v1h-1zM424 506h1v1h-1zM429 506h1v1h-1zM430 506h1v1h-1zM433 506h1v1h-1zM439 506h1v1h-1zM440 506h1v1h-1zM444 506h1v1h-1zM445 506h1v1h-1zM447 506h1v1h-1zM448 506h1v1h-1zM449 506h1v1h-1zM456 506h1v1h-1zM458 506h1v1h-1zM461 506h1v1h-1zM470 506h1v1h-1zM478 506h1v1h-1zM484 506h1v1h-1zM374 507h1v1h-1zM377 507h1v1h-1zM386 507h1v1h-1zM398 507h1v1h-1zM404 507h1v1h-1zM407 507h1v1h-1zM409 507h1v1h-1zM419 507h1v1h-1zM426 507h1v1h-1zM431 507h1v1h-1zM432 507h1v1h-1zM437 507h1v1h-1zM445 507h1v1h-1zM450 507h1v1h-1zM452 507h1v1h-1zM453 507h1v1h-1zM457 507h1v1h-1zM466 507h1v1h-1zM470 507h1v1h-1zM375 508h1v1h-1zM377 508h1v1h-1zM380 508h1v1h-1zM381 508h1v1h-1zM394 508h1v1h-1zM395 508h1v1h-1zM403 508h1v1h-1zM407 508h1v1h-1zM420 508h1v1h-1zM421 508h1v1h-1zM422 508h1v1h-1zM424 508h1v1h-1zM426 508h1v1h-1zM427 508h1v1h-1zM430 508h1v1h-1zM431 508h1v1h-1zM432 508h1v1h-1zM433 508h1v1h-1zM434 508h1v1h-1zM438 508h1v1h-1zM439 508h1v1h-1zM440 508h1v1h-1zM443 508h1v1h-1zM444 508h1v1h-1zM452 508h1v1h-1zM455 508h1v1h-1zM458 508h1v1h-1zM459 508h1v1h-1zM460 508h1v1h-1zM466 508h1v1h-1zM475 508h1v1h-1zM476 508h1v1h-1zM477 508h1v1h-1zM367 509h1v1h-1zM373 509h1v1h-1zM380 509h1v1h-1zM388 509h1v1h-1zM389 509h1v1h-1zM397 509h1v1h-1zM402 509h1v1h-1zM411 509h1v1h-1zM415 509h1v1h-1zM418 509h1v1h-1zM419 509h1v1h-1zM422 509h1v1h-1zM424 509h1v1h-1zM425 509h1v1h-1zM426 509h1v1h-1zM430 509h1v1h-1zM434 509h1v1h-1zM436 509h1v1h-1zM437 509h1v1h-1zM438 509h1v1h-1zM439 509h1v1h-1zM440 509h1v1h-1zM441 509h1v1h-1zM442 509h1v1h-1zM443 509h1v1h-1zM447 509h1v1h-1zM448 509h1v1h-1zM454 509h1v1h-1zM456 509h1v1h-1zM458 509h1v1h-1zM462 509h1v1h-1zM463 509h1v1h-1zM464 509h1v1h-1zM465 509h1v1h-1zM480 509h1v1h-1zM372 510h1v1h-1zM378 510h1v1h-1zM396 510h1v1h-1zM401 510h1v1h-1zM404 510h1v1h-1zM418 510h1v1h-1zM421 510h1v1h-1zM423 510h1v1h-1zM424 510h1v1h-1zM426 510h1v1h-1zM429 510h1v1h-1zM433 510h1v1h-1zM436 510h1v1h-1zM437 510h1v1h-1zM439 510h1v1h-1zM441 510h1v1h-1zM443 510h1v1h-1zM444 510h1v1h-1zM445 510h1v1h-1zM447 510h1v1h-1zM454 510h1v1h-1zM455 510h1v1h-1zM467 510h1v1h-1zM369 511h1v1h-1zM383 511h1v1h-1zM398 511h1v1h-1zM400 511h1v1h-1zM412 511h1v1h-1zM423 511h1v1h-1zM424 511h1v1h-1zM426 511h1v1h-1zM429 511h1v1h-1zM430 511h1v1h-1zM431 511h1v1h-1zM433 511h1v1h-1zM435 511h1v1h-1zM437 511h1v1h-1zM438 511h1v1h-1zM440 511h1v1h-1zM441 511h1v1h-1zM442 511h1v1h-1zM443 511h1v1h-1zM444 511h1v1h-1zM445 511h1v1h-1zM446 511h1v1h-1zM447 511h1v1h-1zM449 511h1v1h-1zM450 511h1v1h-1zM451 511h1v1h-1zM452 511h1v1h-1zM453 511h1v1h-1zM454 511h1v1h-1zM455 511h1v1h-1zM457 511h1v1h-1zM459 511h1v1h-1zM464 511h1v1h-1zM465 511h1v1h-1zM467 511h1v1h-1zM367 512h1v1h-1zM369 512h1v1h-1zM373 512h1v1h-1zM375 512h1v1h-1zM382 512h1v1h-1zM397 512h1v1h-1zM401 512h1v1h-1zM409 512h1v1h-1zM411 512h1v1h-1zM414 512h1v1h-1zM416 512h1v1h-1zM419 512h1v1h-1zM424 512h1v1h-1zM426 512h1v1h-1zM427 512h1v1h-1zM429 512h1v1h-1zM432 512h1v1h-1zM433 512h1v1h-1zM434 512h1v1h-1zM435 512h1v1h-1zM436 512h1v1h-1zM437 512h1v1h-1zM441 512h1v1h-1zM443 512h1v1h-1zM444 512h1v1h-1zM446 512h1v1h-1zM447 512h1v1h-1zM449 512h1v1h-1zM450 512h1v1h-1zM453 512h1v1h-1zM455 512h1v1h-1zM456 512h1v1h-1zM459 512h1v1h-1zM465 512h1v1h-1zM472 512h1v1h-1zM474 512h1v1h-1zM481 512h1v1h-1zM482 512h1v1h-1zM380 513h1v1h-1zM389 513h1v1h-1zM391 513h1v1h-1zM401 513h1v1h-1zM403 513h1v1h-1zM410 513h1v1h-1zM413 513h1v1h-1zM416 513h1v1h-1zM418 513h1v1h-1zM419 513h1v1h-1zM421 513h1v1h-1zM422 513h1v1h-1zM425 513h1v1h-1zM427 513h1v1h-1zM428 513h1v1h-1zM429 513h1v1h-1zM430 513h1v1h-1zM431 513h1v1h-1zM432 513h1v1h-1zM433 513h1v1h-1zM434 513h1v1h-1zM435 513h1v1h-1zM436 513h1v1h-1zM437 513h1v1h-1zM438 513h1v1h-1zM439 513h1v1h-1zM440 513h1v1h-1zM441 513h1v1h-1zM442 513h1v1h-1zM443 513h1v1h-1zM444 513h1v1h-1zM445 513h1v1h-1zM446 513h1v1h-1zM447 513h1v1h-1zM450 513h1v1h-1zM455 513h1v1h-1zM456 513h1v1h-1zM457 513h1v1h-1zM459 513h1v1h-1zM460 513h1v1h-1zM462 513h1v1h-1zM464 513h1v1h-1zM466 513h1v1h-1zM486 513h1v1h-1zM498 513h1v1h-1zM372 514h1v1h-1zM382 514h1v1h-1zM384 514h1v1h-1zM385 514h1v1h-1zM386 514h1v1h-1zM395 514h1v1h-1zM396 514h1v1h-1zM402 514h1v1h-1zM406 514h1v1h-1zM411 514h1v1h-1zM414 514h1v1h-1zM418 514h1v1h-1zM421 514h1v1h-1zM426 514h1v1h-1zM427 514h1v1h-1zM428 514h1v1h-1zM429 514h1v1h-1zM430 514h1v1h-1zM431 514h1v1h-1zM432 514h1v1h-1zM433 514h1v1h-1zM434 514h1v1h-1zM436 514h1v1h-1zM437 514h1v1h-1zM438 514h1v1h-1zM439 514h1v1h-1zM440 514h1v1h-1zM441 514h1v1h-1zM442 514h1v1h-1zM443 514h1v1h-1zM444 514h1v1h-1zM445 514h1v1h-1zM446 514h1v1h-1zM447 514h1v1h-1zM448 514h1v1h-1zM449 514h1v1h-1zM450 514h1v1h-1zM451 514h1v1h-1zM452 514h1v1h-1zM453 514h1v1h-1zM454 514h1v1h-1zM456 514h1v1h-1zM457 514h1v1h-1zM461 514h1v1h-1zM485 514h1v1h-1zM369 515h1v1h-1zM370 515h1v1h-1zM375 515h1v1h-1zM386 515h1v1h-1zM405 515h1v1h-1zM412 515h1v1h-1zM415 515h1v1h-1zM416 515h1v1h-1zM423 515h1v1h-1zM424 515h1v1h-1zM425 515h1v1h-1zM426 515h1v1h-1zM427 515h1v1h-1zM428 515h1v1h-1zM429 515h1v1h-1zM430 515h1v1h-1zM431 515h1v1h-1zM432 515h1v1h-1zM434 515h1v1h-1zM435 515h1v1h-1zM436 515h1v1h-1zM438 515h1v1h-1zM439 515h1v1h-1zM440 515h1v1h-1zM442 515h1v1h-1zM443 515h1v1h-1zM444 515h1v1h-1zM445 515h1v1h-1zM446 515h1v1h-1zM447 515h1v1h-1zM448 515h1v1h-1zM449 515h1v1h-1zM450 515h1v1h-1zM451 515h1v1h-1zM452 515h1v1h-1zM453 515h1v1h-1zM454 515h1v1h-1zM455 515h1v1h-1zM459 515h1v1h-1zM460 515h1v1h-1zM461 515h1v1h-1zM462 515h1v1h-1zM465 515h1v1h-1zM371 516h1v1h-1zM379 516h1v1h-1zM380 516h1v1h-1zM389 516h1v1h-1zM392 516h1v1h-1zM395 516h1v1h-1zM396 516h1v1h-1zM401 516h1v1h-1zM408 516h1v1h-1zM409 516h1v1h-1zM411 516h1v1h-1zM412 516h1v1h-1zM416 516h1v1h-1zM420 516h1v1h-1zM421 516h1v1h-1zM422 516h1v1h-1zM423 516h1v1h-1zM424 516h1v1h-1zM425 516h1v1h-1zM426 516h1v1h-1zM427 516h1v1h-1zM428 516h1v1h-1zM429 516h1v1h-1zM430 516h1v1h-1zM431 516h1v1h-1zM432 516h1v1h-1zM433 516h1v1h-1zM434 516h1v1h-1zM435 516h1v1h-1zM436 516h1v1h-1zM438 516h1v1h-1zM439 516h1v1h-1zM440 516h1v1h-1zM442 516h1v1h-1zM443 516h1v1h-1zM444 516h1v1h-1zM445 516h1v1h-1zM446 516h1v1h-1zM447 516h1v1h-1zM448 516h1v1h-1zM449 516h1v1h-1zM450 516h1v1h-1zM451 516h1v1h-1zM452 516h1v1h-1zM453 516h1v1h-1zM454 516h1v1h-1zM455 516h1v1h-1zM456 516h1v1h-1zM457 516h1v1h-1zM458 516h1v1h-1zM460 516h1v1h-1zM464 516h1v1h-1zM469 516h1v1h-1zM472 516h1v1h-1zM367 517h1v1h-1zM376 517h1v1h-1zM378 517h1v1h-1zM381 517h1v1h-1zM383 517h1v1h-1zM392 517h1v1h-1zM394 517h1v1h-1zM396 517h1v1h-1zM398 517h1v1h-1zM399 517h1v1h-1zM402 517h1v1h-1zM406 517h1v1h-1zM408 517h1v1h-1zM410 517h1v1h-1zM411 517h1v1h-1zM413 517h1v1h-1zM414 517h1v1h-1zM415 517h1v1h-1zM416 517h1v1h-1zM420 517h1v1h-1zM422 517h1v1h-1zM423 517h1v1h-1zM425 517h1v1h-1zM426 517h1v1h-1zM427 517h1v1h-1zM428 517h1v1h-1zM429 517h1v1h-1zM430 517h1v1h-1zM431 517h1v1h-1zM433 517h1v1h-1zM434 517h1v1h-1zM436 517h1v1h-1zM437 517h1v1h-1zM438 517h1v1h-1zM439 517h1v1h-1zM440 517h1v1h-1zM442 517h1v1h-1zM443 517h1v1h-1zM444 517h1v1h-1zM445 517h1v1h-1zM446 517h1v1h-1zM447 517h1v1h-1zM448 517h1v1h-1zM449 517h1v1h-1zM450 517h1v1h-1zM451 517h1v1h-1zM453 517h1v1h-1zM454 517h1v1h-1zM455 517h1v1h-1zM459 517h1v1h-1zM460 517h1v1h-1zM461 517h1v1h-1zM462 517h1v1h-1zM463 517h1v1h-1zM465 517h1v1h-1zM472 517h1v1h-1zM481 517h1v1h-1zM368 518h1v1h-1zM389 518h1v1h-1zM391 518h1v1h-1zM397 518h1v1h-1zM399 518h1v1h-1zM401 518h1v1h-1zM403 518h1v1h-1zM404 518h1v1h-1zM406 518h1v1h-1zM412 518h1v1h-1zM413 518h1v1h-1zM414 518h1v1h-1zM415 518h1v1h-1zM417 518h1v1h-1zM418 518h1v1h-1zM420 518h1v1h-1zM422 518h1v1h-1zM424 518h1v1h-1zM425 518h1v1h-1zM426 518h1v1h-1zM427 518h1v1h-1zM428 518h1v1h-1zM429 518h1v1h-1zM430 518h1v1h-1zM431 518h1v1h-1zM432 518h1v1h-1zM433 518h1v1h-1zM434 518h1v1h-1zM435 518h1v1h-1zM436 518h1v1h-1zM437 518h1v1h-1zM438 518h1v1h-1zM439 518h1v1h-1zM440 518h1v1h-1zM441 518h1v1h-1zM442 518h1v1h-1zM443 518h1v1h-1zM444 518h1v1h-1zM445 518h1v1h-1zM446 518h1v1h-1zM447 518h1v1h-1zM448 518h1v1h-1zM449 518h1v1h-1zM450 518h1v1h-1zM451 518h1v1h-1zM452 518h1v1h-1zM454 518h1v1h-1zM455 518h1v1h-1zM456 518h1v1h-1zM457 518h1v1h-1zM458 518h1v1h-1zM460 518h1v1h-1zM462 518h1v1h-1zM463 518h1v1h-1zM464 518h1v1h-1zM467 518h1v1h-1zM477 518h1v1h-1zM370 519h1v1h-1zM375 519h1v1h-1zM380 519h1v1h-1zM390 519h1v1h-1zM395 519h1v1h-1zM411 519h1v1h-1zM416 519h1v1h-1zM417 519h1v1h-1zM418 519h1v1h-1zM419 519h1v1h-1zM421 519h1v1h-1zM422 519h1v1h-1zM423 519h1v1h-1zM424 519h1v1h-1zM426 519h1v1h-1zM427 519h1v1h-1zM428 519h1v1h-1zM431 519h1v1h-1zM432 519h1v1h-1zM433 519h1v1h-1zM434 519h1v1h-1zM435 519h1v1h-1zM436 519h1v1h-1zM437 519h1v1h-1zM438 519h1v1h-1zM439 519h1v1h-1zM440 519h1v1h-1zM441 519h1v1h-1zM443 519h1v1h-1zM444 519h1v1h-1zM445 519h1v1h-1zM446 519h1v1h-1zM447 519h1v1h-1zM448 519h1v1h-1zM449 519h1v1h-1zM450 519h1v1h-1zM451 519h1v1h-1zM452 519h1v1h-1zM454 519h1v1h-1zM455 519h1v1h-1zM457 519h1v1h-1zM458 519h1v1h-1zM459 519h1v1h-1zM461 519h1v1h-1zM462 519h1v1h-1zM477 519h1v1h-1zM368 520h1v1h-1zM384 520h1v1h-1zM386 520h1v1h-1zM389 520h1v1h-1zM390 520h1v1h-1zM409 520h1v1h-1zM410 520h1v1h-1zM414 520h1v1h-1zM415 520h1v1h-1zM418 520h1v1h-1zM419 520h1v1h-1zM421 520h1v1h-1zM422 520h1v1h-1zM423 520h1v1h-1zM424 520h1v1h-1zM425 520h1v1h-1zM427 520h1v1h-1zM428 520h1v1h-1zM429 520h1v1h-1zM430 520h1v1h-1zM432 520h1v1h-1zM433 520h1v1h-1zM434 520h1v1h-1zM435 520h1v1h-1zM436 520h1v1h-1zM438 520h1v1h-1zM439 520h1v1h-1zM440 520h1v1h-1zM441 520h1v1h-1zM443 520h1v1h-1zM444 520h1v1h-1zM445 520h1v1h-1zM446 520h1v1h-1zM447 520h1v1h-1zM448 520h1v1h-1zM449 520h1v1h-1zM452 520h1v1h-1zM453 520h1v1h-1zM461 520h1v1h-1zM465 520h1v1h-1zM473 520h1v1h-1zM489 520h1v1h-1zM373 521h1v1h-1zM381 521h1v1h-1zM385 521h1v1h-1zM390 521h1v1h-1zM394 521h1v1h-1zM395 521h1v1h-1zM396 521h1v1h-1zM398 521h1v1h-1zM401 521h1v1h-1zM406 521h1v1h-1zM410 521h1v1h-1zM412 521h1v1h-1zM413 521h1v1h-1zM415 521h1v1h-1zM416 521h1v1h-1zM417 521h1v1h-1zM418 521h1v1h-1zM419 521h1v1h-1zM421 521h1v1h-1zM424 521h1v1h-1zM425 521h1v1h-1zM426 521h1v1h-1zM427 521h1v1h-1zM428 521h1v1h-1zM429 521h1v1h-1zM430 521h1v1h-1zM431 521h1v1h-1zM432 521h1v1h-1zM433 521h1v1h-1zM435 521h1v1h-1zM436 521h1v1h-1zM438 521h1v1h-1zM439 521h1v1h-1zM440 521h1v1h-1zM441 521h1v1h-1zM442 521h1v1h-1zM443 521h1v1h-1zM444 521h1v1h-1zM445 521h1v1h-1zM446 521h1v1h-1zM447 521h1v1h-1zM448 521h1v1h-1zM450 521h1v1h-1zM451 521h1v1h-1zM452 521h1v1h-1zM455 521h1v1h-1zM456 521h1v1h-1zM458 521h1v1h-1zM461 521h1v1h-1zM465 521h1v1h-1zM466 521h1v1h-1zM467 521h1v1h-1zM470 521h1v1h-1zM367 522h1v1h-1zM376 522h1v1h-1zM378 522h1v1h-1zM381 522h1v1h-1zM393 522h1v1h-1zM394 522h1v1h-1zM396 522h1v1h-1zM397 522h1v1h-1zM400 522h1v1h-1zM402 522h1v1h-1zM405 522h1v1h-1zM412 522h1v1h-1zM415 522h1v1h-1zM418 522h1v1h-1zM419 522h1v1h-1zM420 522h1v1h-1zM422 522h1v1h-1zM423 522h1v1h-1zM424 522h1v1h-1zM425 522h1v1h-1zM426 522h1v1h-1zM428 522h1v1h-1zM429 522h1v1h-1zM430 522h1v1h-1zM431 522h1v1h-1zM432 522h1v1h-1zM433 522h1v1h-1zM434 522h1v1h-1zM435 522h1v1h-1zM436 522h1v1h-1zM437 522h1v1h-1zM438 522h1v1h-1zM439 522h1v1h-1zM440 522h1v1h-1zM441 522h1v1h-1zM442 522h1v1h-1zM443 522h1v1h-1zM444 522h1v1h-1zM445 522h1v1h-1zM446 522h1v1h-1zM447 522h1v1h-1zM448 522h1v1h-1zM449 522h1v1h-1zM450 522h1v1h-1zM452 522h1v1h-1zM453 522h1v1h-1zM454 522h1v1h-1zM455 522h1v1h-1zM456 522h1v1h-1zM458 522h1v1h-1zM468 522h1v1h-1zM471 522h1v1h-1zM474 522h1v1h-1zM378 523h1v1h-1zM382 523h1v1h-1zM389 523h1v1h-1zM397 523h1v1h-1zM399 523h1v1h-1zM405 523h1v1h-1zM407 523h1v1h-1zM411 523h1v1h-1zM412 523h1v1h-1zM413 523h1v1h-1zM416 523h1v1h-1zM417 523h1v1h-1zM418 523h1v1h-1zM419 523h1v1h-1zM420 523h1v1h-1zM422 523h1v1h-1zM423 523h1v1h-1zM425 523h1v1h-1zM427 523h1v1h-1zM428 523h1v1h-1zM429 523h1v1h-1zM430 523h1v1h-1zM431 523h1v1h-1zM432 523h1v1h-1zM433 523h1v1h-1zM434 523h1v1h-1zM435 523h1v1h-1zM436 523h1v1h-1zM437 523h1v1h-1zM438 523h1v1h-1zM439 523h1v1h-1zM441 523h1v1h-1zM442 523h1v1h-1zM443 523h1v1h-1zM444 523h1v1h-1zM445 523h1v1h-1zM446 523h1v1h-1zM447 523h1v1h-1zM449 523h1v1h-1zM450 523h1v1h-1zM452 523h1v1h-1zM454 523h1v1h-1zM455 523h1v1h-1zM459 523h1v1h-1zM461 523h1v1h-1zM463 523h1v1h-1zM467 523h1v1h-1zM470 523h1v1h-1zM478 523h1v1h-1zM480 523h1v1h-1zM481 523h1v1h-1zM487 523h1v1h-1zM496 523h1v1h-1zM368 524h1v1h-1zM371 524h1v1h-1zM375 524h1v1h-1zM377 524h1v1h-1zM381 524h1v1h-1zM384 524h1v1h-1zM391 524h1v1h-1zM395 524h1v1h-1zM396 524h1v1h-1zM397 524h1v1h-1zM399 524h1v1h-1zM413 524h1v1h-1zM416 524h1v1h-1zM419 524h1v1h-1zM423 524h1v1h-1zM424 524h1v1h-1zM426 524h1v1h-1zM427 524h1v1h-1zM428 524h1v1h-1zM429 524h1v1h-1zM430 524h1v1h-1zM431 524h1v1h-1zM432 524h1v1h-1zM433 524h1v1h-1zM434 524h1v1h-1zM435 524h1v1h-1zM436 524h1v1h-1zM437 524h1v1h-1zM438 524h1v1h-1zM439 524h1v1h-1zM440 524h1v1h-1zM441 524h1v1h-1zM442 524h1v1h-1zM443 524h1v1h-1zM444 524h1v1h-1zM445 524h1v1h-1zM446 524h1v1h-1zM447 524h1v1h-1zM448 524h1v1h-1zM449 524h1v1h-1zM450 524h1v1h-1zM451 524h1v1h-1zM454 524h1v1h-1zM457 524h1v1h-1zM458 524h1v1h-1zM460 524h1v1h-1zM462 524h1v1h-1zM465 524h1v1h-1zM468 524h1v1h-1zM469 524h1v1h-1zM471 524h1v1h-1zM474 524h1v1h-1zM477 524h1v1h-1zM379 525h1v1h-1zM380 525h1v1h-1zM391 525h1v1h-1zM409 525h1v1h-1zM412 525h1v1h-1zM413 525h1v1h-1zM414 525h1v1h-1zM416 525h1v1h-1zM417 525h1v1h-1zM421 525h1v1h-1zM422 525h1v1h-1zM424 525h1v1h-1zM425 525h1v1h-1zM426 525h1v1h-1zM427 525h1v1h-1zM429 525h1v1h-1zM430 525h1v1h-1zM432 525h1v1h-1zM433 525h1v1h-1zM435 525h1v1h-1zM436 525h1v1h-1zM437 525h1v1h-1zM438 525h1v1h-1zM440 525h1v1h-1zM441 525h1v1h-1zM442 525h1v1h-1zM443 525h1v1h-1zM444 525h1v1h-1zM445 525h1v1h-1zM446 525h1v1h-1zM447 525h1v1h-1zM448 525h1v1h-1zM450 525h1v1h-1zM453 525h1v1h-1zM454 525h1v1h-1zM457 525h1v1h-1zM459 525h1v1h-1zM464 525h1v1h-1zM465 525h1v1h-1zM468 525h1v1h-1zM475 525h1v1h-1zM477 525h1v1h-1zM482 525h1v1h-1zM483 525h1v1h-1zM494 525h1v1h-1zM377 526h1v1h-1zM378 526h1v1h-1zM384 526h1v1h-1zM402 526h1v1h-1zM403 526h1v1h-1zM409 526h1v1h-1zM414 526h1v1h-1zM415 526h1v1h-1zM416 526h1v1h-1zM417 526h1v1h-1zM418 526h1v1h-1zM419 526h1v1h-1zM420 526h1v1h-1zM422 526h1v1h-1zM423 526h1v1h-1zM426 526h1v1h-1zM428 526h1v1h-1zM429 526h1v1h-1zM430 526h1v1h-1zM432 526h1v1h-1zM434 526h1v1h-1zM436 526h1v1h-1zM438 526h1v1h-1zM439 526h1v1h-1zM440 526h1v1h-1zM441 526h1v1h-1zM442 526h1v1h-1zM443 526h1v1h-1zM444 526h1v1h-1zM445 526h1v1h-1zM447 526h1v1h-1zM448 526h1v1h-1zM453 526h1v1h-1zM454 526h1v1h-1zM456 526h1v1h-1zM459 526h1v1h-1zM460 526h1v1h-1zM462 526h1v1h-1zM466 526h1v1h-1zM375 527h1v1h-1zM378 527h1v1h-1zM393 527h1v1h-1zM397 527h1v1h-1zM400 527h1v1h-1zM406 527h1v1h-1zM411 527h1v1h-1zM414 527h1v1h-1zM417 527h1v1h-1zM419 527h1v1h-1zM420 527h1v1h-1zM428 527h1v1h-1zM429 527h1v1h-1zM431 527h1v1h-1zM432 527h1v1h-1zM433 527h1v1h-1zM434 527h1v1h-1zM435 527h1v1h-1zM436 527h1v1h-1zM437 527h1v1h-1zM438 527h1v1h-1zM439 527h1v1h-1zM440 527h1v1h-1zM441 527h1v1h-1zM442 527h1v1h-1zM443 527h1v1h-1zM444 527h1v1h-1zM445 527h1v1h-1zM446 527h1v1h-1zM448 527h1v1h-1zM449 527h1v1h-1zM451 527h1v1h-1zM452 527h1v1h-1zM454 527h1v1h-1zM456 527h1v1h-1zM464 527h1v1h-1zM471 527h1v1h-1zM472 527h1v1h-1zM477 527h1v1h-1zM367 528h1v1h-1zM370 528h1v1h-1zM371 528h1v1h-1zM384 528h1v1h-1zM386 528h1v1h-1zM412 528h1v1h-1zM413 528h1v1h-1zM414 528h1v1h-1zM417 528h1v1h-1zM418 528h1v1h-1zM420 528h1v1h-1zM421 528h1v1h-1zM423 528h1v1h-1zM426 528h1v1h-1zM427 528h1v1h-1zM429 528h1v1h-1zM430 528h1v1h-1zM434 528h1v1h-1zM436 528h1v1h-1zM437 528h1v1h-1zM438 528h1v1h-1zM439 528h1v1h-1zM440 528h1v1h-1zM441 528h1v1h-1zM442 528h1v1h-1zM445 528h1v1h-1zM451 528h1v1h-1zM452 528h1v1h-1zM453 528h1v1h-1zM454 528h1v1h-1zM465 528h1v1h-1zM466 528h1v1h-1zM467 528h1v1h-1zM476 528h1v1h-1zM371 529h1v1h-1zM381 529h1v1h-1zM386 529h1v1h-1zM396 529h1v1h-1zM402 529h1v1h-1zM419 529h1v1h-1zM420 529h1v1h-1zM421 529h1v1h-1zM425 529h1v1h-1zM428 529h1v1h-1zM430 529h1v1h-1zM431 529h1v1h-1zM432 529h1v1h-1zM433 529h1v1h-1zM434 529h1v1h-1zM435 529h1v1h-1zM436 529h1v1h-1zM439 529h1v1h-1zM441 529h1v1h-1zM442 529h1v1h-1zM443 529h1v1h-1zM444 529h1v1h-1zM445 529h1v1h-1zM447 529h1v1h-1zM448 529h1v1h-1zM449 529h1v1h-1zM451 529h1v1h-1zM380 530h1v1h-1zM385 530h1v1h-1zM387 530h1v1h-1zM408 530h1v1h-1zM411 530h1v1h-1zM414 530h1v1h-1zM416 530h1v1h-1zM417 530h1v1h-1zM418 530h1v1h-1zM426 530h1v1h-1zM427 530h1v1h-1zM428 530h1v1h-1zM429 530h1v1h-1zM430 530h1v1h-1zM431 530h1v1h-1zM433 530h1v1h-1zM435 530h1v1h-1zM440 530h1v1h-1zM442 530h1v1h-1zM444 530h1v1h-1zM445 530h1v1h-1zM451 530h1v1h-1zM459 530h1v1h-1zM460 530h1v1h-1zM462 530h1v1h-1zM484 530h1v1h-1zM486 530h1v1h-1zM373 531h1v1h-1zM376 531h1v1h-1zM377 531h1v1h-1zM395 531h1v1h-1zM398 531h1v1h-1zM402 531h1v1h-1zM403 531h1v1h-1zM408 531h1v1h-1zM411 531h1v1h-1zM412 531h1v1h-1zM415 531h1v1h-1zM417 531h1v1h-1zM418 531h1v1h-1zM419 531h1v1h-1zM421 531h1v1h-1zM422 531h1v1h-1zM424 531h1v1h-1zM427 531h1v1h-1zM430 531h1v1h-1zM436 531h1v1h-1zM437 531h1v1h-1zM442 531h1v1h-1zM444 531h1v1h-1zM451 531h1v1h-1zM458 531h1v1h-1zM459 531h1v1h-1zM465 531h1v1h-1zM473 531h1v1h-1zM484 531h1v1h-1zM486 531h1v1h-1zM374 532h1v1h-1zM378 532h1v1h-1zM385 532h1v1h-1zM387 532h1v1h-1zM397 532h1v1h-1zM401 532h1v1h-1zM404 532h1v1h-1zM405 532h1v1h-1zM406 532h1v1h-1zM409 532h1v1h-1zM416 532h1v1h-1zM419 532h1v1h-1zM422 532h1v1h-1zM423 532h1v1h-1zM425 532h1v1h-1zM426 532h1v1h-1zM430 532h1v1h-1zM431 532h1v1h-1zM434 532h1v1h-1zM435 532h1v1h-1zM440 532h1v1h-1zM443 532h1v1h-1zM444 532h1v1h-1zM449 532h1v1h-1zM452 532h1v1h-1zM455 532h1v1h-1zM461 532h1v1h-1zM464 532h1v1h-1zM466 532h1v1h-1zM467 532h1v1h-1zM470 532h1v1h-1zM472 532h1v1h-1zM473 532h1v1h-1zM477 532h1v1h-1zM369 533h1v1h-1zM374 533h1v1h-1zM375 533h1v1h-1zM387 533h1v1h-1zM390 533h1v1h-1zM391 533h1v1h-1zM396 533h1v1h-1zM407 533h1v1h-1zM408 533h1v1h-1zM414 533h1v1h-1zM416 533h1v1h-1zM420 533h1v1h-1zM421 533h1v1h-1zM424 533h1v1h-1zM432 533h1v1h-1zM433 533h1v1h-1zM434 533h1v1h-1zM435 533h1v1h-1zM437 533h1v1h-1zM439 533h1v1h-1zM440 533h1v1h-1zM441 533h1v1h-1zM443 533h1v1h-1zM444 533h1v1h-1zM448 533h1v1h-1zM449 533h1v1h-1zM451 533h1v1h-1zM469 533h1v1h-1zM376 534h1v1h-1zM378 534h1v1h-1zM382 534h1v1h-1zM388 534h1v1h-1zM396 534h1v1h-1zM401 534h1v1h-1zM408 534h1v1h-1zM410 534h1v1h-1zM413 534h1v1h-1zM414 534h1v1h-1zM418 534h1v1h-1zM421 534h1v1h-1zM422 534h1v1h-1zM424 534h1v1h-1zM428 534h1v1h-1zM431 534h1v1h-1zM440 534h1v1h-1zM448 534h1v1h-1zM463 534h1v1h-1zM471 534h1v1h-1zM377 535h1v1h-1zM382 535h1v1h-1zM385 535h1v1h-1zM394 535h1v1h-1zM395 535h1v1h-1zM396 535h1v1h-1zM399 535h1v1h-1zM402 535h1v1h-1zM407 535h1v1h-1zM408 535h1v1h-1zM411 535h1v1h-1zM412 535h1v1h-1zM415 535h1v1h-1zM416 535h1v1h-1zM417 535h1v1h-1zM419 535h1v1h-1zM424 535h1v1h-1zM425 535h1v1h-1zM428 535h1v1h-1zM437 535h1v1h-1zM441 535h1v1h-1zM447 535h1v1h-1zM451 535h1v1h-1zM458 535h1v1h-1zM462 535h1v1h-1zM482 535h1v1h-1zM373 536h1v1h-1zM377 536h1v1h-1zM379 536h1v1h-1zM386 536h1v1h-1zM389 536h1v1h-1zM391 536h1v1h-1zM398 536h1v1h-1zM401 536h1v1h-1zM405 536h1v1h-1zM407 536h1v1h-1zM408 536h1v1h-1zM412 536h1v1h-1zM413 536h1v1h-1zM415 536h1v1h-1zM416 536h1v1h-1zM419 536h1v1h-1zM423 536h1v1h-1zM424 536h1v1h-1zM430 536h1v1h-1zM434 536h1v1h-1zM435 536h1v1h-1zM436 536h1v1h-1zM442 536h1v1h-1zM446 536h1v1h-1zM447 536h1v1h-1zM465 536h1v1h-1zM369 537h1v1h-1zM373 537h1v1h-1zM375 537h1v1h-1zM376 537h1v1h-1zM379 537h1v1h-1zM380 537h1v1h-1zM382 537h1v1h-1zM383 537h1v1h-1zM385 537h1v1h-1zM392 537h1v1h-1zM393 537h1v1h-1zM401 537h1v1h-1zM402 537h1v1h-1zM404 537h1v1h-1zM409 537h1v1h-1zM410 537h1v1h-1zM411 537h1v1h-1zM412 537h1v1h-1zM413 537h1v1h-1zM414 537h1v1h-1zM415 537h1v1h-1zM417 537h1v1h-1zM419 537h1v1h-1zM420 537h1v1h-1zM423 537h1v1h-1zM424 537h1v1h-1zM425 537h1v1h-1zM427 537h1v1h-1zM433 537h1v1h-1zM434 537h1v1h-1zM435 537h1v1h-1zM441 537h1v1h-1zM444 537h1v1h-1zM449 537h1v1h-1zM453 537h1v1h-1zM455 537h1v1h-1zM456 537h1v1h-1zM460 537h1v1h-1zM492 537h1v1h-1zM373 538h1v1h-1zM375 538h1v1h-1zM399 538h1v1h-1zM408 538h1v1h-1zM409 538h1v1h-1zM411 538h1v1h-1zM413 538h1v1h-1zM415 538h1v1h-1zM419 538h1v1h-1zM420 538h1v1h-1zM425 538h1v1h-1zM428 538h1v1h-1zM431 538h1v1h-1zM434 538h1v1h-1zM449 538h1v1h-1zM367 539h1v1h-1zM368 539h1v1h-1zM369 539h1v1h-1zM373 539h1v1h-1zM375 539h1v1h-1zM377 539h1v1h-1zM379 539h1v1h-1zM381 539h1v1h-1zM384 539h1v1h-1zM388 539h1v1h-1zM395 539h1v1h-1zM401 539h1v1h-1zM402 539h1v1h-1zM406 539h1v1h-1zM407 539h1v1h-1zM409 539h1v1h-1zM411 539h1v1h-1zM412 539h1v1h-1zM414 539h1v1h-1zM416 539h1v1h-1zM417 539h1v1h-1zM418 539h1v1h-1zM426 539h1v1h-1zM427 539h1v1h-1zM429 539h1v1h-1zM441 539h1v1h-1zM457 539h1v1h-1zM465 539h1v1h-1zM369 540h1v1h-1zM370 540h1v1h-1zM372 540h1v1h-1zM373 540h1v1h-1zM374 540h1v1h-1zM376 540h1v1h-1zM380 540h1v1h-1zM397 540h1v1h-1zM402 540h1v1h-1zM403 540h1v1h-1zM404 540h1v1h-1zM406 540h1v1h-1zM408 540h1v1h-1zM409 540h1v1h-1zM410 540h1v1h-1zM413 540h1v1h-1zM414 540h1v1h-1zM415 540h1v1h-1zM416 540h1v1h-1zM418 540h1v1h-1zM419 540h1v1h-1zM421 540h1v1h-1zM424 540h1v1h-1zM426 540h1v1h-1zM453 540h1v1h-1zM455 540h1v1h-1zM460 540h1v1h-1zM465 540h1v1h-1zM467 540h1v1h-1zM473 540h1v1h-1zM482 540h1v1h-1zM370 541h1v1h-1zM373 541h1v1h-1zM377 541h1v1h-1zM378 541h1v1h-1zM379 541h1v1h-1zM380 541h1v1h-1zM386 541h1v1h-1zM388 541h1v1h-1zM390 541h1v1h-1zM394 541h1v1h-1zM401 541h1v1h-1zM403 541h1v1h-1zM405 541h1v1h-1zM406 541h1v1h-1zM407 541h1v1h-1zM408 541h1v1h-1zM411 541h1v1h-1zM413 541h1v1h-1zM416 541h1v1h-1zM417 541h1v1h-1zM418 541h1v1h-1zM420 541h1v1h-1zM421 541h1v1h-1zM423 541h1v1h-1zM429 541h1v1h-1zM430 541h1v1h-1zM431 541h1v1h-1zM439 541h1v1h-1zM457 541h1v1h-1zM458 541h1v1h-1zM473 541h1v1h-1zM367 542h1v1h-1zM370 542h1v1h-1zM373 542h1v1h-1zM374 542h1v1h-1zM376 542h1v1h-1zM377 542h1v1h-1zM378 542h1v1h-1zM380 542h1v1h-1zM381 542h1v1h-1zM386 542h1v1h-1zM387 542h1v1h-1zM402 542h1v1h-1zM406 542h1v1h-1zM407 542h1v1h-1zM408 542h1v1h-1zM417 542h1v1h-1zM418 542h1v1h-1zM419 542h1v1h-1zM422 542h1v1h-1zM424 542h1v1h-1zM430 542h1v1h-1zM474 542h1v1h-1zM369 543h1v1h-1zM371 543h1v1h-1zM372 543h1v1h-1zM380 543h1v1h-1zM385 543h1v1h-1zM388 543h1v1h-1zM390 543h1v1h-1zM396 543h1v1h-1zM399 543h1v1h-1zM402 543h1v1h-1zM405 543h1v1h-1zM406 543h1v1h-1zM407 543h1v1h-1zM413 543h1v1h-1zM415 543h1v1h-1zM418 543h1v1h-1zM419 543h1v1h-1zM422 543h1v1h-1zM432 543h1v1h-1zM461 543h1v1h-1zM473 543h1v1h-1zM474 543h1v1h-1zM369 544h1v1h-1zM370 544h1v1h-1zM372 544h1v1h-1zM375 544h1v1h-1zM378 544h1v1h-1zM379 544h1v1h-1zM382 544h1v1h-1zM386 544h1v1h-1zM389 544h1v1h-1zM391 544h1v1h-1zM395 544h1v1h-1zM398 544h1v1h-1zM402 544h1v1h-1zM403 544h1v1h-1zM406 544h1v1h-1zM407 544h1v1h-1zM410 544h1v1h-1zM413 544h1v1h-1zM417 544h1v1h-1zM418 544h1v1h-1zM424 544h1v1h-1zM425 544h1v1h-1zM429 544h1v1h-1zM431 544h1v1h-1zM435 544h1v1h-1zM448 544h1v1h-1zM468 544h1v1h-1zM369 545h1v1h-1zM370 545h1v1h-1zM377 545h1v1h-1zM380 545h1v1h-1zM382 545h1v1h-1zM389 545h1v1h-1zM396 545h1v1h-1zM398 545h1v1h-1zM400 545h1v1h-1zM405 545h1v1h-1zM406 545h1v1h-1zM407 545h1v1h-1zM411 545h1v1h-1zM418 545h1v1h-1zM421 545h1v1h-1zM425 545h1v1h-1zM427 545h1v1h-1zM434 545h1v1h-1zM461 545h1v1h-1zM370 546h1v1h-1zM373 546h1v1h-1zM374 546h1v1h-1zM375 546h1v1h-1zM378 546h1v1h-1zM384 546h1v1h-1zM386 546h1v1h-1zM393 546h1v1h-1zM394 546h1v1h-1zM395 546h1v1h-1zM396 546h1v1h-1zM397 546h1v1h-1zM399 546h1v1h-1zM401 546h1v1h-1zM404 546h1v1h-1zM408 546h1v1h-1zM409 546h1v1h-1zM411 546h1v1h-1zM415 546h1v1h-1zM416 546h1v1h-1zM422 546h1v1h-1zM424 546h1v1h-1zM425 546h1v1h-1zM434 546h1v1h-1zM435 546h1v1h-1zM436 546h1v1h-1zM452 546h1v1h-1zM456 546h1v1h-1zM368 547h1v1h-1zM369 547h1v1h-1zM373 547h1v1h-1zM375 547h1v1h-1zM377 547h1v1h-1zM379 547h1v1h-1zM380 547h1v1h-1zM383 547h1v1h-1zM384 547h1v1h-1zM387 547h1v1h-1zM399 547h1v1h-1zM400 547h1v1h-1zM401 547h1v1h-1zM405 547h1v1h-1zM407 547h1v1h-1zM410 547h1v1h-1zM411 547h1v1h-1zM413 547h1v1h-1zM416 547h1v1h-1zM421 547h1v1h-1zM422 547h1v1h-1zM423 547h1v1h-1zM424 547h1v1h-1zM426 547h1v1h-1zM437 547h1v1h-1zM368 548h1v1h-1zM370 548h1v1h-1zM371 548h1v1h-1zM372 548h1v1h-1zM373 548h1v1h-1zM378 548h1v1h-1zM388 548h1v1h-1zM391 548h1v1h-1zM392 548h1v1h-1zM400 548h1v1h-1zM405 548h1v1h-1zM407 548h1v1h-1zM409 548h1v1h-1zM412 548h1v1h-1zM419 548h1v1h-1zM422 548h1v1h-1zM423 548h1v1h-1zM426 548h1v1h-1zM431 548h1v1h-1zM444 548h1v1h-1zM458 548h1v1h-1zM463 548h1v1h-1zM464 548h1v1h-1zM472 548h1v1h-1zM478 548h1v1h-1zM367 549h1v1h-1zM370 549h1v1h-1zM371 549h1v1h-1zM375 549h1v1h-1zM376 549h1v1h-1zM381 549h1v1h-1zM386 549h1v1h-1zM403 549h1v1h-1zM409 549h1v1h-1zM413 549h1v1h-1zM416 549h1v1h-1zM418 549h1v1h-1zM420 549h1v1h-1zM423 549h1v1h-1zM427 549h1v1h-1zM442 549h1v1h-1zM444 549h1v1h-1zM470 549h1v1h-1zM368 550h1v1h-1zM372 550h1v1h-1zM378 550h1v1h-1zM381 550h1v1h-1zM382 550h1v1h-1zM388 550h1v1h-1zM397 550h1v1h-1zM414 550h1v1h-1zM419 550h1v1h-1zM429 550h1v1h-1zM453 550h1v1h-1zM455 550h1v1h-1zM458 550h1v1h-1zM460 550h1v1h-1zM469 550h1v1h-1zM471 550h1v1h-1zM473 550h1v1h-1zM367 551h1v1h-1zM370 551h1v1h-1zM371 551h1v1h-1zM372 551h1v1h-1zM374 551h1v1h-1zM375 551h1v1h-1zM377 551h1v1h-1zM391 551h1v1h-1zM395 551h1v1h-1zM398 551h1v1h-1zM405 551h1v1h-1zM408 551h1v1h-1zM413 551h1v1h-1zM415 551h1v1h-1zM416 551h1v1h-1zM423 551h1v1h-1zM430 551h1v1h-1zM438 551h1v1h-1zM444 551h1v1h-1zM445 551h1v1h-1zM446 551h1v1h-1zM464 551h1v1h-1zM467 551h1v1h-1zM470 551h1v1h-1zM475 551h1v1h-1zM485 551h1v1h-1zM493 551h1v1h-1zM367 552h1v1h-1zM371 552h1v1h-1zM372 552h1v1h-1zM374 552h1v1h-1zM375 552h1v1h-1zM382 552h1v1h-1zM387 552h1v1h-1zM389 552h1v1h-1zM390 552h1v1h-1zM396 552h1v1h-1zM397 552h1v1h-1zM401 552h1v1h-1zM406 552h1v1h-1zM412 552h1v1h-1zM422 552h1v1h-1zM423 552h1v1h-1zM424 552h1v1h-1zM427 552h1v1h-1zM436 552h1v1h-1zM454 552h1v1h-1zM458 552h1v1h-1zM469 552h1v1h-1zM476 552h1v1h-1zM499 552h1v1h-1zM368 553h1v1h-1zM369 553h1v1h-1zM375 553h1v1h-1zM383 553h1v1h-1zM390 553h1v1h-1zM392 553h1v1h-1zM395 553h1v1h-1zM402 553h1v1h-1zM410 553h1v1h-1zM418 553h1v1h-1zM419 553h1v1h-1zM421 553h1v1h-1zM423 553h1v1h-1zM436 553h1v1h-1zM458 553h1v1h-1zM461 553h1v1h-1zM462 553h1v1h-1zM464 553h1v1h-1zM492 553h1v1h-1zM373 554h1v1h-1zM391 554h1v1h-1zM393 554h1v1h-1zM395 554h1v1h-1zM396 554h1v1h-1zM410 554h1v1h-1zM411 554h1v1h-1zM412 554h1v1h-1zM416 554h1v1h-1zM418 554h1v1h-1zM421 554h1v1h-1zM423 554h1v1h-1zM438 554h1v1h-1zM445 554h1v1h-1zM446 554h1v1h-1zM447 554h1v1h-1zM458 554h1v1h-1zM461 554h1v1h-1zM465 554h1v1h-1zM471 554h1v1h-1zM480 554h1v1h-1zM367 555h1v1h-1zM371 555h1v1h-1zM372 555h1v1h-1zM379 555h1v1h-1zM382 555h1v1h-1zM392 555h1v1h-1zM405 555h1v1h-1zM419 555h1v1h-1zM463 555h1v1h-1zM465 555h1v1h-1zM470 555h1v1h-1zM476 555h1v1h-1zM371 556h1v1h-1zM390 556h1v1h-1zM392 556h1v1h-1zM396 556h1v1h-1zM398 556h1v1h-1zM399 556h1v1h-1zM400 556h1v1h-1zM402 556h1v1h-1zM406 556h1v1h-1zM411 556h1v1h-1zM412 556h1v1h-1zM417 556h1v1h-1zM419 556h1v1h-1zM429 556h1v1h-1zM450 556h1v1h-1zM452 556h1v1h-1zM458 556h1v1h-1zM461 556h1v1h-1zM462 556h1v1h-1zM464 556h1v1h-1zM466 556h1v1h-1zM479 556h1v1h-1zM369 557h1v1h-1zM373 557h1v1h-1zM393 557h1v1h-1zM399 557h1v1h-1zM401 557h1v1h-1zM406 557h1v1h-1zM410 557h1v1h-1zM413 557h1v1h-1zM420 557h1v1h-1zM424 557h1v1h-1zM438 557h1v1h-1zM440 557h1v1h-1zM443 557h1v1h-1zM446 557h1v1h-1zM450 557h1v1h-1zM452 557h1v1h-1zM456 557h1v1h-1zM463 557h1v1h-1zM470 557h1v1h-1zM480 557h1v1h-1zM386 558h1v1h-1zM399 558h1v1h-1zM400 558h1v1h-1zM403 558h1v1h-1zM408 558h1v1h-1zM411 558h1v1h-1zM412 558h1v1h-1zM419 558h1v1h-1zM423 558h1v1h-1zM433 558h1v1h-1zM438 558h1v1h-1zM439 558h1v1h-1zM441 558h1v1h-1zM443 558h1v1h-1zM445 558h1v1h-1zM447 558h1v1h-1zM449 558h1v1h-1zM451 558h1v1h-1zM453 558h1v1h-1zM454 558h1v1h-1zM455 558h1v1h-1zM458 558h1v1h-1zM461 558h1v1h-1zM462 558h1v1h-1zM463 558h1v1h-1zM464 558h1v1h-1zM467 558h1v1h-1zM468 558h1v1h-1zM470 558h1v1h-1zM471 558h1v1h-1zM475 558h1v1h-1zM477 558h1v1h-1zM367 559h1v1h-1zM374 559h1v1h-1zM386 559h1v1h-1zM393 559h1v1h-1zM406 559h1v1h-1zM419 559h1v1h-1zM431 559h1v1h-1zM436 559h1v1h-1zM440 559h1v1h-1zM443 559h1v1h-1zM444 559h1v1h-1zM453 559h1v1h-1zM456 559h1v1h-1zM458 559h1v1h-1zM462 559h1v1h-1zM464 559h1v1h-1zM466 559h1v1h-1zM468 559h1v1h-1zM469 559h1v1h-1zM471 559h1v1h-1zM473 559h1v1h-1zM475 559h1v1h-1zM479 559h1v1h-1zM379 560h1v1h-1zM380 560h1v1h-1zM392 560h1v1h-1zM395 560h1v1h-1zM413 560h1v1h-1zM434 560h1v1h-1zM437 560h1v1h-1zM451 560h1v1h-1zM454 560h1v1h-1zM456 560h1v1h-1zM458 560h1v1h-1zM459 560h1v1h-1zM460 560h1v1h-1zM461 560h1v1h-1zM463 560h1v1h-1zM465 560h1v1h-1zM466 560h1v1h-1zM479 560h1v1h-1zM485 560h1v1h-1zM400 561h1v1h-1zM403 561h1v1h-1zM406 561h1v1h-1zM409 561h1v1h-1zM411 561h1v1h-1zM422 561h1v1h-1zM432 561h1v1h-1zM433 561h1v1h-1zM436 561h1v1h-1zM437 561h1v1h-1zM443 561h1v1h-1zM445 561h1v1h-1zM447 561h1v1h-1zM451 561h1v1h-1zM454 561h1v1h-1zM456 561h1v1h-1zM458 561h1v1h-1zM459 561h1v1h-1zM461 561h1v1h-1zM464 561h1v1h-1zM466 561h1v1h-1zM468 561h1v1h-1zM469 561h1v1h-1zM472 561h1v1h-1zM378 562h1v1h-1zM382 562h1v1h-1zM385 562h1v1h-1zM388 562h1v1h-1zM391 562h1v1h-1zM394 562h1v1h-1zM402 562h1v1h-1zM404 562h1v1h-1zM406 562h1v1h-1zM412 562h1v1h-1zM414 562h1v1h-1zM417 562h1v1h-1zM424 562h1v1h-1zM427 562h1v1h-1zM431 562h1v1h-1zM432 562h1v1h-1zM433 562h1v1h-1zM434 562h1v1h-1zM435 562h1v1h-1zM436 562h1v1h-1zM437 562h1v1h-1zM440 562h1v1h-1zM444 562h1v1h-1zM448 562h1v1h-1zM451 562h1v1h-1zM455 562h1v1h-1zM457 562h1v1h-1zM459 562h1v1h-1zM460 562h1v1h-1zM461 562h1v1h-1zM462 562h1v1h-1zM463 562h1v1h-1zM465 562h1v1h-1zM466 562h1v1h-1zM467 562h1v1h-1zM468 562h1v1h-1zM471 562h1v1h-1zM493 562h1v1h-1zM495 562h1v1h-1zM371 563h1v1h-1zM380 563h1v1h-1zM389 563h1v1h-1zM392 563h1v1h-1zM405 563h1v1h-1zM411 563h1v1h-1zM412 563h1v1h-1zM413 563h1v1h-1zM416 563h1v1h-1zM421 563h1v1h-1zM423 563h1v1h-1zM439 563h1v1h-1zM443 563h1v1h-1zM450 563h1v1h-1zM453 563h1v1h-1zM455 563h1v1h-1zM456 563h1v1h-1zM457 563h1v1h-1zM459 563h1v1h-1zM460 563h1v1h-1zM461 563h1v1h-1zM462 563h1v1h-1zM466 563h1v1h-1zM467 563h1v1h-1zM468 563h1v1h-1zM469 563h1v1h-1zM470 563h1v1h-1zM471 563h1v1h-1zM473 563h1v1h-1zM475 563h1v1h-1zM477 563h1v1h-1zM478 563h1v1h-1zM479 563h1v1h-1zM480 563h1v1h-1zM493 563h1v1h-1zM503 563h1v1h-1zM370 564h1v1h-1zM372 564h1v1h-1zM376 564h1v1h-1zM385 564h1v1h-1zM393 564h1v1h-1zM395 564h1v1h-1zM398 564h1v1h-1zM407 564h1v1h-1zM419 564h1v1h-1zM434 564h1v1h-1zM438 564h1v1h-1zM440 564h1v1h-1zM444 564h1v1h-1zM448 564h1v1h-1zM449 564h1v1h-1zM454 564h1v1h-1zM455 564h1v1h-1zM456 564h1v1h-1zM457 564h1v1h-1zM459 564h1v1h-1zM460 564h1v1h-1zM461 564h1v1h-1zM463 564h1v1h-1zM464 564h1v1h-1zM465 564h1v1h-1zM466 564h1v1h-1zM467 564h1v1h-1zM468 564h1v1h-1zM469 564h1v1h-1zM472 564h1v1h-1zM478 564h1v1h-1zM479 564h1v1h-1zM487 564h1v1h-1zM372 565h1v1h-1zM377 565h1v1h-1zM384 565h1v1h-1zM385 565h1v1h-1zM393 565h1v1h-1zM394 565h1v1h-1zM399 565h1v1h-1zM405 565h1v1h-1zM412 565h1v1h-1zM418 565h1v1h-1zM422 565h1v1h-1zM430 565h1v1h-1zM436 565h1v1h-1zM438 565h1v1h-1zM444 565h1v1h-1zM446 565h1v1h-1zM447 565h1v1h-1zM450 565h1v1h-1zM452 565h1v1h-1zM453 565h1v1h-1zM454 565h1v1h-1zM455 565h1v1h-1zM456 565h1v1h-1zM457 565h1v1h-1zM459 565h1v1h-1zM460 565h1v1h-1zM462 565h1v1h-1zM464 565h1v1h-1zM467 565h1v1h-1zM468 565h1v1h-1zM471 565h1v1h-1zM473 565h1v1h-1zM474 565h1v1h-1zM477 565h1v1h-1zM488 565h1v1h-1zM371 566h1v1h-1zM382 566h1v1h-1zM395 566h1v1h-1zM407 566h1v1h-1zM418 566h1v1h-1zM419 566h1v1h-1zM424 566h1v1h-1zM425 566h1v1h-1zM432 566h1v1h-1zM433 566h1v1h-1zM437 566h1v1h-1zM444 566h1v1h-1zM449 566h1v1h-1zM450 566h1v1h-1zM452 566h1v1h-1zM454 566h1v1h-1zM455 566h1v1h-1zM456 566h1v1h-1zM457 566h1v1h-1zM461 566h1v1h-1zM463 566h1v1h-1zM464 566h1v1h-1zM465 566h1v1h-1zM466 566h1v1h-1zM469 566h1v1h-1zM470 566h1v1h-1zM471 566h1v1h-1zM472 566h1v1h-1zM473 566h1v1h-1zM475 566h1v1h-1zM482 566h1v1h-1zM486 566h1v1h-1zM371 567h1v1h-1zM375 567h1v1h-1zM376 567h1v1h-1zM382 567h1v1h-1zM387 567h1v1h-1zM417 567h1v1h-1zM418 567h1v1h-1zM419 567h1v1h-1zM427 567h1v1h-1zM438 567h1v1h-1zM447 567h1v1h-1zM448 567h1v1h-1zM449 567h1v1h-1zM451 567h1v1h-1zM455 567h1v1h-1zM456 567h1v1h-1zM457 567h1v1h-1zM460 567h1v1h-1zM461 567h1v1h-1zM462 567h1v1h-1zM463 567h1v1h-1zM466 567h1v1h-1zM468 567h1v1h-1zM470 567h1v1h-1zM472 567h1v1h-1zM475 567h1v1h-1zM477 567h1v1h-1zM483 567h1v1h-1zM493 567h1v1h-1zM367 568h1v1h-1zM372 568h1v1h-1zM396 568h1v1h-1zM397 568h1v1h-1zM414 568h1v1h-1zM424 568h1v1h-1zM427 568h1v1h-1zM434 568h1v1h-1zM436 568h1v1h-1zM441 568h1v1h-1zM447 568h1v1h-1zM448 568h1v1h-1zM450 568h1v1h-1zM453 568h1v1h-1zM457 568h1v1h-1zM458 568h1v1h-1zM459 568h1v1h-1zM461 568h1v1h-1zM462 568h1v1h-1zM464 568h1v1h-1zM466 568h1v1h-1zM467 568h1v1h-1zM468 568h1v1h-1zM469 568h1v1h-1zM471 568h1v1h-1zM472 568h1v1h-1zM473 568h1v1h-1zM474 568h1v1h-1zM475 568h1v1h-1zM481 568h1v1h-1zM488 568h1v1h-1zM491 568h1v1h-1zM372 569h1v1h-1zM390 569h1v1h-1zM391 569h1v1h-1zM429 569h1v1h-1zM431 569h1v1h-1zM432 569h1v1h-1zM441 569h1v1h-1zM442 569h1v1h-1zM444 569h1v1h-1zM447 569h1v1h-1zM449 569h1v1h-1zM450 569h1v1h-1zM451 569h1v1h-1zM452 569h1v1h-1zM453 569h1v1h-1zM456 569h1v1h-1zM457 569h1v1h-1zM458 569h1v1h-1zM459 569h1v1h-1zM460 569h1v1h-1zM461 569h1v1h-1zM463 569h1v1h-1zM465 569h1v1h-1zM466 569h1v1h-1zM467 569h1v1h-1zM473 569h1v1h-1zM488 569h1v1h-1zM367 570h1v1h-1zM391 570h1v1h-1zM392 570h1v1h-1zM393 570h1v1h-1zM394 570h1v1h-1zM405 570h1v1h-1zM408 570h1v1h-1zM427 570h1v1h-1zM430 570h1v1h-1zM433 570h1v1h-1zM434 570h1v1h-1zM444 570h1v1h-1zM446 570h1v1h-1zM447 570h1v1h-1zM451 570h1v1h-1zM455 570h1v1h-1zM456 570h1v1h-1zM458 570h1v1h-1zM459 570h1v1h-1zM460 570h1v1h-1zM461 570h1v1h-1zM462 570h1v1h-1zM463 570h1v1h-1zM464 570h1v1h-1zM465 570h1v1h-1zM467 570h1v1h-1zM468 570h1v1h-1zM471 570h1v1h-1zM472 570h1v1h-1zM473 570h1v1h-1zM474 570h1v1h-1zM476 570h1v1h-1zM477 570h1v1h-1zM478 570h1v1h-1zM481 570h1v1h-1zM486 570h1v1h-1zM374 571h1v1h-1zM375 571h1v1h-1zM376 571h1v1h-1zM389 571h1v1h-1zM397 571h1v1h-1zM403 571h1v1h-1zM406 571h1v1h-1zM412 571h1v1h-1zM414 571h1v1h-1zM420 571h1v1h-1zM424 571h1v1h-1zM425 571h1v1h-1zM428 571h1v1h-1zM435 571h1v1h-1zM437 571h1v1h-1zM438 571h1v1h-1zM440 571h1v1h-1zM444 571h1v1h-1zM447 571h1v1h-1zM450 571h1v1h-1zM451 571h1v1h-1zM453 571h1v1h-1zM457 571h1v1h-1zM458 571h1v1h-1zM459 571h1v1h-1zM460 571h1v1h-1zM461 571h1v1h-1zM462 571h1v1h-1zM464 571h1v1h-1zM465 571h1v1h-1zM466 571h1v1h-1zM467 571h1v1h-1zM470 571h1v1h-1zM472 571h1v1h-1zM476 571h1v1h-1zM477 571h1v1h-1zM482 571h1v1h-1zM486 571h1v1h-1zM378 572h1v1h-1zM387 572h1v1h-1zM388 572h1v1h-1zM389 572h1v1h-1zM393 572h1v1h-1zM403 572h1v1h-1zM411 572h1v1h-1zM412 572h1v1h-1zM414 572h1v1h-1zM425 572h1v1h-1zM426 572h1v1h-1zM435 572h1v1h-1zM440 572h1v1h-1zM442 572h1v1h-1zM448 572h1v1h-1zM450 572h1v1h-1zM453 572h1v1h-1zM454 572h1v1h-1zM455 572h1v1h-1zM456 572h1v1h-1zM459 572h1v1h-1zM460 572h1v1h-1zM461 572h1v1h-1zM462 572h1v1h-1zM464 572h1v1h-1zM465 572h1v1h-1zM467 572h1v1h-1zM469 572h1v1h-1zM470 572h1v1h-1zM472 572h1v1h-1zM473 572h1v1h-1zM475 572h1v1h-1zM479 572h1v1h-1zM481 572h1v1h-1zM484 572h1v1h-1zM492 572h1v1h-1zM378 573h1v1h-1zM384 573h1v1h-1zM388 573h1v1h-1zM397 573h1v1h-1zM406 573h1v1h-1zM418 573h1v1h-1zM430 573h1v1h-1zM436 573h1v1h-1zM437 573h1v1h-1zM438 573h1v1h-1zM441 573h1v1h-1zM447 573h1v1h-1zM448 573h1v1h-1zM451 573h1v1h-1zM452 573h1v1h-1zM453 573h1v1h-1zM456 573h1v1h-1zM458 573h1v1h-1zM459 573h1v1h-1zM460 573h1v1h-1zM463 573h1v1h-1zM464 573h1v1h-1zM465 573h1v1h-1zM466 573h1v1h-1zM467 573h1v1h-1zM469 573h1v1h-1zM472 573h1v1h-1zM480 573h1v1h-1zM504 573h1v1h-1zM386 574h1v1h-1zM395 574h1v1h-1zM434 574h1v1h-1zM436 574h1v1h-1zM437 574h1v1h-1zM439 574h1v1h-1zM440 574h1v1h-1zM441 574h1v1h-1zM445 574h1v1h-1zM448 574h1v1h-1zM449 574h1v1h-1zM452 574h1v1h-1zM453 574h1v1h-1zM457 574h1v1h-1zM459 574h1v1h-1zM460 574h1v1h-1zM461 574h1v1h-1zM462 574h1v1h-1zM464 574h1v1h-1zM465 574h1v1h-1zM466 574h1v1h-1zM467 574h1v1h-1zM468 574h1v1h-1zM469 574h1v1h-1zM471 574h1v1h-1zM472 574h1v1h-1zM478 574h1v1h-1zM481 574h1v1h-1zM482 574h1v1h-1zM483 574h1v1h-1zM496 574h1v1h-1zM378 575h1v1h-1zM386 575h1v1h-1zM391 575h1v1h-1zM397 575h1v1h-1zM398 575h1v1h-1zM412 575h1v1h-1zM414 575h1v1h-1zM418 575h1v1h-1zM423 575h1v1h-1zM428 575h1v1h-1zM436 575h1v1h-1zM442 575h1v1h-1zM443 575h1v1h-1zM446 575h1v1h-1zM451 575h1v1h-1zM454 575h1v1h-1zM456 575h1v1h-1zM457 575h1v1h-1zM458 575h1v1h-1zM459 575h1v1h-1zM462 575h1v1h-1zM463 575h1v1h-1zM466 575h1v1h-1zM467 575h1v1h-1zM468 575h1v1h-1zM472 575h1v1h-1zM477 575h1v1h-1zM478 575h1v1h-1zM480 575h1v1h-1zM482 575h1v1h-1zM485 575h1v1h-1zM489 575h1v1h-1zM370 576h1v1h-1zM371 576h1v1h-1zM373 576h1v1h-1zM382 576h1v1h-1zM390 576h1v1h-1zM391 576h1v1h-1zM399 576h1v1h-1zM414 576h1v1h-1zM418 576h1v1h-1zM421 576h1v1h-1zM426 576h1v1h-1zM432 576h1v1h-1zM435 576h1v1h-1zM440 576h1v1h-1zM443 576h1v1h-1zM446 576h1v1h-1zM453 576h1v1h-1zM454 576h1v1h-1zM455 576h1v1h-1zM459 576h1v1h-1zM460 576h1v1h-1zM461 576h1v1h-1zM462 576h1v1h-1zM464 576h1v1h-1zM465 576h1v1h-1zM466 576h1v1h-1zM468 576h1v1h-1zM469 576h1v1h-1zM471 576h1v1h-1zM473 576h1v1h-1zM474 576h1v1h-1zM475 576h1v1h-1zM371 577h1v1h-1zM373 577h1v1h-1zM379 577h1v1h-1zM381 577h1v1h-1zM386 577h1v1h-1zM392 577h1v1h-1zM394 577h1v1h-1zM396 577h1v1h-1zM404 577h1v1h-1zM412 577h1v1h-1zM426 577h1v1h-1zM430 577h1v1h-1zM431 577h1v1h-1zM435 577h1v1h-1zM442 577h1v1h-1zM448 577h1v1h-1zM452 577h1v1h-1zM457 577h1v1h-1zM460 577h1v1h-1zM461 577h1v1h-1zM464 577h1v1h-1zM472 577h1v1h-1zM474 577h1v1h-1zM476 577h1v1h-1zM510 577h1v1h-1zM372 578h1v1h-1zM382 578h1v1h-1zM400 578h1v1h-1zM402 578h1v1h-1zM420 578h1v1h-1zM434 578h1v1h-1zM435 578h1v1h-1zM438 578h1v1h-1zM453 578h1v1h-1zM454 578h1v1h-1zM455 578h1v1h-1zM457 578h1v1h-1zM458 578h1v1h-1zM459 578h1v1h-1zM471 578h1v1h-1zM474 578h1v1h-1zM475 578h1v1h-1zM476 578h1v1h-1zM478 578h1v1h-1zM480 578h1v1h-1zM368 579h1v1h-1zM374 579h1v1h-1zM375 579h1v1h-1zM381 579h1v1h-1zM395 579h1v1h-1zM399 579h1v1h-1zM413 579h1v1h-1zM426 579h1v1h-1zM427 579h1v1h-1zM436 579h1v1h-1zM444 579h1v1h-1zM455 579h1v1h-1zM457 579h1v1h-1zM458 579h1v1h-1zM463 579h1v1h-1zM464 579h1v1h-1zM465 579h1v1h-1zM466 579h1v1h-1zM471 579h1v1h-1zM473 579h1v1h-1zM479 579h1v1h-1zM376 580h1v1h-1zM380 580h1v1h-1zM390 580h1v1h-1zM407 580h1v1h-1zM412 580h1v1h-1zM419 580h1v1h-1zM421 580h1v1h-1zM423 580h1v1h-1zM431 580h1v1h-1zM436 580h1v1h-1zM437 580h1v1h-1zM442 580h1v1h-1zM452 580h1v1h-1zM453 580h1v1h-1zM459 580h1v1h-1zM468 580h1v1h-1zM470 580h1v1h-1zM483 580h1v1h-1zM491 580h1v1h-1zM369 581h1v1h-1zM396 581h1v1h-1zM406 581h1v1h-1zM409 581h1v1h-1zM410 581h1v1h-1zM424 581h1v1h-1zM427 581h1v1h-1zM429 581h1v1h-1zM430 581h1v1h-1zM437 581h1v1h-1zM440 581h1v1h-1zM443 581h1v1h-1zM464 581h1v1h-1zM468 581h1v1h-1zM469 581h1v1h-1zM470 581h1v1h-1zM369 582h1v1h-1zM373 582h1v1h-1zM375 582h1v1h-1zM383 582h1v1h-1zM393 582h1v1h-1zM401 582h1v1h-1zM416 582h1v1h-1zM417 582h1v1h-1zM418 582h1v1h-1zM421 582h1v1h-1zM426 582h1v1h-1zM430 582h1v1h-1zM434 582h1v1h-1zM447 582h1v1h-1zM454 582h1v1h-1zM455 582h1v1h-1zM457 582h1v1h-1zM462 582h1v1h-1zM463 582h1v1h-1zM466 582h1v1h-1zM471 582h1v1h-1zM475 582h1v1h-1zM477 582h1v1h-1zM492 582h1v1h-1z" fill="#1a1a1a"/>
<rect x="366.8" y="449.6" width="147.2" height="134.19999999999993" fill="none" stroke="#222" stroke-width="1.15"/>
<line x1="397.7" y1="449.6" x2="397.7" y2="583.8" stroke="#000" stroke-width="1.2"/>
<line x1="366.8" y1="555.8" x2="514" y2="555.8" stroke="#000" stroke-width="1.2"/>
<line x1="366.8" y1="583.8" x2="366.8" y2="586.3" stroke="#333" stroke-width="1"/>
<text x="367.7" y="594.0999999999999" font-size="8.2" font-weight="normal" text-anchor="middle">10<tspan font-size="6.8" dy="-3.8">0</tspan></text>
<line x1="364.3" y1="583.8" x2="366.8" y2="583.8" stroke="#333" stroke-width="1"/>
<text transform="translate(362.6,582.5) rotate(-90)" font-size="8.2" font-weight="normal" text-anchor="middle">10<tspan font-size="6.8" dy="-3.8">0</tspan></text>
<line x1="377.8779038404345" y1="583.8" x2="377.8779038404345" y2="585.4" stroke="#444" stroke-width="0.8"/>
<line x1="365.2" y1="573.7004436454733" x2="366.8" y2="573.7004436454733" stroke="#444" stroke-width="0.8"/>
<line x1="384.3580621736836" y1="583.8" x2="384.3580621736836" y2="585.4" stroke="#444" stroke-width="0.8"/>
<line x1="365.2" y1="567.7925819041553" x2="366.8" y2="567.7925819041553" stroke="#444" stroke-width="0.8"/>
<line x1="388.95580768086904" y1="583.8" x2="388.95580768086904" y2="585.4" stroke="#444" stroke-width="0.8"/>
<line x1="365.2" y1="563.6008872909468" x2="366.8" y2="563.6008872909468" stroke="#444" stroke-width="0.8"/>
<line x1="392.5220961595655" y1="583.8" x2="392.5220961595655" y2="585.4" stroke="#444" stroke-width="0.8"/>
<line x1="365.2" y1="560.3495563545265" x2="366.8" y2="560.3495563545265" stroke="#444" stroke-width="0.8"/>
<line x1="395.4359660141181" y1="583.8" x2="395.4359660141181" y2="585.4" stroke="#444" stroke-width="0.8"/>
<line x1="365.2" y1="557.6930255496287" x2="366.8" y2="557.6930255496287" stroke="#444" stroke-width="0.8"/>
<line x1="397.89960787252465" y1="583.8" x2="397.89960787252465" y2="585.4" stroke="#444" stroke-width="0.8"/>
<line x1="365.2" y1="555.4469607575217" x2="366.8" y2="555.4469607575217" stroke="#444" stroke-width="0.8"/>
<line x1="400.03371152130353" y1="583.8" x2="400.03371152130353" y2="585.4" stroke="#444" stroke-width="0.8"/>
<line x1="365.2" y1="553.5013309364202" x2="366.8" y2="553.5013309364202" stroke="#444" stroke-width="0.8"/>
<line x1="401.91612434736714" y1="583.8" x2="401.91612434736714" y2="585.4" stroke="#444" stroke-width="0.8"/>
<line x1="365.2" y1="551.7851638083106" x2="366.8" y2="551.7851638083106" stroke="#444" stroke-width="0.8"/>
<line x1="403.6" y1="583.8" x2="403.6" y2="586.3" stroke="#333" stroke-width="1"/>
<text x="404.9" y="594.0999999999999" font-size="8.2" font-weight="normal" text-anchor="middle">10<tspan font-size="6.8" dy="-3.8">1</tspan></text>
<line x1="364.3" y1="550.25" x2="366.8" y2="550.25" stroke="#333" stroke-width="1"/>
<text transform="translate(362.6,550.3) rotate(-90)" font-size="8.2" font-weight="normal" text-anchor="middle">10<tspan font-size="6.8" dy="-3.8">1</tspan></text>
<line x1="414.6779038404345" y1="583.8" x2="414.6779038404345" y2="585.4" stroke="#444" stroke-width="0.8"/>
<line x1="365.2" y1="540.1504436454734" x2="366.8" y2="540.1504436454734" stroke="#444" stroke-width="0.8"/>
<line x1="421.1580621736836" y1="583.8" x2="421.1580621736836" y2="585.4" stroke="#444" stroke-width="0.8"/>
<line x1="365.2" y1="534.2425819041554" x2="366.8" y2="534.2425819041554" stroke="#444" stroke-width="0.8"/>
<line x1="425.75580768086905" y1="583.8" x2="425.75580768086905" y2="585.4" stroke="#444" stroke-width="0.8"/>
<line x1="365.2" y1="530.0508872909469" x2="366.8" y2="530.0508872909469" stroke="#444" stroke-width="0.8"/>
<line x1="429.3220961595655" y1="583.8" x2="429.3220961595655" y2="585.4" stroke="#444" stroke-width="0.8"/>
<line x1="365.2" y1="526.7995563545265" x2="366.8" y2="526.7995563545265" stroke="#444" stroke-width="0.8"/>
<line x1="432.2359660141181" y1="583.8" x2="432.2359660141181" y2="585.4" stroke="#444" stroke-width="0.8"/>
<line x1="365.2" y1="524.1430255496288" x2="366.8" y2="524.1430255496288" stroke="#444" stroke-width="0.8"/>
<line x1="434.69960787252467" y1="583.8" x2="434.69960787252467" y2="585.4" stroke="#444" stroke-width="0.8"/>
<line x1="365.2" y1="521.8969607575217" x2="366.8" y2="521.8969607575217" stroke="#444" stroke-width="0.8"/>
<line x1="436.83371152130354" y1="583.8" x2="436.83371152130354" y2="585.4" stroke="#444" stroke-width="0.8"/>
<line x1="365.2" y1="519.9513309364203" x2="366.8" y2="519.9513309364203" stroke="#444" stroke-width="0.8"/>
<line x1="438.71612434736716" y1="583.8" x2="438.71612434736716" y2="585.4" stroke="#444" stroke-width="0.8"/>
<line x1="365.2" y1="518.2351638083106" x2="366.8" y2="518.2351638083106" stroke="#444" stroke-width="0.8"/>
<line x1="440.4" y1="583.8" x2="440.4" y2="586.3" stroke="#333" stroke-width="1"/>
<text x="442.3" y="594.0999999999999" font-size="8.2" font-weight="normal" text-anchor="middle">10<tspan font-size="6.8" dy="-3.8">2</tspan></text>
<line x1="364.3" y1="516.7" x2="366.8" y2="516.7" stroke="#333" stroke-width="1"/>
<text transform="translate(362.6,514.6) rotate(-90)" font-size="8.2" font-weight="normal" text-anchor="middle">10<tspan font-size="6.8" dy="-3.8">2</tspan></text>
<line x1="451.47790384043446" y1="583.8" x2="451.47790384043446" y2="585.4" stroke="#444" stroke-width="0.8"/>
<line x1="365.2" y1="506.6004436454735" x2="366.8" y2="506.6004436454735" stroke="#444" stroke-width="0.8"/>
<line x1="457.9580621736836" y1="583.8" x2="457.9580621736836" y2="585.4" stroke="#444" stroke-width="0.8"/>
<line x1="365.2" y1="500.69258190415536" x2="366.8" y2="500.69258190415536" stroke="#444" stroke-width="0.8"/>
<line x1="462.555807680869" y1="583.8" x2="462.555807680869" y2="585.4" stroke="#444" stroke-width="0.8"/>
<line x1="365.2" y1="496.50088729094693" x2="366.8" y2="496.50088729094693" stroke="#444" stroke-width="0.8"/>
<line x1="466.12209615956544" y1="583.8" x2="466.12209615956544" y2="585.4" stroke="#444" stroke-width="0.8"/>
<line x1="365.2" y1="493.24955635452665" x2="366.8" y2="493.24955635452665" stroke="#444" stroke-width="0.8"/>
<line x1="469.03596601411806" y1="583.8" x2="469.03596601411806" y2="585.4" stroke="#444" stroke-width="0.8"/>
<line x1="365.2" y1="490.5930255496288" x2="366.8" y2="490.5930255496288" stroke="#444" stroke-width="0.8"/>
<line x1="471.4996078725246" y1="583.8" x2="471.4996078725246" y2="585.4" stroke="#444" stroke-width="0.8"/>
<line x1="365.2" y1="488.34696075752174" x2="366.8" y2="488.34696075752174" stroke="#444" stroke-width="0.8"/>
<line x1="473.6337115213035" y1="583.8" x2="473.6337115213035" y2="585.4" stroke="#444" stroke-width="0.8"/>
<line x1="365.2" y1="486.4013309364204" x2="366.8" y2="486.4013309364204" stroke="#444" stroke-width="0.8"/>
<line x1="475.5161243473671" y1="583.8" x2="475.5161243473671" y2="585.4" stroke="#444" stroke-width="0.8"/>
<line x1="365.2" y1="484.68516380831073" x2="366.8" y2="484.68516380831073" stroke="#444" stroke-width="0.8"/>
<line x1="477.2" y1="583.8" x2="477.2" y2="586.3" stroke="#333" stroke-width="1"/>
<text x="478.8" y="594.0999999999999" font-size="8.2" font-weight="normal" text-anchor="middle">10<tspan font-size="6.8" dy="-3.8">3</tspan></text>
<line x1="364.3" y1="483.15" x2="366.8" y2="483.15" stroke="#333" stroke-width="1"/>
<text transform="translate(362.6,481.9) rotate(-90)" font-size="8.2" font-weight="normal" text-anchor="middle">10<tspan font-size="6.8" dy="-3.8">3</tspan></text>
<line x1="488.2779038404345" y1="583.8" x2="488.2779038404345" y2="585.4" stroke="#444" stroke-width="0.8"/>
<line x1="365.2" y1="473.0504436454734" x2="366.8" y2="473.0504436454734" stroke="#444" stroke-width="0.8"/>
<line x1="494.7580621736836" y1="583.8" x2="494.7580621736836" y2="585.4" stroke="#444" stroke-width="0.8"/>
<line x1="365.2" y1="467.1425819041553" x2="366.8" y2="467.1425819041553" stroke="#444" stroke-width="0.8"/>
<line x1="499.355807680869" y1="583.8" x2="499.355807680869" y2="585.4" stroke="#444" stroke-width="0.8"/>
<line x1="365.2" y1="462.95088729094687" x2="366.8" y2="462.95088729094687" stroke="#444" stroke-width="0.8"/>
<line x1="502.92209615956546" y1="583.8" x2="502.92209615956546" y2="585.4" stroke="#444" stroke-width="0.8"/>
<line x1="365.2" y1="459.6995563545266" x2="366.8" y2="459.6995563545266" stroke="#444" stroke-width="0.8"/>
<line x1="505.83596601411807" y1="583.8" x2="505.83596601411807" y2="585.4" stroke="#444" stroke-width="0.8"/>
<line x1="365.2" y1="457.04302554962874" x2="366.8" y2="457.04302554962874" stroke="#444" stroke-width="0.8"/>
<line x1="508.29960787252463" y1="583.8" x2="508.29960787252463" y2="585.4" stroke="#444" stroke-width="0.8"/>
<line x1="365.2" y1="454.7969607575217" x2="366.8" y2="454.7969607575217" stroke="#444" stroke-width="0.8"/>
<line x1="510.4337115213035" y1="583.8" x2="510.4337115213035" y2="585.4" stroke="#444" stroke-width="0.8"/>
<line x1="365.2" y1="452.8513309364203" x2="366.8" y2="452.8513309364203" stroke="#444" stroke-width="0.8"/>
<line x1="512.3161243473671" y1="583.8" x2="512.3161243473671" y2="585.4" stroke="#444" stroke-width="0.8"/>
<line x1="365.2" y1="451.13516380831066" x2="366.8" y2="451.13516380831066" stroke="#444" stroke-width="0.8"/>
<line x1="514.0" y1="583.8" x2="514.0" y2="586.3" stroke="#333" stroke-width="1"/>
<text x="511.4" y="594.0999999999999" font-size="8.2" font-weight="normal" text-anchor="middle">10<tspan font-size="6.8" dy="-3.8">4</tspan></text>
<line x1="364.3" y1="449.6" x2="366.8" y2="449.6" stroke="#333" stroke-width="1"/>
<text transform="translate(362.6,450.2) rotate(-90)" font-size="8.2" font-weight="normal" text-anchor="middle">10<tspan font-size="6.8" dy="-3.8">4</tspan></text>
<text transform="translate(345.6,546.8) rotate(-90)" font-size="8.8" font-weight="bold" text-anchor="start" >CD10-FITC (FL1)</text>
<line x1="340.4" y1="453.2" x2="340.4" y2="462.7" stroke="#000" stroke-width="1.5"/>
<path d="M340.4,444.2 L337.09999999999997,454.2 L343.7,454.2 Z" fill="#000"/>
<text x="421.7" y="607.3" font-size="8.8" font-weight="bold" text-anchor="start" fill="#000" >LFA-1&#160;&#160;PE (FL2)</text>
<line x1="499.4" y1="603.8" x2="506" y2="603.8" stroke="#000" stroke-width="1.5"/>
<path d="M514,603.8 L505,600.5999999999999 L505,607.0 Z" fill="#000"/>
</svg></body></html>
